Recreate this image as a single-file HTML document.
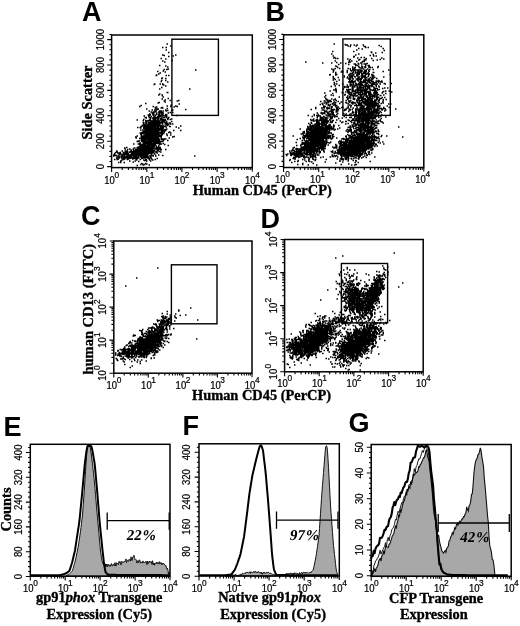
<!DOCTYPE html>
<html><head><meta charset="utf-8"><style>html,body{margin:0;padding:0;background:#fff;width:520px;height:626px;overflow:hidden}svg{display:block;filter:blur(0.45px)}.tl{font-family:'Liberation Sans',sans-serif;stroke:#000;stroke-width:0.22px}</style></head>
<body><svg width="520" height="626" viewBox="0 0 520 626">
<rect width="520" height="626" fill="#fff"/>
<g transform="scale(0.5)"><path d="M303 261h3M308 252h3M297 273h3M296 251h3M296 271h3M290 272h3M289 321h3M318 259h3M296 269h3M295 268h3M303 283h3M298 295h3M304 263h3M295 254h3M308 239h3M312 256h3M284 281h3M295 273h3M286 248h3M289 262h3M281 269h3M295 283h3M290 258h3M304 269h3M311 236h3M304 249h3M266 300h3M306 227h3M301 266h3M300 278h3M286 262h3M299 255h3M290 269h3M292 271h3M311 274h3M301 233h3M300 270h3M313 258h3M297 260h3M298 277h3M298 286h3M296 291h3M290 260h3M296 292h3M308 300h3M279 292h3M302 303h3M302 270h3M294 268h3M316 295h3M315 247h3M287 274h3M303 262h3M308 267h3M307 237h3M311 257h3M299 272h3M302 293h3M309 297h3M294 270h3M303 270h3M300 255h3M299 282h3M289 265h3M291 284h3M289 308h3M309 275h3M319 245h3M291 252h3M299 241h3M313 250h3M273 295h3M294 276h3M307 242h3M309 289h3M301 300h3M299 265h3M300 258h3M314 283h3M292 285h3M291 296h3M297 299h3M293 297h3M291 300h3M285 284h3M308 242h3M310 282h3M309 267h3M295 292h3M301 253h3M303 305h3M297 287h3M305 279h3M282 289h3M298 296h3M281 276h3M292 218h3M293 261h3M307 253h3M322 283h3M286 295h3M296 262h3M308 250h3M295 316h3M301 263h3M304 247h3M306 280h3M293 256h3M295 289h3M303 263h3M294 252h3M302 277h3M287 287h3M313 263h3M300 280h3M301 271h3M280 329h3M302 258h3M273 296h3M289 269h3M304 271h3M275 282h3M304 293h3M276 294h3M306 282h3M295 259h3M311 264h3M299 284h3M282 281h3M306 305h3M312 285h3M294 294h3M290 303h3M298 276h3M298 240h3M317 252h3M302 242h3M291 305h3M296 254h3M287 297h3M284 282h3M304 311h3M293 293h3M310 273h3M301 269h3M293 273h3M296 276h3M297 261h3M300 272h3M288 305h3M306 238h3M285 275h3M296 252h3M316 281h3M289 288h3M299 290h3M322 244h3M280 292h3M301 260h3M290 284h3M281 272h3M321 222h3M304 258h3M285 303h3M303 280h3M293 277h3M306 244h3M282 299h3M279 307h3M313 277h3M296 267h3M311 241h3M295 291h3M282 327h3M291 286h3M300 300h3M294 283h3M303 253h3M293 300h3M318 251h3M308 270h3M302 280h3M290 290h3M284 278h3M308 283h3M314 260h3M305 246h3M305 276h3M311 260h3M315 248h3M316 250h3M298 262h3M325 239h3M294 242h3M317 242h3M304 278h3M307 284h3M309 319h3M323 246h3M292 256h3M278 287h3M309 271h3M291 264h3M291 308h3M310 268h3M289 245h3M285 241h3M301 280h3M299 279h3M304 244h3M305 253h3M289 282h3M302 259h3M287 283h3M281 281h3M314 238h3M302 282h3M293 259h3M304 228h3M291 265h3M287 286h3M294 306h3M303 226h3M290 327h3M309 251h3M316 298h3M280 295h3M304 295h3M306 249h3M282 282h3M299 257h3M320 223h3M285 330h3M297 288h3M288 309h3M316 257h3M292 303h3M270 300h3M280 268h3M273 240h3M296 268h3M325 231h3M309 238h3M288 272h3M296 250h3M312 272h3M302 271h3M291 312h3M293 299h3M301 272h3M302 300h3M310 259h3M304 267h3M285 289h3M311 249h3M295 266h3M318 249h3M287 272h3M290 306h3M285 274h3M322 259h3M321 253h3M302 247h3M300 305h3M292 322h3M271 276h3M306 259h3M296 287h3M303 266h3M285 287h3M296 278h3M297 278h3M309 288h3M306 262h3M302 265h3M324 242h3M297 263h3M303 243h3M282 265h3M321 257h3M309 277h3M307 285h3M314 246h3M305 257h3M307 254h3M294 288h3M289 307h3M296 290h3M317 270h3M298 304h3M287 302h3M297 258h3M330 220h3M292 328h3M293 305h3M302 251h3M288 274h3M300 268h3M308 277h3M304 242h3M301 259h3M295 282h3M278 293h3M297 274h3M279 319h3M313 261h3M291 276h3M316 235h3M322 251h3M290 299h3M299 252h3M295 249h3M306 267h3M323 268h3M300 262h3M286 284h3M292 251h3M287 276h3M313 274h3M286 292h3M297 330h3M311 294h3M303 273h3M306 271h3M324 260h3M303 254h3M299 251h3M288 262h3M303 264h3M311 292h3M312 267h3M291 267h3M298 246h3M287 305h3M300 284h3M289 309h3M298 290h3M295 304h3M298 267h3M296 288h3M288 329h3M305 248h3M299 298h3M310 312h3M304 283h3M297 289h3M276 295h3M307 260h3M278 277h3M290 251h3M312 261h3M310 262h3M299 270h3M282 272h3M294 282h3M301 242h3M296 316h3M317 303h3M298 289h3M294 264h3M289 268h3M297 284h3M296 281h3M297 235h3M273 331h3M321 237h3M306 296h3M309 283h3M298 303h3M295 275h3M289 303h3M288 266h3M288 261h3M307 277h3M300 263h3M315 257h3M299 245h3M298 287h3M305 272h3M310 218h3M310 275h3M308 251h3M290 261h3M283 303h3M314 252h3M310 252h3M273 298h3M313 279h3M298 307h3M312 283h3M301 254h3M297 271h3M282 296h3M321 299h3M298 273h3M316 278h3M294 269h3M305 261h3M273 309h3M296 272h3M316 252h3M307 291h3M300 287h3M290 268h3M298 258h3M295 272h3M308 238h3M301 244h3M287 288h3M299 262h3M288 278h3M281 295h3M296 286h3M309 276h3M273 314h3M295 264h3M286 286h3M306 284h3M299 254h3M315 278h3M293 268h3M314 233h3M299 269h3M294 265h3M308 265h3M307 238h3M289 272h3M305 249h3M297 286h3M292 266h3M286 254h3M309 264h3M283 293h3M284 260h3M301 267h3M310 280h3M279 291h3M301 224h3M297 254h3M294 249h3M296 253h3M304 281h3M297 253h3M304 277h3M288 279h3M292 255h3M281 271h3M295 279h3M306 260h3M306 254h3M315 296h3M294 253h3M285 265h3M284 294h3M289 259h3M307 279h3M314 254h3M285 316h3M316 268h3M274 255h3M308 263h3M290 267h3M307 289h3M287 314h3M284 274h3M283 300h3M313 282h3M305 287h3M292 268h3M281 267h3M297 267h3M311 229h3M301 265h3M291 261h3M301 268h3M311 285h3M325 252h3M291 277h3M299 276h3M296 264h3M304 256h3M300 299h3M304 251h3M295 305h3M294 290h3M295 262h3M286 287h3M305 243h3M303 236h3M309 247h3M288 263h3M286 272h3M305 228h3M286 239h3M304 260h3M304 265h3M303 244h3M301 252h3M290 270h3M294 284h3M292 283h3M306 253h3M292 254h3M307 255h3M299 283h3M309 231h3M289 297h3M287 253h3M303 281h3M297 295h3M301 281h3M299 295h3M293 274h3M291 297h3M295 303h3M284 273h3M312 270h3M291 242h3M306 289h3M297 280h3M273 272h3M315 229h3M285 267h3M284 283h3M297 256h3M312 278h3M308 224h3M299 287h3M321 264h3M312 295h3M308 235h3M294 286h3M288 265h3M309 255h3M307 261h3M290 319h3M314 259h3M296 257h3M313 254h3M302 311h3M308 260h3M306 237h3M298 298h3M284 293h3M279 286h3M300 298h3M304 255h3M304 270h3M290 241h3M304 243h3M289 291h3M295 257h3M266 314h3M296 274h3M312 262h3M300 290h3M285 308h3M297 283h3M314 250h3M270 274h3M292 301h3M308 264h3M311 259h3M312 298h3M311 279h3M305 266h3M312 260h3M293 278h3M299 275h3M303 299h3M316 292h3M306 241h3M297 281h3M297 292h3M311 286h3M318 265h3M295 251h3M293 291h3M303 251h3M319 231h3M305 297h3M288 254h3M292 264h3M311 245h3M300 244h3M291 246h3M312 268h3M303 282h3M317 227h3M291 287h3M308 290h3M291 269h3M299 240h3M293 311h3M302 278h3M284 299h3M291 293h3M313 260h3M288 294h3M299 256h3M314 269h3M313 317h3M319 284h3M300 275h3M291 319h3M314 284h3M303 256h3M307 249h3M299 297h3M286 257h3M289 257h3M306 278h3M304 253h3M299 285h3M317 233h3M299 263h3M307 266h3M292 265h3M295 278h3M296 245h3M308 288h3M296 258h3M304 248h3M305 282h3M289 249h3M291 294h3M320 300h3M302 307h3M300 267h3M313 253h3M316 299h3M296 279h3M291 295h3M312 276h3M299 299h3M302 292h3M317 288h3M315 285h3M306 279h3M275 288h3M302 295h3M297 270h3M284 264h3M293 315h3M303 246h3M298 257h3M298 266h3M266 311h3M311 280h3M298 293h3M316 255h3M318 285h3M273 305h3M285 282h3M306 252h3M305 268h3M297 222h3M300 286h3M296 284h3M306 246h3M292 277h3M278 289h3M293 302h3M321 267h3M315 271h3M307 274h3M315 277h3M294 296h3M298 269h3M302 268h3M294 279h3M292 260h3M326 267h3M295 315h3M300 302h3M286 279h3M298 271h3M298 320h3M302 272h3M292 278h3M294 302h3M295 271h3M304 320h3M285 250h3M290 285h3M300 251h3M297 312h3M308 268h3M314 275h3M279 288h3M303 250h3M313 246h3M290 273h3M280 266h3M298 265h3M288 255h3M308 259h3M300 285h3M308 308h3M308 233h3M294 263h3M288 281h3M293 251h3M305 271h3M299 250h3M277 282h3M300 269h3M302 281h3M314 243h3M297 285h3M311 282h3M299 294h3M298 299h3M291 247h3M302 257h3M290 304h3M295 302h3M290 255h3M322 253h3M291 236h3M306 247h3M299 247h3M297 257h3M306 273h3M289 284h3M312 269h3M326 280h3M294 254h3M286 307h3M288 284h3M288 270h3M281 308h3M283 299h3M298 261h3M279 266h3M292 243h3M295 277h3M301 276h3M284 328h3M282 271h3M306 229h3M311 261h3M305 277h3M295 253h3M292 279h3M289 267h3M311 293h3M305 263h3M314 266h3M302 244h3M313 259h3M291 285h3M307 240h3M325 278h3M304 290h3M297 264h3M298 278h3M306 303h3M289 294h3M281 273h3M305 252h3M296 293h3M305 311h3M292 258h3M310 271h3M321 278h3M310 242h3M297 293h3M311 304h3M296 247h3M306 245h3M311 262h3M296 275h3M304 264h3M288 316h3M288 273h3M296 249h3M301 257h3M305 283h3M292 259h3M281 304h3M307 293h3M319 295h3M318 289h3M301 273h3M292 311h3M320 258h3M288 264h3M318 248h3M312 287h3M303 274h3M309 268h3M311 250h3M294 273h3M287 232h3M309 278h3M307 275h3M305 260h3M317 247h3M286 310h3M318 252h3M288 293h3M280 305h3M317 257h3M282 291h3M299 316h3M315 264h3M293 283h3M310 249h3M297 318h3M295 269h3M285 311h3M302 266h3M300 273h3M288 304h3M312 275h3M306 286h3M314 270h3M306 276h3M323 279h3M313 302h3M312 297h3M281 266h3M294 255h3M306 285h3M298 279h3M300 294h3M309 263h3M318 244h3M273 283h3M292 262h3M304 299h3M294 287h3M305 213h3M304 275h3M298 241h3M285 292h3M272 320h3M302 262h3M294 299h3M298 306h3M292 296h3M295 287h3M294 256h3M313 266h3M298 245h3M301 283h3M301 286h3M318 288h3M296 305h3M315 287h3M305 293h3M290 283h3M287 309h3M314 235h3M299 267h3M287 249h3M307 234h3M280 260h3M290 281h3M300 241h3M291 302h3M301 279h3M287 264h3M293 254h3M285 245h3M316 277h3M308 256h3M290 311h3M303 287h3M319 271h3M310 240h3M308 244h3M299 236h3M302 289h3M308 276h3M303 260h3M317 279h3M273 297h3M311 268h3M301 256h3M288 289h3M292 246h3M308 245h3M332 250h3M309 285h3M276 323h3M291 291h3M309 281h3M297 248h3M294 266h3M310 270h3M286 311h3M298 231h3M282 277h3M291 278h3M280 256h3M307 278h3M289 289h3M317 286h3M299 229h3M301 305h3M300 322h3M287 291h3M285 291h3M284 267h3M319 260h3M279 255h3M284 290h3M298 270h3M311 235h3M315 261h3M282 253h3M307 252h3M306 257h3M285 295h3M283 314h3M307 259h3M295 263h3M315 300h3M328 260h3M278 299h3M296 303h3M325 281h3M305 288h3M300 250h3M292 297h3M295 274h3M297 268h3M293 250h3M308 240h3M301 316h3M306 263h3M302 250h3M313 255h3M315 270h3M306 251h3M290 279h3M296 266h3M288 292h3M302 273h3M311 278h3M280 254h3M276 283h3M304 302h3M315 240h3M317 281h3M306 265h3M307 292h3M324 283h3M319 252h3M295 301h3M344 220h3M313 235h3M321 279h3M310 256h3M309 241h3M300 274h3M314 263h3M321 246h3M323 238h3M302 263h3M278 213h3M296 298h3M296 232h3M297 301h3M339 239h3M311 271h3M321 228h3M325 226h3M320 225h3M290 276h3M337 246h3M312 259h3M322 270h3M305 267h3M333 217h3M295 290h3M314 271h3M329 252h3M327 235h3M323 215h3M318 222h3M330 278h3M314 247h3M322 230h3M338 253h3M312 296h3M324 252h3M315 241h3M330 299h3M314 268h3M320 260h3M318 242h3M312 214h3M309 223h3M324 248h3M321 254h3M307 262h3M294 261h3M293 252h3M306 225h3M347 214h3M334 251h3M360 252h3M332 247h3M316 224h3M281 211h3M307 250h3M333 247h3M324 255h3M322 261h3M313 306h3M307 235h3M282 278h3M319 298h3M339 246h3M303 304h3M298 251h3M309 270h3M311 256h3M322 255h3M296 282h3M332 245h3M328 235h3M297 277h3M335 237h3M313 268h3M291 292h3M308 220h3M323 266h3M339 225h3M327 243h3M315 237h3M295 270h3M289 271h3M319 237h3M319 257h3M325 244h3M312 235h3M305 274h3M306 293h3M326 231h3M335 197h3M315 218h3M326 235h3M320 255h3M304 268h3M306 248h3M328 244h3M344 274h3M320 233h3M254 299h3M314 234h3M342 243h3M315 245h3M321 216h3M319 239h3M324 241h3M298 272h3M318 246h3M305 231h3M336 235h3M340 266h3M325 256h3M335 249h3M316 285h3M333 271h3M328 262h3M333 212h3M330 229h3M309 273h3M304 288h3M314 262h3M291 235h3M309 244h3M295 230h3M305 278h3M311 263h3M295 241h3M326 253h3M319 273h3M312 264h3M344 248h3M320 304h3M327 262h3M305 291h3M327 260h3M317 229h3M310 237h3M327 202h3M300 282h3M315 206h3M330 241h3M323 234h3M287 251h3M332 249h3M319 246h3M324 258h3M309 252h3M316 267h3M322 240h3M313 275h3M344 225h3M332 248h3M303 292h3M353 202h3M323 242h3M323 278h3M261 300h3M357 208h3M301 288h3M283 283h3M302 275h3M337 276h3M329 239h3M286 264h3M332 235h3M312 248h3M328 289h3M312 226h3M289 235h3M323 225h3M297 279h3M283 251h3M335 226h3M336 265h3M298 228h3M336 249h3M351 254h3M319 240h3M318 284h3M321 258h3M329 248h3M313 242h3M303 220h3M334 281h3M285 298h3M305 286h3M292 252h3M299 243h3M304 261h3M300 288h3M319 283h3M327 244h3M308 289h3M331 254h3M323 253h3M317 205h3M317 225h3M320 239h3M326 260h3M323 261h3M324 216h3M330 261h3M325 222h3M312 265h3M305 251h3M288 298h3M307 267h3M327 278h3M332 268h3M325 287h3M332 230h3M315 284h3M335 291h3M311 222h3M342 238h3M290 293h3M290 207h3M323 269h3M328 253h3M343 221h3M350 212h3M352 231h3M326 261h3M307 246h3M321 275h3M340 213h3M300 242h3M327 240h3M324 228h3M309 239h3M321 256h3M309 215h3M305 239h3M316 310h3M305 224h3M334 221h3M319 266h3M316 273h3M294 259h3M321 230h3M332 244h3M305 236h3M310 279h3M315 258h3M316 280h3M312 218h3M331 222h3M304 272h3M314 219h3M320 251h3M315 254h3M339 201h3M294 308h3M327 263h3M299 248h3M298 297h3M332 233h3M340 270h3M324 256h3M323 264h3M297 265h3M299 238h3M347 273h3M325 243h3M330 246h3M323 256h3M338 264h3M329 232h3M314 297h3M321 288h3M340 248h3M339 253h3M300 303h3M341 210h3M327 264h3M334 238h3M313 219h3M299 306h3M346 261h3M286 298h3M325 263h3M321 272h3M315 274h3M298 252h3M302 255h3M334 239h3M360 261h3M321 268h3M329 247h3M306 243h3M316 231h3M290 271h3M290 300h3M302 248h3M264 317h3M287 270h3M315 269h3M320 245h3M356 201h3M329 259h3M308 258h3M303 302h3M310 217h3M324 311h3M332 258h3M325 194h3M317 261h3M300 301h3M252 315h3M273 301h3M303 306h3M282 310h3M267 315h3M280 313h3M262 309h3M280 298h3M274 299h3M272 312h3M248 313h3M270 305h3M273 308h3M285 306h3M287 303h3M254 307h3M295 317h3M277 303h3M281 298h3M246 308h3M312 305h3M271 312h3M265 308h3M293 304h3M285 304h3M268 302h3M253 319h3M290 307h3M302 318h3M261 305h3M253 310h3M282 311h3M253 303h3M278 301h3M260 311h3M277 309h3M281 305h3M284 312h3M255 317h3M255 313h3M308 302h3M250 315h3M296 304h3M276 310h3M277 305h3M276 298h3M282 300h3M281 311h3M283 308h3M273 317h3M280 314h3M258 316h3M270 304h3M277 306h3M268 309h3M269 302h3M260 313h3M270 314h3M249 309h3M258 322h3M276 305h3M282 305h3M263 308h3M268 304h3M278 309h3M305 312h3M271 311h3M265 312h3M264 308h3M294 295h3M261 309h3M283 301h3M271 314h3M270 308h3M290 315h3M307 307h3M270 312h3M276 313h3M262 305h3M288 321h3M271 307h3M282 304h3M266 304h3M270 299h3M276 307h3M275 309h3M282 317h3M265 324h3M250 306h3M283 312h3M310 304h3M278 310h3M282 306h3M310 311h3M272 311h3M268 311h3M288 312h3M291 307h3M265 311h3M300 313h3M281 309h3M247 312h3M274 302h3M269 306h3M277 300h3M277 308h3M268 296h3M291 304h3M258 311h3M259 304h3M301 310h3M299 296h3M259 303h3M267 309h3M290 312h3M274 300h3M274 303h3M288 299h3M274 306h3M265 298h3M292 308h3M307 301h3M280 309h3M273 302h3M278 298h3M282 302h3M287 312h3M276 304h3M275 314h3M274 310h3M290 302h3M295 308h3M280 302h3M257 305h3M272 299h3M255 312h3M278 306h3M280 306h3M296 301h3M286 314h3M254 308h3M266 316h3M267 317h3M276 309h3M277 296h3M274 304h3M267 312h3M269 308h3M270 317h3M279 303h3M239 305h3M280 300h3M292 300h3M275 301h3M258 317h3M267 310h3M229 311h3M276 316h3M284 307h3M284 309h3M270 306h3M264 304h3M298 305h3M280 301h3M280 304h3M300 312h3M286 300h3M276 306h3M275 305h3M275 310h3M294 314h3M283 295h3M289 305h3M263 310h3M313 300h3M263 306h3M285 305h3M274 307h3M247 311h3M264 315h3M259 310h3M292 304h3M278 302h3M279 300h3M271 309h3M294 300h3M263 303h3M276 308h3M269 311h3M284 295h3M270 318h3M286 305h3M260 316h3M268 305h3M269 322h3M315 294h3M264 309h3M297 306h3M286 320h3M265 303h3M255 310h3M286 309h3M253 304h3M245 313h3M263 316h3M251 314h3M252 305h3M254 312h3M299 303h3M268 303h3M264 318h3M247 325h3M250 309h3M279 305h3M285 313h3M314 301h3M272 302h3M277 311h3M237 309h3M283 307h3M269 315h3M294 304h3M303 297h3M255 314h3M267 307h3M294 305h3M277 307h3M263 315h3M267 296h3M271 310h3M287 296h3M261 303h3M234 306h3M253 305h3M228 319h3M237 314h3M253 315h3M271 318h3M246 315h3M242 316h3M248 306h3M262 306h3M258 314h3M246 319h3M240 325h3M236 314h3M257 311h3M246 317h3M241 312h3M254 310h3M249 305h3M245 305h3M238 315h3M252 303h3M248 317h3M249 316h3M233 304h3M234 319h3M239 307h3M255 308h3M249 298h3M241 313h3M258 312h3M236 306h3M269 304h3M264 305h3M236 325h3M249 302h3M235 318h3M232 302h3M253 301h3M232 316h3M243 309h3M243 318h3M265 307h3M257 304h3M248 296h3M250 313h3M230 305h3M240 322h3M233 319h3M251 304h3M244 309h3M251 308h3M228 307h3M251 313h3M242 314h3M226 310h3M248 318h3M233 314h3M252 295h3M253 307h3M256 310h3M250 316h3M226 312h3M262 308h3M228 309h3M238 309h3M240 308h3M245 314h3M267 306h3M243 302h3M261 313h3M246 313h3M262 316h3M254 316h3M236 311h3M250 303h3M242 321h3M256 313h3M255 318h3M232 311h3M258 298h3M243 312h3M262 310h3M253 311h3M237 316h3M258 313h3M330 172h3M324 122h3M333 185h3M334 164h3M322 161h3M322 175h3M319 168h3M330 118h3M335 138h3M336 105h3M318 131h3M316 190h3M314 143h3M343 121h3M331 100h3M326 170h3M318 188h3M329 204h3M311 151h3M323 190h3M345 112h3M323 156h3M328 124h3M330 157h3M318 178h3M323 191h3M336 113h3M323 198h3M330 132h3M327 111h3M329 144h3M331 95h3M336 151h3M330 161h3M325 142h3M307 169h3M332 139h3M331 151h3M324 95h3M312 150h3M321 117h3M334 134h3M319 146h3M322 157h3M333 88h3M340 92h3M327 139h3M324 168h3M321 163h3M334 185h3M329 200h3M324 169h3M316 148h3M324 110h3M350 110h3M390 140h3M378 178h3M353 213h3M370 219h3M388 312h3M356 256h3M266 288h3M308 168h3M647 226h3M621 283h3M650 251h3M622 297h3M649 245h3M651 239h3M635 285h3M629 284h3M634 279h3M649 254h3M617 289h3M637 241h3M642 269h3M645 262h3M634 266h3M618 289h3M663 277h3M618 281h3M622 287h3M654 244h3M633 246h3M637 268h3M657 275h3M638 286h3M660 242h3M630 292h3M625 290h3M644 278h3M646 248h3M628 273h3M639 265h3M635 291h3M636 275h3M631 293h3M616 255h3M629 310h3M682 245h3M657 264h3M623 282h3M640 241h3M627 291h3M635 246h3M639 281h3M637 254h3M647 272h3M644 286h3M612 261h3M639 269h3M601 312h3M617 267h3M636 253h3M620 291h3M634 297h3M603 289h3M623 315h3M663 269h3M627 299h3M625 300h3M632 275h3M617 273h3M671 221h3M642 266h3M620 313h3M678 256h3M645 269h3M633 283h3M642 295h3M600 298h3M640 235h3M628 274h3M616 287h3M654 254h3M629 272h3M629 321h3M633 309h3M634 290h3M657 223h3M640 276h3M636 287h3M624 263h3M636 276h3M637 272h3M659 266h3M642 287h3M627 264h3M637 270h3M624 268h3M630 293h3M620 274h3M655 258h3M637 275h3M637 290h3M636 265h3M604 288h3M642 300h3M641 255h3M643 289h3M615 315h3M622 309h3M652 285h3M626 294h3M654 271h3M633 239h3M627 278h3M625 284h3M632 283h3M655 275h3M608 273h3M623 291h3M625 270h3M635 298h3M647 239h3M645 263h3M612 300h3M640 286h3M629 271h3M646 251h3M613 273h3M627 292h3M657 252h3M620 282h3M638 291h3M606 271h3M625 242h3M612 277h3M643 244h3M616 303h3M630 277h3M644 252h3M625 305h3M614 294h3M626 255h3M595 310h3M665 269h3M604 267h3M617 296h3M672 240h3M626 297h3M624 269h3M653 260h3M641 289h3M635 248h3M651 261h3M640 268h3M657 258h3M629 313h3M643 248h3M625 252h3M640 271h3M650 286h3M630 294h3M625 292h3M660 284h3M625 261h3M641 281h3M617 287h3M625 289h3M639 266h3M670 245h3M599 310h3M616 290h3M613 270h3M633 284h3M633 262h3M647 258h3M625 262h3M631 269h3M650 269h3M646 246h3M642 273h3M631 289h3M634 263h3M616 266h3M665 241h3M636 272h3M644 279h3M625 240h3M634 232h3M605 270h3M632 254h3M637 291h3M643 270h3M625 287h3M637 269h3M656 251h3M630 272h3M626 288h3M614 253h3M632 265h3M637 300h3M615 295h3M622 289h3M614 291h3M622 281h3M635 296h3M620 290h3M617 277h3M599 258h3M624 274h3M585 309h3M613 264h3M643 275h3M643 272h3M612 263h3M638 285h3M649 256h3M646 233h3M636 285h3M633 235h3M615 269h3M608 290h3M623 312h3M614 274h3M626 258h3M635 247h3M643 261h3M664 241h3M624 272h3M619 267h3M620 284h3M636 269h3M621 271h3M643 263h3M656 277h3M645 238h3M631 278h3M623 274h3M619 277h3M631 250h3M620 305h3M646 263h3M621 289h3M631 277h3M656 264h3M630 300h3M630 278h3M628 284h3M639 279h3M620 280h3M631 264h3M613 265h3M639 262h3M642 243h3M644 265h3M626 259h3M627 272h3M608 292h3M639 236h3M638 281h3M651 230h3M648 258h3M657 232h3M635 229h3M625 275h3M626 273h3M639 276h3M642 261h3M606 315h3M642 277h3M643 259h3M619 310h3M633 291h3M635 267h3M615 296h3M633 280h3M633 282h3M654 262h3M630 298h3M626 276h3M629 248h3M639 260h3M620 292h3M647 274h3M627 273h3M622 286h3M638 282h3M643 243h3M623 286h3M639 303h3M620 309h3M630 283h3M613 284h3M620 308h3M635 270h3M615 309h3M607 305h3M623 290h3M609 309h3M625 293h3M656 266h3M623 299h3M611 271h3M613 268h3M608 296h3M643 264h3M626 290h3M632 256h3M622 258h3M621 259h3M629 258h3M642 290h3M606 286h3M624 318h3M632 305h3M618 293h3M618 296h3M610 296h3M631 292h3M628 281h3M643 278h3M649 273h3M641 267h3M638 272h3M644 251h3M629 287h3M620 268h3M635 279h3M630 282h3M615 283h3M660 276h3M623 267h3M640 239h3M659 234h3M633 226h3M606 299h3M636 231h3M616 278h3M614 302h3M625 312h3M619 315h3M633 300h3M611 323h3M651 267h3M621 282h3M630 263h3M662 259h3M654 255h3M608 320h3M641 280h3M625 254h3M629 277h3M622 263h3M638 248h3M661 256h3M645 264h3M620 276h3M608 314h3M607 288h3M612 310h3M632 287h3M635 275h3M626 238h3M660 237h3M638 271h3M625 313h3M624 300h3M629 264h3M648 250h3M641 268h3M612 295h3M611 314h3M627 254h3M620 260h3M634 268h3M628 242h3M621 272h3M627 282h3M643 292h3M641 278h3M632 231h3M647 259h3M640 269h3M635 263h3M661 266h3M666 250h3M611 308h3M618 274h3M649 293h3M602 312h3M645 280h3M645 297h3M621 270h3M621 300h3M622 283h3M648 292h3M624 301h3M654 236h3M644 280h3M633 266h3M631 267h3M676 251h3M614 284h3M635 256h3M634 271h3M627 231h3M647 273h3M643 235h3M636 254h3M621 269h3M619 270h3M634 274h3M632 330h3M634 288h3M652 256h3M622 255h3M638 263h3M621 265h3M646 268h3M638 258h3M613 307h3M630 276h3M629 265h3M618 261h3M639 275h3M601 294h3M613 277h3M616 295h3M658 212h3M630 302h3M612 314h3M633 277h3M650 243h3M633 292h3M618 253h3M655 243h3M628 258h3M618 298h3M619 287h3M649 259h3M615 330h3M620 239h3M631 273h3M667 260h3M626 306h3M641 293h3M622 293h3M615 268h3M620 267h3M636 283h3M662 245h3M612 290h3M618 291h3M638 269h3M624 279h3M630 315h3M649 297h3M629 276h3M642 244h3M629 259h3M607 263h3M644 276h3M626 275h3M647 304h3M630 286h3M605 277h3M644 288h3M624 283h3M627 229h3M627 305h3M655 257h3M615 288h3M632 276h3M641 282h3M642 258h3M637 306h3M626 278h3M625 274h3M593 279h3M613 286h3M639 286h3M651 248h3M627 263h3M590 298h3M624 281h3M637 277h3M625 303h3M649 290h3M643 245h3M628 298h3M610 274h3M614 259h3M650 258h3M629 280h3M618 304h3M632 260h3M639 254h3M635 289h3M666 256h3M653 232h3M619 257h3M652 270h3M640 274h3M644 269h3M629 283h3M657 286h3M638 265h3M641 270h3M614 289h3M623 289h3M671 215h3M634 252h3M652 280h3M644 242h3M644 267h3M632 267h3M659 273h3M626 286h3M636 243h3M620 254h3M626 270h3M639 253h3M612 297h3M651 260h3M587 295h3M609 286h3M622 247h3M643 286h3M628 269h3M632 247h3M639 283h3M605 311h3M649 249h3M604 274h3M643 283h3M641 272h3M647 277h3M617 295h3M649 261h3M618 308h3M642 250h3M624 289h3M623 276h3M637 288h3M619 296h3M651 287h3M604 285h3M625 327h3M634 260h3M601 289h3M640 293h3M634 283h3M625 258h3M634 289h3M636 242h3M632 242h3M603 297h3M630 269h3M617 275h3M626 284h3M642 275h3M630 266h3M618 266h3M605 288h3M616 296h3M633 310h3M636 288h3M626 268h3M659 250h3M612 281h3M632 298h3M631 266h3M630 296h3M623 304h3M627 276h3M622 298h3M616 276h3M649 243h3M678 293h3M632 290h3M641 260h3M652 264h3M614 265h3M622 273h3M624 297h3M609 284h3M645 289h3M639 287h3M624 275h3M643 220h3M637 276h3M634 286h3M622 300h3M645 257h3M621 279h3M625 295h3M620 259h3M652 240h3M650 278h3M658 261h3M619 286h3M637 258h3M625 318h3M648 290h3M624 252h3M632 264h3M639 291h3M606 300h3M617 292h3M666 273h3M632 285h3M604 319h3M643 247h3M628 306h3M640 234h3M649 250h3M627 250h3M622 260h3M619 265h3M616 286h3M619 273h3M634 284h3M628 255h3M621 313h3M613 258h3M619 249h3M633 289h3M663 244h3M626 279h3M632 243h3M635 257h3M628 295h3M632 255h3M619 279h3M620 261h3M597 306h3M641 279h3M648 256h3M631 248h3M629 252h3M623 275h3M637 279h3M608 287h3M607 266h3M614 275h3M637 287h3M610 284h3M614 286h3M645 270h3M646 240h3M634 257h3M660 230h3M648 274h3M631 262h3M642 254h3M611 309h3M624 265h3M626 307h3M600 291h3M654 260h3M604 329h3M640 257h3M639 274h3M643 285h3M641 248h3M629 274h3M648 291h3M604 300h3M637 257h3M613 290h3M634 270h3M631 281h3M655 290h3M611 267h3M642 281h3M644 263h3M630 261h3M625 283h3M627 271h3M644 254h3M649 268h3M623 253h3M645 283h3M625 277h3M646 286h3M643 266h3M644 283h3M652 253h3M674 227h3M641 239h3M649 262h3M652 257h3M646 300h3M624 240h3M626 280h3M648 273h3M632 244h3M646 244h3M648 297h3M642 291h3M614 285h3M626 319h3M641 288h3M633 279h3M626 263h3M636 255h3M617 318h3M653 241h3M605 264h3M639 255h3M637 273h3M641 269h3M644 255h3M652 276h3M631 260h3M632 292h3M640 253h3M614 276h3M653 272h3M601 268h3M622 271h3M634 282h3M648 265h3M640 258h3M646 302h3M618 294h3M636 264h3M620 270h3M642 239h3M663 236h3M647 262h3M642 241h3M659 245h3M608 275h3M648 241h3M598 314h3M632 279h3M616 283h3M659 271h3M661 253h3M647 250h3M649 265h3M629 309h3M674 258h3M638 259h3M632 281h3M625 285h3M585 272h3M614 273h3M608 316h3M635 297h3M649 276h3M652 274h3M658 273h3M650 256h3M665 254h3M626 281h3M646 242h3M608 303h3M631 302h3M625 301h3M649 266h3M672 276h3M629 275h3M652 269h3M635 288h3M637 265h3M635 264h3M628 292h3M642 278h3M627 302h3M656 226h3M631 287h3M636 289h3M657 249h3M615 231h3M636 249h3M637 261h3M628 286h3M646 273h3M634 287h3M641 257h3M630 280h3M639 305h3M660 234h3M642 296h3M636 277h3M621 245h3M621 303h3M648 239h3M650 268h3M620 307h3M656 254h3M636 278h3M630 281h3M624 296h3M625 288h3M630 249h3M648 249h3M619 298h3M650 245h3M622 272h3M651 264h3M645 237h3M642 283h3M615 259h3M606 295h3M618 323h3M633 269h3M625 296h3M627 258h3M643 258h3M592 291h3M643 277h3M630 257h3M641 298h3M613 294h3M615 255h3M623 233h3M648 284h3M648 245h3M633 258h3M611 293h3M596 311h3M643 253h3M643 299h3M655 230h3M616 247h3M625 308h3M621 286h3M645 246h3M667 252h3M639 263h3M620 277h3M644 266h3M647 234h3M637 297h3M650 267h3M654 252h3M636 282h3M639 257h3M633 268h3M627 298h3M627 261h3M641 262h3M658 239h3M636 248h3M620 285h3M594 329h3M637 250h3M615 266h3M652 244h3M647 275h3M620 289h3M626 312h3M641 275h3M640 272h3M625 281h3M615 292h3M625 282h3M642 260h3M626 295h3M637 259h3M631 286h3M612 271h3M614 288h3M623 271h3M638 261h3M641 253h3M634 251h3M646 267h3M603 285h3M622 266h3M657 273h3M626 277h3M638 268h3M622 288h3M631 275h3M654 274h3M618 305h3M634 293h3M626 314h3M610 290h3M642 299h3M655 259h3M616 282h3M640 280h3M630 289h3M664 275h3M650 259h3M645 274h3M639 290h3M624 304h3M654 266h3M652 277h3M632 246h3M615 294h3M666 252h3M611 287h3M633 267h3M648 272h3M620 283h3M645 250h3M635 277h3M607 275h3M649 264h3M645 261h3M624 267h3M627 265h3M643 257h3M641 263h3M646 294h3M634 303h3M635 254h3M638 305h3M621 287h3M647 282h3M644 293h3M618 287h3M610 307h3M645 255h3M617 281h3M624 266h3M631 268h3M629 301h3M616 271h3M663 257h3M599 277h3M627 269h3M637 281h3M614 272h3M619 312h3M628 263h3M616 309h3M644 268h3M623 296h3M632 286h3M645 286h3M641 276h3M629 253h3M644 261h3M633 286h3M616 268h3M642 268h3M634 250h3M618 301h3M649 253h3M618 302h3M612 259h3M639 296h3M644 228h3M614 254h3M641 238h3M638 278h3M631 255h3M625 294h3M619 276h3M661 278h3M669 259h3M616 319h3M630 255h3M645 268h3M607 280h3M623 263h3M636 232h3M609 291h3M627 287h3M643 269h3M639 232h3M622 279h3M629 281h3M636 262h3M629 263h3M648 269h3M632 270h3M679 242h3M652 282h3M635 261h3M640 289h3M629 261h3M621 295h3M624 273h3M647 244h3M624 251h3M614 258h3M665 273h3M649 282h3M640 291h3M633 281h3M636 293h3M655 267h3M646 276h3M645 275h3M623 269h3M660 238h3M629 267h3M635 242h3M605 294h3M609 282h3M656 276h3M637 302h3M649 269h3M623 281h3M601 301h3M586 305h3M604 327h3M658 257h3M646 269h3M613 288h3M629 279h3M645 282h3M648 287h3M635 280h3M661 258h3M622 274h3M657 253h3M620 302h3M635 268h3M666 219h3M652 281h3M624 285h3M646 292h3M632 306h3M626 287h3M640 282h3M652 237h3M627 277h3M615 282h3M649 258h3M633 287h3M662 244h3M621 219h3M611 269h3M639 267h3M648 226h3M633 276h3M607 277h3M635 274h3M628 279h3M605 276h3M613 295h3M620 278h3M651 319h3M603 281h3M637 264h3M637 280h3M616 292h3M621 261h3M644 245h3M625 299h3M620 288h3M627 284h3M640 266h3M664 269h3M652 252h3M653 256h3M612 287h3M644 259h3M614 310h3M656 259h3M642 285h3M641 254h3M634 277h3M658 286h3M626 260h3M629 286h3M625 309h3M640 265h3M629 295h3M640 279h3M622 324h3M642 263h3M651 240h3M636 286h3M630 319h3M636 310h3M650 274h3M617 278h3M629 278h3M646 295h3M637 240h3M650 264h3M631 283h3M633 252h3M629 270h3M645 278h3M637 295h3M617 268h3M644 246h3M617 274h3M627 279h3M622 252h3M630 290h3M627 255h3M632 253h3M656 271h3M645 284h3M585 317h3M641 227h3M619 291h3M665 231h3M591 285h3M621 241h3M620 266h3M658 255h3M620 255h3M628 294h3M630 295h3M644 284h3M632 278h3M630 270h3M620 273h3M634 278h3M611 306h3M647 271h3M629 292h3M639 284h3M603 288h3M662 236h3M604 310h3M626 266h3M637 246h3M643 284h3M616 322h3M619 280h3M634 244h3M638 266h3M613 297h3M665 258h3M619 262h3M617 258h3M606 314h3M619 300h3M648 266h3M663 272h3M633 231h3M628 288h3M634 292h3M636 261h3M642 286h3M653 274h3M642 265h3M629 255h3M631 240h3M615 263h3M654 285h3M643 254h3M600 304h3M628 305h3M651 251h3M637 283h3M639 277h3M619 252h3M619 301h3M622 282h3M633 264h3M658 272h3M653 276h3M645 296h3M600 303h3M642 280h3M624 260h3M633 256h3M609 271h3M646 296h3M659 254h3M625 278h3M640 290h3M646 282h3M621 291h3M606 306h3M621 297h3M617 298h3M594 310h3M604 307h3M593 298h3M609 293h3M604 309h3M602 304h3M596 315h3M594 298h3M612 307h3M598 300h3M592 311h3M579 319h3M607 293h3M592 309h3M572 311h3M597 303h3M581 311h3M628 289h3M579 305h3M600 308h3M623 302h3M588 305h3M583 301h3M588 323h3M586 316h3M599 307h3M605 296h3M603 300h3M599 306h3M592 301h3M607 312h3M598 306h3M588 310h3M592 300h3M571 309h3M613 302h3M605 301h3M614 298h3M592 308h3M613 309h3M611 299h3M589 308h3M605 312h3M602 300h3M587 309h3M592 305h3M594 309h3M587 310h3M609 296h3M595 304h3M608 307h3M588 315h3M590 313h3M613 305h3M581 308h3M612 298h3M586 315h3M594 299h3M609 301h3M609 290h3M597 301h3M605 295h3M593 310h3M614 295h3M598 303h3M620 293h3M597 314h3M629 296h3M603 295h3M600 301h3M587 306h3M604 301h3M579 307h3M588 318h3M582 309h3M594 305h3M595 321h3M589 318h3M596 309h3M603 308h3M590 307h3M594 307h3M614 300h3M596 300h3M588 303h3M601 307h3M589 310h3M585 296h3M616 299h3M604 311h3M591 303h3M578 302h3M597 298h3M587 301h3M583 308h3M582 325h3M609 298h3M601 296h3M612 303h3M589 309h3M617 309h3M582 302h3M584 299h3M626 298h3M607 304h3M591 314h3M613 291h3M600 299h3M599 304h3M589 313h3M596 308h3M594 303h3M602 297h3M600 310h3M602 309h3M594 323h3M617 291h3M583 306h3M599 300h3M584 307h3M587 305h3M580 310h3M599 309h3M596 306h3M621 307h3M601 306h3M602 305h3M608 301h3M601 304h3M580 306h3M595 313h3M578 321h3M592 297h3M602 302h3M601 313h3M574 308h3M593 313h3M616 305h3M584 301h3M615 301h3M658 229h3M647 216h3M649 223h3M678 207h3M658 201h3M652 222h3M661 190h3M661 203h3M672 233h3M650 204h3M651 200h3M671 201h3M643 216h3M658 211h3M671 224h3M661 215h3M647 248h3M655 209h3M659 182h3M653 218h3M661 219h3M672 224h3M677 194h3M649 236h3M652 216h3M667 219h3M648 186h3M653 225h3M657 216h3M642 238h3M651 208h3M669 198h3M642 216h3M654 200h3M651 223h3M666 200h3M646 212h3M672 217h3M657 217h3M659 209h3M660 203h3M653 215h3M652 206h3M663 214h3M669 180h3M671 220h3M665 225h3M657 228h3M648 223h3M670 212h3M650 191h3M663 234h3M661 229h3M672 229h3M664 226h3M654 216h3M658 223h3M656 217h3M646 220h3M652 199h3M663 208h3M663 229h3M643 207h3M670 177h3M664 222h3M671 180h3M641 247h3M667 233h3M644 226h3M669 209h3M681 204h3M639 209h3M662 219h3M666 206h3M661 221h3M648 227h3M654 227h3M650 197h3M671 182h3M665 220h3M655 205h3M652 246h3M659 223h3M653 236h3M653 246h3M646 215h3M630 215h3M662 234h3M674 222h3M647 206h3M656 204h3M663 219h3M672 211h3M663 233h3M674 216h3M652 242h3M658 240h3M669 199h3M650 235h3M674 215h3M660 243h3M667 230h3M655 216h3M667 232h3M651 206h3M662 225h3M630 217h3M649 213h3M665 227h3M659 201h3M659 228h3M648 194h3M673 233h3M663 228h3M656 230h3M666 210h3M649 270h3M675 219h3M661 222h3M647 202h3M650 242h3M675 214h3M661 237h3M659 202h3M664 225h3M662 213h3M661 236h3M644 209h3M654 202h3M664 228h3M662 198h3M667 204h3M676 237h3M664 187h3M658 232h3M655 211h3M657 202h3M641 225h3M640 203h3M674 220h3M655 232h3M668 234h3M661 218h3M664 207h3M670 205h3M669 211h3M644 227h3M669 232h3M648 221h3M655 242h3M687 221h3M678 217h3M658 150h3M670 132h3M669 159h3M667 169h3M680 126h3M674 135h3M671 149h3M665 112h3M670 150h3M666 141h3M669 122h3M670 117h3M665 153h3M669 172h3M675 155h3M674 117h3M668 168h3M659 149h3M672 163h3M671 181h3M668 115h3M666 139h3M672 125h3M666 116h3M668 208h3M661 173h3M667 88h3M667 157h3M662 126h3M666 180h3M670 147h3M662 138h3M672 149h3M665 156h3M670 145h3M669 137h3M665 160h3M662 108h3M665 144h3M665 140h3M676 129h3M672 168h3M664 103h3M672 133h3M715 281h3M725 291h3M694 294h3M712 292h3M688 305h3M710 276h3M706 298h3M706 286h3M707 291h3M714 289h3M715 298h3M684 310h3M729 302h3M721 289h3M715 285h3M699 291h3M706 300h3M700 312h3M735 285h3M704 289h3M715 293h3M716 292h3M708 293h3M742 271h3M697 272h3M706 288h3M739 291h3M713 293h3M676 284h3M717 289h3M694 280h3M721 307h3M725 288h3M722 275h3M720 296h3M685 294h3M698 302h3M723 287h3M689 289h3M715 297h3M718 275h3M708 306h3M727 286h3M734 272h3M682 285h3M748 293h3M706 308h3M733 270h3M717 306h3M715 292h3M717 287h3M748 276h3M711 289h3M716 304h3M727 287h3M705 275h3M701 317h3M726 294h3M702 284h3M729 281h3M701 287h3M699 297h3M669 313h3M696 300h3M701 290h3M683 295h3M731 292h3M691 298h3M728 307h3M718 280h3M694 306h3M707 294h3M685 295h3M740 293h3M706 295h3M716 280h3M714 287h3M747 287h3M690 288h3M712 305h3M730 291h3M733 280h3M730 298h3M692 317h3M714 296h3M717 291h3M708 311h3M715 305h3M703 285h3M697 295h3M704 292h3M726 271h3M712 300h3M717 290h3M709 293h3M719 283h3M716 289h3M695 301h3M718 284h3M731 282h3M703 303h3M693 299h3M720 302h3M705 286h3M709 278h3M691 299h3M694 291h3M717 297h3M740 285h3M711 310h3M707 308h3M673 300h3M698 282h3M693 298h3M728 281h3M687 295h3M694 296h3M681 287h3M704 310h3M698 285h3M682 296h3M723 292h3M693 282h3M695 308h3M727 295h3M699 286h3M706 289h3M693 280h3M704 309h3M701 288h3M687 292h3M718 295h3M720 303h3M725 273h3M694 293h3M670 290h3M736 288h3M697 299h3M702 318h3M719 287h3M715 286h3M725 279h3M701 279h3M701 303h3M709 295h3M693 294h3M703 286h3M734 293h3M691 319h3M688 296h3M724 292h3M685 320h3M699 290h3M672 295h3M752 274h3M737 280h3M696 293h3M711 284h3M720 272h3M679 291h3M698 287h3M734 289h3M692 291h3M681 310h3M746 283h3M703 287h3M714 284h3M742 286h3M714 294h3M734 274h3M720 291h3M682 303h3M705 306h3M693 290h3M702 304h3M705 298h3M689 290h3M733 293h3M719 298h3M690 286h3M729 305h3M713 279h3M685 292h3M682 300h3M723 295h3M726 292h3M699 295h3M710 306h3M722 291h3M710 321h3M650 290h3M684 298h3M691 288h3M692 300h3M659 314h3M686 289h3M718 277h3M703 292h3M710 265h3M708 303h3M705 294h3M710 292h3M719 292h3M691 289h3M737 281h3M699 307h3M713 302h3M749 273h3M677 297h3M744 292h3M726 291h3M697 293h3M712 269h3M713 282h3M741 259h3M721 300h3M695 290h3M713 288h3M715 317h3M706 306h3M716 275h3M722 286h3M671 295h3M718 271h3M689 302h3M717 315h3M690 317h3M720 288h3M699 293h3M704 296h3M717 300h3M698 281h3M716 270h3M718 309h3M717 292h3M702 312h3M712 294h3M739 296h3M713 284h3M713 296h3M731 300h3M690 311h3M701 291h3M698 306h3M720 281h3M711 277h3M694 304h3M739 295h3M706 303h3M703 281h3M721 297h3M710 299h3M726 281h3M696 271h3M735 292h3M687 307h3M715 272h3M740 264h3M696 308h3M772 272h3M709 290h3M695 302h3M678 301h3M708 283h3M700 299h3M725 281h3M710 302h3M685 310h3M697 288h3M713 310h3M739 268h3M717 294h3M736 293h3M701 310h3M714 267h3M707 304h3M731 297h3M682 319h3M721 264h3M704 287h3M663 310h3M704 290h3M729 299h3M696 290h3M697 311h3M696 304h3M738 265h3M702 285h3M744 273h3M677 307h3M712 302h3M716 287h3M701 305h3M695 281h3M718 256h3M680 301h3M715 295h3M738 277h3M681 293h3M684 307h3M695 319h3M722 279h3M690 291h3M684 324h3M695 298h3M684 309h3M727 298h3M695 310h3M741 289h3M711 302h3M713 290h3M708 287h3M714 299h3M705 287h3M700 300h3M696 286h3M710 291h3M703 291h3M717 288h3M696 299h3M680 302h3M702 273h3M708 305h3M714 288h3M717 280h3M731 289h3M713 304h3M713 309h3M704 307h3M690 307h3M710 279h3M749 290h3M716 302h3M744 287h3M735 291h3M691 300h3M697 292h3M724 298h3M725 300h3M707 282h3M743 288h3M702 298h3M718 298h3M678 308h3M732 295h3M695 309h3M724 296h3M686 287h3M729 293h3M696 298h3M726 293h3M707 279h3M704 304h3M680 299h3M698 307h3M757 278h3M719 296h3M739 266h3M699 298h3M735 290h3M730 284h3M711 304h3M709 307h3M700 298h3M682 314h3M719 291h3M711 297h3M707 302h3M695 311h3M685 302h3M713 300h3M735 286h3M712 306h3M683 298h3M744 260h3M748 279h3M682 297h3M744 299h3M703 295h3M731 284h3M693 293h3M696 301h3M691 290h3M696 289h3M682 318h3M685 290h3M720 287h3M721 281h3M708 279h3M719 306h3M700 274h3M725 302h3M692 285h3M709 294h3M711 316h3M701 273h3M693 285h3M735 296h3M682 306h3M701 296h3M695 288h3M690 302h3M701 312h3M742 292h3M712 312h3M712 285h3M664 305h3M739 274h3M706 290h3M685 296h3M686 284h3M680 284h3M728 277h3M726 287h3M702 308h3M712 286h3M678 304h3M707 301h3M708 301h3M701 295h3M714 311h3M719 285h3M708 288h3M711 275h3M706 299h3M742 300h3M708 302h3M729 295h3M722 274h3M678 322h3M736 282h3M722 284h3M700 292h3M712 288h3M707 269h3M694 299h3M710 282h3M724 286h3M681 329h3M685 306h3M705 290h3M720 306h3M707 292h3M725 284h3M711 300h3M725 293h3M683 296h3M676 305h3M710 293h3M698 293h3M684 303h3M722 280h3M690 301h3M696 287h3M714 295h3M682 302h3M701 286h3M738 275h3M709 291h3M676 307h3M708 291h3M709 284h3M706 309h3M707 303h3M734 284h3M715 294h3M683 301h3M667 311h3M738 309h3M727 296h3M723 293h3M716 314h3M691 305h3M735 293h3M743 286h3M695 315h3M686 304h3M737 286h3M735 276h3M716 318h3M690 303h3M691 301h3M710 307h3M695 293h3M715 282h3M675 307h3M707 289h3M730 290h3M716 288h3M733 277h3M707 290h3M689 300h3M729 279h3M692 309h3M674 314h3M702 297h3M725 274h3M732 285h3M711 286h3M695 291h3M737 303h3M674 304h3M689 299h3M721 292h3M682 315h3M672 296h3M702 330h3M715 287h3M676 308h3M694 309h3M707 281h3M706 297h3M724 293h3M718 283h3M691 274h3M690 285h3M701 313h3M691 296h3M689 307h3M697 296h3M698 304h3M712 289h3M708 290h3M702 301h3M723 275h3M687 310h3M721 296h3M709 315h3M707 287h3M694 305h3M709 275h3M725 282h3M742 280h3M729 284h3M699 296h3M681 298h3M746 273h3M732 286h3M705 300h3M707 306h3M696 292h3M679 303h3M695 292h3M704 293h3M723 288h3M718 302h3M716 286h3M720 285h3M699 306h3M733 298h3M710 300h3M669 303h3M700 286h3M690 273h3M748 281h3M705 304h3M724 287h3M732 281h3M731 295h3M677 305h3M740 290h3M727 308h3M691 308h3M700 306h3M741 285h3M711 294h3M699 308h3M713 274h3M685 309h3M738 272h3M715 289h3M698 290h3M732 288h3M723 296h3M737 296h3M708 298h3M717 282h3M692 305h3M713 306h3M708 271h3M701 277h3M733 291h3M734 287h3M691 293h3M672 311h3M734 281h3M705 282h3M709 305h3M711 287h3M697 290h3M720 286h3M711 305h3M694 307h3M722 302h3M702 311h3M721 279h3M718 304h3M695 322h3M717 275h3M682 289h3M736 286h3M710 289h3M689 291h3M698 301h3M724 279h3M722 264h3M731 285h3M667 307h3M679 298h3M688 284h3M732 279h3M706 304h3M718 310h3M684 301h3M733 265h3M706 302h3M710 303h3M672 291h3M711 299h3M703 283h3M746 274h3M731 276h3M690 287h3M692 301h3M697 294h3M702 289h3M738 254h3M714 281h3M687 300h3M681 292h3M670 312h3M691 284h3M726 284h3M711 301h3M727 274h3M690 293h3M729 282h3M720 310h3M718 274h3M718 292h3M707 300h3M685 305h3M721 290h3M689 295h3M670 306h3M746 260h3M710 284h3M687 299h3M703 299h3M703 306h3M722 263h3M762 271h3M742 278h3M672 294h3M708 299h3M729 296h3M673 318h3M690 299h3M691 306h3M720 298h3M704 313h3M739 282h3M698 298h3M702 287h3M698 300h3M710 290h3M690 279h3M704 303h3M688 301h3M726 290h3M741 282h3M692 292h3M722 308h3M713 286h3M717 299h3M744 297h3M756 274h3M675 303h3M697 286h3M717 303h3M709 302h3M692 290h3M727 297h3M714 293h3M725 314h3M670 326h3M743 276h3M691 291h3M663 313h3M726 286h3M649 324h3M716 281h3M719 303h3M735 294h3M727 283h3M747 276h3M688 299h3M696 280h3M718 282h3M702 269h3M713 305h3M700 273h3M688 313h3M683 306h3M691 297h3M704 286h3M692 308h3M705 303h3M708 276h3M706 284h3M669 294h3M735 295h3M703 277h3M716 278h3M677 308h3M722 310h3M766 288h3M700 302h3M700 303h3M733 264h3M710 283h3M709 289h3M750 274h3M732 294h3M724 291h3M728 288h3M680 297h3M701 293h3M743 261h3M681 311h3M720 292h3M709 297h3M744 282h3M713 312h3M755 276h3M723 273h3M689 308h3M719 299h3M730 292h3M695 307h3M700 281h3M722 268h3M693 295h3M743 265h3M683 304h3M737 279h3M714 270h3M724 294h3M699 304h3M691 285h3M703 296h3M702 303h3M700 293h3M745 280h3M755 285h3M752 277h3M706 296h3M725 278h3M736 278h3M742 273h3M688 303h3M693 300h3M714 290h3M686 318h3M725 298h3M704 288h3M690 304h3M740 276h3M666 296h3M685 277h3M731 296h3M690 290h3M700 301h3M717 285h3M718 291h3M733 274h3M682 278h3M694 297h3M711 265h3M720 294h3M687 301h3M725 289h3M699 292h3M690 289h3M709 311h3M676 300h3M705 289h3M723 290h3M730 277h3M722 307h3M696 309h3M702 279h3M684 284h3M664 302h3M714 292h3M727 291h3M705 277h3M708 295h3M751 281h3M699 284h3M715 276h3M728 295h3M690 305h3M717 278h3M705 307h3M688 278h3M736 298h3M685 285h3M714 275h3M672 306h3M723 269h3M716 283h3M715 291h3M725 290h3M746 282h3M708 300h3M713 280h3M705 292h3M709 325h3M737 305h3M719 297h3M722 294h3M703 290h3M740 300h3M719 284h3M677 304h3M735 304h3M699 274h3M722 290h3M680 285h3M708 285h3M730 280h3M729 271h3M680 300h3M709 277h3M731 290h3M720 284h3M719 289h3M734 262h3M702 300h3M708 261h3M689 303h3M698 292h3M693 284h3M685 299h3M723 308h3M726 280h3M711 312h3M764 284h3M714 283h3M722 301h3M686 300h3M713 278h3M719 278h3M712 275h3M695 295h3M706 313h3M679 322h3M744 279h3M692 314h3M676 301h3M726 297h3M728 312h3M692 277h3M700 305h3M698 296h3M733 284h3M728 298h3M734 268h3M727 264h3M738 280h3M709 280h3M703 298h3M694 285h3M709 288h3M717 273h3M717 295h3M714 305h3M715 288h3M717 310h3M731 287h3M693 305h3M741 286h3M707 309h3M738 291h3M697 305h3M721 278h3M730 283h3M711 292h3M702 295h3M665 313h3M735 282h3M686 297h3M714 272h3M704 299h3M700 276h3M684 289h3M734 275h3M725 303h3M729 275h3M720 276h3M688 295h3M678 282h3M721 257h3M711 298h3M700 289h3M690 310h3M703 305h3M686 279h3M750 288h3M743 271h3M711 288h3M686 299h3M712 278h3M697 281h3M732 280h3M714 301h3M745 290h3M751 289h3M718 290h3M701 298h3M686 308h3M700 308h3M735 287h3M713 283h3M694 284h3M743 275h3M728 294h3M715 325h3M721 301h3M691 272h3M721 284h3M727 259h3M688 309h3M725 276h3M687 296h3M693 278h3M707 285h3M690 308h3M711 329h3M699 300h3M682 309h3M684 295h3M710 295h3M742 295h3M679 302h3M724 274h3M680 291h3M734 269h3M709 298h3M701 307h3M729 277h3M736 308h3M680 309h3M725 296h3M719 313h3M737 293h3M713 275h3M712 290h3M717 284h3M713 287h3M683 289h3M730 272h3M697 298h3M716 274h3M702 276h3M709 287h3M703 302h3M713 255h3M702 290h3M724 278h3M677 301h3M706 280h3M693 291h3M722 316h3M723 286h3M721 287h3M721 298h3M679 318h3M701 276h3M700 295h3M734 286h3M725 277h3M699 309h3M737 284h3M712 298h3M713 292h3M690 295h3M713 289h3M733 294h3M719 275h3M719 288h3M669 312h3M692 312h3M728 269h3M747 273h3M727 290h3M664 294h3M687 303h3M716 279h3M691 307h3M683 290h3M703 275h3M685 293h3M710 308h3M718 279h3M731 283h3M688 290h3M738 292h3M740 282h3M752 256h3M670 289h3M707 263h3M696 295h3M676 303h3M739 288h3M734 298h3M669 306h3M712 308h3M688 292h3M688 307h3M682 291h3M724 283h3M700 294h3M685 298h3M727 289h3M728 300h3M717 302h3M737 282h3M711 322h3M737 287h3M735 267h3M645 314h3M705 283h3M737 295h3M746 285h3M715 290h3M677 287h3M746 279h3M737 275h3M681 296h3M706 283h3M724 290h3M689 298h3M712 287h3M696 277h3M700 309h3M741 283h3M720 282h3M687 288h3M699 281h3M722 269h3M720 297h3M696 260h3M702 278h3M733 285h3M696 317h3M706 294h3M747 286h3M707 275h3M735 280h3M688 287h3M689 315h3M704 300h3M731 269h3M741 291h3M712 301h3M694 269h3M703 309h3M680 298h3M693 292h3M694 283h3M724 272h3M686 302h3M697 307h3M720 304h3M721 286h3M640 315h3M691 294h3M683 318h3M693 301h3M707 296h3M727 288h3M735 274h3M702 294h3M739 283h3M730 281h3M690 298h3M718 286h3M722 287h3M663 305h3M690 297h3M680 311h3M695 296h3M706 291h3M708 297h3M706 276h3M705 265h3M722 299h3M708 307h3M726 285h3M722 285h3M709 276h3M711 283h3M753 292h3M713 294h3M661 303h3M687 286h3M692 298h3M720 293h3M677 295h3M685 312h3M689 301h3M709 285h3M713 299h3M706 293h3M680 308h3M743 280h3M752 281h3M761 273h3M738 279h3M712 281h3M737 265h3M694 310h3M679 288h3M680 306h3M731 315h3M729 273h3M725 275h3M744 288h3M681 316h3M705 271h3M668 296h3M686 296h3M700 285h3M742 274h3M731 307h3M723 241h3M716 307h3M740 208h3M750 231h3M717 252h3M743 210h3M742 199h3M751 200h3M719 267h3M742 266h3M742 157h3M732 155h3M743 190h3M763 186h3M722 243h3M722 236h3M728 258h3M729 235h3M727 272h3M717 195h3M766 190h3M741 235h3M712 260h3M766 183h3M731 263h3M746 266h3M721 210h3M754 243h3M736 222h3M703 226h3M736 261h3M736 204h3M709 262h3M722 260h3M698 254h3M759 168h3M746 169h3M723 254h3M758 217h3M739 209h3M730 203h3M732 183h3M734 222h3M754 211h3M731 207h3M714 244h3M756 195h3M724 269h3M752 157h3M739 323h3M728 181h3M730 252h3M700 255h3M729 230h3M734 258h3M749 232h3M731 168h3M741 246h3M733 273h3M736 213h3M782 184h3M738 211h3M718 239h3M736 243h3M697 261h3M749 256h3M742 252h3M745 163h3M721 308h3M740 235h3M752 267h3M727 218h3M716 222h3M704 226h3M715 283h3M697 276h3M725 251h3M721 299h3M730 217h3M715 245h3M753 221h3M736 234h3M737 268h3M738 159h3M748 314h3M728 242h3M721 217h3M746 166h3M727 219h3M736 150h3M726 233h3M734 226h3M716 293h3M743 223h3M699 261h3M701 265h3M725 304h3M729 222h3M743 262h3M751 182h3M723 189h3M743 225h3M719 227h3M747 192h3M753 223h3M756 263h3M736 216h3M744 229h3M745 203h3M731 281h3M681 282h3M725 237h3M738 229h3M718 245h3M750 212h3M760 191h3M739 212h3M710 305h3M733 211h3M708 330h3M749 236h3M755 230h3M722 220h3M718 242h3M756 201h3M747 191h3M743 208h3M737 241h3M744 211h3M749 165h3M726 224h3M737 223h3M744 213h3M748 155h3M712 284h3M756 221h3M721 248h3M723 280h3M718 269h3M719 236h3M711 227h3M722 240h3M713 260h3M739 255h3M721 213h3M723 246h3M738 247h3M725 255h3M738 241h3M708 233h3M719 261h3M719 230h3M756 218h3M739 200h3M741 229h3M751 256h3M734 229h3M743 216h3M733 214h3M743 239h3M751 219h3M727 257h3M740 186h3M727 235h3M728 229h3M711 222h3M748 195h3M735 268h3M738 186h3M732 236h3M730 255h3M717 309h3M761 225h3M729 197h3M738 233h3M724 302h3M733 235h3M727 240h3M702 288h3M744 158h3M762 162h3M744 268h3M717 256h3M752 187h3M735 251h3M746 237h3M734 240h3M746 207h3M749 220h3M724 198h3M733 234h3M710 218h3M690 282h3M716 250h3M726 173h3M736 248h3M726 240h3M721 268h3M730 230h3M723 255h3M743 201h3M730 260h3M739 184h3M710 273h3M739 179h3M763 164h3M722 248h3M754 232h3M728 235h3M747 252h3M716 227h3M731 200h3M736 246h3M726 248h3M742 306h3M736 235h3M720 249h3M759 223h3M755 195h3M743 215h3M701 262h3M740 224h3M721 251h3M744 209h3M741 250h3M728 207h3M743 205h3M734 234h3M733 174h3M719 247h3M701 282h3M734 282h3M737 220h3M722 205h3M737 215h3M712 238h3M686 227h3M746 248h3M743 257h3M722 191h3M733 192h3M746 192h3M739 186h3M722 226h3M706 317h3M720 248h3M735 233h3M729 205h3M730 244h3M701 259h3M745 264h3M705 239h3M734 220h3M748 192h3M739 228h3M741 213h3M743 260h3M718 223h3M726 251h3M749 178h3M717 263h3M732 201h3M764 184h3M735 183h3M732 209h3M719 269h3M745 193h3M729 234h3M738 230h3M748 180h3M748 200h3M769 168h3M729 200h3M779 149h3M733 204h3M750 203h3M742 206h3M736 203h3M695 264h3M757 226h3M720 237h3M715 255h3M727 255h3M763 220h3M765 201h3M749 208h3M740 217h3M743 235h3M715 224h3M725 270h3M735 229h3M726 268h3M717 211h3M737 264h3M776 140h3M702 274h3M731 246h3M750 251h3M753 177h3M696 313h3M721 220h3M745 230h3M747 277h3M719 222h3M740 204h3M716 251h3M738 197h3M730 258h3M730 237h3M713 267h3M771 199h3M719 273h3M727 241h3M738 210h3M739 259h3M711 255h3M749 210h3M741 255h3M735 257h3M737 204h3M743 193h3M716 200h3M717 281h3M735 238h3M732 242h3M726 235h3M719 237h3M735 218h3M723 274h3M747 242h3M730 240h3M738 184h3M732 208h3M734 214h3M693 259h3M721 190h3M718 221h3M733 255h3M721 270h3M739 215h3M745 247h3M716 238h3M758 198h3M757 162h3M740 165h3M747 258h3M712 230h3M729 183h3M735 210h3M741 220h3M733 219h3M704 223h3M738 205h3M765 246h3M758 211h3M740 211h3M726 199h3M739 226h3M722 209h3M732 244h3M735 240h3M735 201h3M718 297h3M738 192h3M721 242h3M733 310h3M746 210h3M756 172h3M751 240h3M706 271h3M766 215h3M748 217h3M745 255h3M731 217h3M734 199h3M754 212h3M715 234h3M729 225h3M751 244h3M728 227h3M774 176h3M717 218h3M738 236h3M720 265h3M730 269h3M720 263h3M723 221h3M729 254h3M728 179h3M724 246h3M740 252h3M730 218h3M723 231h3M744 255h3M716 180h3M725 265h3M736 252h3M721 228h3M742 231h3M756 235h3M730 192h3M731 192h3M706 205h3M720 218h3M726 188h3M765 199h3M751 227h3M709 252h3M760 233h3M736 258h3M741 219h3M726 216h3M725 163h3M726 206h3M728 248h3M737 194h3M710 275h3M732 284h3M721 216h3M736 266h3M738 183h3M743 197h3M732 232h3M723 223h3M717 197h3M714 298h3M729 242h3M741 245h3M730 256h3M717 234h3M726 222h3M704 204h3M732 173h3M736 287h3M761 207h3M757 179h3M743 206h3M754 180h3M706 238h3M743 255h3M734 207h3M728 228h3M730 210h3M713 202h3M719 256h3M730 228h3M770 182h3M734 257h3M715 259h3M740 232h3M723 184h3M742 250h3M747 167h3M735 253h3M768 176h3M725 233h3M760 243h3M755 227h3M723 229h3M716 312h3M712 274h3M743 224h3M732 218h3M723 230h3M733 311h3M695 262h3M732 219h3M731 186h3M704 272h3M725 227h3M727 207h3M713 205h3M733 275h3M710 240h3M732 267h3M741 222h3M723 242h3M735 239h3M711 269h3M719 258h3M715 240h3M744 212h3M761 197h3M754 215h3M708 206h3M731 187h3M704 284h3M753 247h3M742 163h3M752 198h3M731 240h3M730 270h3M740 199h3M690 243h3M738 282h3M735 244h3M703 250h3M729 231h3M748 223h3M731 190h3M737 245h3M726 228h3M743 232h3M724 223h3M780 208h3M724 222h3M720 279h3M739 193h3M724 182h3M710 231h3M729 259h3M737 210h3M691 243h3M695 255h3M718 267h3M732 228h3M741 232h3M730 173h3M725 240h3M713 277h3M741 189h3M753 207h3M748 201h3M736 265h3M745 145h3M738 195h3M719 252h3M734 263h3M733 252h3M744 227h3M741 206h3M739 264h3M734 232h3M738 262h3M735 247h3M746 219h3M720 211h3M709 241h3M764 218h3M740 225h3M736 209h3M724 238h3M759 286h3M700 290h3M733 226h3M704 276h3M711 241h3M739 189h3M712 279h3M748 215h3M706 266h3M742 218h3M747 226h3M733 166h3M701 189h3M746 227h3M739 235h3M744 156h3M760 197h3M733 206h3M735 225h3M716 236h3M744 206h3M740 180h3M723 240h3M750 225h3M727 262h3M716 209h3M736 256h3M751 206h3M718 238h3M726 234h3M729 247h3M737 200h3M735 228h3M748 206h3M727 225h3M755 260h3M696 328h3M724 231h3M752 263h3M763 244h3M722 270h3M725 247h3M708 263h3M744 248h3M708 275h3M748 247h3M741 237h3M781 167h3M755 208h3M738 208h3M738 238h3M764 177h3M737 260h3M739 262h3M732 245h3M745 224h3M748 237h3M734 216h3M704 265h3M751 255h3M722 300h3M729 218h3M722 281h3M734 212h3M710 220h3M739 197h3M708 244h3M735 231h3M725 252h3M734 285h3M731 230h3M734 246h3M720 261h3M727 229h3M718 209h3M742 248h3M730 249h3M727 260h3M718 244h3M752 221h3M725 243h3M718 207h3M741 296h3M719 235h3M757 205h3M726 243h3M740 242h3M721 269h3M723 181h3M734 201h3M761 237h3M744 181h3M745 164h3M749 185h3M755 267h3M726 252h3M721 262h3M718 250h3M732 161h3M708 236h3M757 174h3M711 209h3M754 224h3M724 247h3M723 201h3M727 252h3M719 260h3M732 231h3M711 296h3M733 195h3M705 241h3M710 226h3M725 222h3M726 242h3M752 211h3M756 269h3M748 264h3M736 237h3M751 263h3M740 198h3M741 171h3M768 222h3M720 221h3M730 224h3M743 272h3M716 258h3M724 305h3M725 235h3M710 249h3M737 227h3M742 204h3M725 195h3M727 203h3M742 245h3M740 229h3M735 234h3M744 216h3M726 229h3M739 233h3M718 252h3M706 257h3M737 176h3M733 241h3M755 203h3M711 218h3M728 237h3M728 270h3M714 248h3M737 226h3M722 247h3M708 262h3M744 249h3M736 196h3M726 203h3M721 225h3M715 250h3M733 245h3M692 282h3M742 264h3M757 212h3M722 215h3M695 247h3M723 233h3M724 252h3M734 242h3M724 271h3M725 176h3M762 219h3M717 229h3M747 234h3M733 185h3M725 260h3M756 232h3M743 246h3M727 267h3M728 261h3M734 264h3M733 215h3M720 266h3M743 243h3M747 193h3M742 222h3M719 217h3M742 260h3M754 199h3M733 196h3M731 262h3M758 213h3M743 194h3M754 216h3M709 264h3M726 266h3M722 212h3M723 301h3M740 233h3M717 237h3M743 152h3M720 252h3M717 207h3M716 244h3M735 174h3M732 274h3M738 286h3M754 135h3M730 253h3M722 242h3M755 133h3M736 231h3M732 204h3M750 245h3M724 229h3M730 246h3M716 260h3M739 187h3M729 272h3M716 219h3M691 262h3M744 240h3M719 250h3M745 265h3M727 253h3M726 213h3M748 204h3M722 255h3M725 258h3M716 242h3M742 230h3M725 231h3M768 195h3M722 241h3M731 251h3M703 253h3M714 197h3M767 217h3M748 250h3M751 223h3M709 225h3M727 265h3M734 248h3M733 244h3M720 268h3M694 313h3M727 233h3M737 233h3M710 274h3M732 216h3M730 242h3M747 189h3M715 219h3M727 232h3M741 243h3M722 225h3M716 268h3M714 247h3M751 233h3M725 236h3M712 266h3M733 263h3M739 232h3M730 233h3M717 261h3M748 191h3M724 256h3M739 213h3M746 214h3M746 179h3M720 236h3M716 232h3M702 241h3M714 234h3M709 248h3M719 223h3M766 154h3M721 258h3M741 253h3M730 236h3M751 192h3M765 143h3M714 245h3M739 180h3M719 218h3M743 196h3M746 259h3M732 310h3M728 283h3M744 238h3M731 247h3M777 215h3M751 245h3M770 234h3M745 204h3M748 193h3M728 302h3M733 239h3M744 203h3M721 218h3M747 218h3M726 241h3M699 258h3M741 226h3M757 201h3M722 199h3M718 232h3M734 209h3M739 192h3M710 222h3M747 272h3M739 261h3M725 226h3M743 211h3M759 240h3M754 194h3M740 265h3M719 228h3M749 181h3M718 203h3M742 301h3M733 261h3M702 231h3M699 257h3M752 185h3M740 209h3M739 191h3M747 211h3M762 230h3M731 254h3M698 262h3M720 267h3M690 318h3M725 216h3M736 236h3M724 251h3M724 204h3M716 245h3M746 208h3M724 250h3M726 276h3M737 198h3M761 163h3M729 237h3M740 201h3M722 239h3M737 221h3M704 238h3M757 282h3M736 224h3M735 195h3M746 152h3M756 165h3M724 236h3M718 208h3M724 212h3M729 178h3M770 187h3M728 173h3M711 251h3M751 170h3M745 261h3M716 198h3M706 246h3M731 242h3M702 267h3M714 201h3M727 198h3M745 222h3M736 257h3M731 229h3M731 233h3M734 217h3M725 269h3M735 169h3M721 238h3M734 250h3M735 206h3M742 224h3M748 169h3M773 212h3M709 272h3M699 271h3M714 246h3M722 200h3M719 215h3M749 212h3M763 195h3M743 230h3M725 232h3M742 253h3M742 160h3M743 172h3M724 199h3M750 229h3M710 296h3M726 253h3M729 252h3M747 219h3M726 257h3M731 256h3M706 248h3M729 227h3M702 245h3M742 288h3M760 164h3M740 262h3M714 211h3M705 321h3M704 208h3M731 189h3M719 211h3M727 248h3M742 213h3M723 215h3M739 218h3M730 229h3M708 188h3M753 196h3M727 263h3M720 196h3M730 223h3M751 173h3M722 213h3M752 193h3M708 277h3M728 226h3M777 182h3M738 190h3M725 224h3M753 190h3M715 267h3M738 219h3M700 228h3M733 242h3M707 252h3M756 214h3M725 242h3M712 233h3M709 229h3M732 255h3M746 226h3M738 174h3M709 231h3M728 225h3M713 242h3M734 233h3M720 283h3M736 190h3M741 200h3M740 256h3M764 204h3M742 233h3M746 167h3M712 249h3M746 186h3M752 251h3M751 209h3M750 177h3M746 230h3M749 234h3M721 254h3M741 230h3M732 215h3M770 220h3M739 227h3M739 185h3M748 222h3M736 210h3M726 231h3M713 259h3M742 256h3M739 237h3M748 224h3M711 237h3M739 216h3M724 217h3M736 229h3M749 222h3M750 262h3M728 264h3M719 254h3M695 320h3M717 224h3M703 219h3M722 252h3M765 206h3M728 205h3M713 236h3M697 254h3M742 180h3M724 268h3M705 252h3M712 263h3M709 192h3M736 225h3M709 232h3M691 235h3M748 231h3M739 231h3M740 218h3M722 210h3M750 221h3M722 211h3M756 242h3M737 225h3M711 210h3M731 279h3M756 247h3M731 219h3M735 275h3M734 213h3M723 228h3M698 218h3M753 217h3M729 217h3M729 181h3M745 243h3M724 239h3M695 300h3M712 240h3M753 226h3M711 276h3M739 195h3M749 257h3M725 246h3M720 189h3M761 217h3M715 304h3M723 252h3M746 223h3M754 220h3M749 244h3M743 236h3M750 188h3M708 190h3M741 209h3M754 223h3M731 218h3M769 218h3M728 251h3M710 257h3M754 163h3M745 229h3M750 233h3M722 237h3M727 180h3M742 149h3M730 251h3M727 212h3M732 220h3M752 196h3M746 234h3M744 197h3M706 240h3M722 250h3M720 232h3M719 181h3M752 244h3M699 252h3M729 263h3M776 208h3M721 230h3M747 270h3M705 254h3M713 247h3M731 201h3M728 250h3M711 225h3M709 206h3M718 201h3M700 172h3M726 171h3M687 154h3M710 187h3M712 151h3M743 170h3M729 155h3M714 149h3M706 163h3M720 164h3M712 150h3M753 168h3M677 160h3M722 154h3M684 144h3M735 163h3M705 178h3M740 193h3M711 167h3M736 160h3M722 164h3M731 210h3M717 185h3M678 137h3M709 162h3M698 149h3M735 158h3M733 127h3M719 165h3M730 135h3M724 151h3M706 197h3M746 191h3M726 145h3M720 141h3M700 141h3M716 120h3M723 142h3M718 158h3M716 140h3M716 181h3M703 161h3M721 152h3M691 201h3M704 179h3M708 164h3M727 208h3M723 195h3M723 149h3M701 169h3M715 154h3M736 134h3M732 210h3M692 195h3M717 135h3M719 176h3M730 128h3M716 189h3M730 165h3M699 155h3M739 196h3M702 162h3M721 159h3M724 186h3M738 160h3M730 186h3M736 186h3M715 178h3M728 184h3M746 145h3M702 206h3M699 158h3M699 202h3M743 154h3M739 161h3M715 158h3M719 191h3M728 156h3M734 176h3M696 125h3M713 152h3M715 169h3M727 122h3M713 175h3M727 143h3M675 203h3M767 167h3M725 218h3M731 181h3M708 174h3M727 154h3M751 166h3M727 120h3M698 185h3M726 138h3M716 158h3M741 104h3M699 172h3M714 181h3M723 171h3M712 171h3M737 158h3M702 165h3M697 189h3M716 154h3M731 178h3M713 180h3M711 158h3M731 172h3M722 170h3M714 220h3M717 154h3M723 205h3M718 189h3M714 116h3M712 169h3M728 144h3M706 169h3M721 136h3M728 141h3M737 161h3M723 169h3M744 205h3M719 173h3M727 190h3M719 136h3M708 136h3M723 153h3M721 206h3M729 134h3M727 128h3M715 162h3M703 190h3M720 126h3M728 160h3M739 135h3M665 191h3M727 182h3M735 173h3M739 166h3M726 160h3M729 169h3M715 148h3M721 144h3M731 140h3M703 162h3M710 144h3M720 185h3M706 113h3M719 178h3M695 173h3M719 193h3M716 128h3M708 141h3M708 189h3M687 152h3M723 151h3M738 165h3M713 158h3M722 128h3M743 153h3M743 191h3M708 197h3M736 164h3M739 155h3M723 197h3M705 158h3M709 135h3M729 163h3M753 185h3M712 200h3M745 156h3M747 181h3M702 154h3M707 189h3M742 173h3M734 172h3M731 143h3M721 157h3M730 158h3M755 189h3M702 161h3M693 156h3M723 156h3M742 168h3M711 169h3M723 134h3M704 165h3M718 167h3M704 163h3M709 128h3M698 158h3M716 133h3M747 176h3M715 194h3M755 161h3M706 149h3M703 146h3M726 152h3M745 109h3M706 142h3M714 145h3M747 155h3M700 190h3M714 131h3M728 134h3M713 177h3M710 140h3M710 167h3M725 165h3M716 145h3M713 185h3M694 196h3M737 143h3M714 157h3M736 189h3M703 157h3M728 155h3M719 184h3M713 140h3M717 170h3M699 170h3M677 171h3M720 180h3M737 190h3M730 188h3M737 131h3M710 184h3M725 179h3M710 186h3M715 185h3M667 165h3M738 139h3M722 194h3M735 148h3M708 139h3M729 175h3M729 151h3M684 168h3M694 155h3M720 171h3M707 182h3M720 163h3M707 183h3M740 187h3M693 141h3M696 181h3M703 176h3M698 164h3M714 202h3M697 179h3M730 131h3M738 177h3M737 164h3M751 162h3M736 175h3M720 157h3M730 172h3M714 182h3M685 178h3M698 189h3M720 179h3M728 165h3M716 167h3M742 117h3M707 128h3M706 187h3M736 159h3M715 206h3M745 139h3M736 174h3M698 229h3M725 147h3M693 170h3M720 159h3M727 160h3M694 154h3M744 167h3M748 186h3M730 147h3M732 178h3M745 151h3M716 176h3M728 147h3M696 164h3M709 146h3M714 144h3M732 194h3M727 123h3M733 179h3M710 180h3M702 148h3M748 194h3M759 191h3M715 176h3M737 178h3M705 145h3M715 177h3M696 179h3M730 149h3M730 119h3M713 173h3M712 146h3M702 122h3M709 154h3M746 112h3M716 156h3M734 202h3M716 97h3M717 175h3M716 142h3M735 145h3M687 175h3M731 166h3M733 148h3M724 134h3M723 155h3M713 191h3M734 138h3M720 174h3M706 170h3M729 119h3M726 164h3M713 216h3M717 205h3M713 160h3M695 137h3M722 132h3M732 185h3M707 153h3M734 162h3M720 181h3M719 187h3M727 165h3M731 161h3M719 167h3M701 211h3M753 120h3M725 138h3M707 174h3M722 168h3M734 196h3M694 192h3M733 213h3M721 146h3M748 183h3M731 160h3M715 187h3M738 171h3M736 188h3M717 147h3M714 151h3M735 160h3M700 151h3M721 140h3M684 186h3M683 185h3M707 139h3M730 120h3M717 149h3M714 160h3M703 181h3M709 188h3M689 189h3M720 201h3M730 183h3M731 169h3M722 147h3M736 183h3M729 154h3M737 148h3M724 179h3M720 170h3M706 183h3M683 142h3M726 193h3M717 173h3M751 165h3M693 143h3M736 141h3M710 131h3M715 197h3M711 130h3M723 180h3M735 153h3M724 154h3M728 163h3M726 179h3M718 164h3M743 135h3M724 123h3M720 209h3M718 140h3M715 127h3M671 184h3M735 131h3M700 179h3M728 188h3M746 174h3M697 184h3M738 134h3M723 136h3M728 161h3M721 163h3M721 176h3M744 150h3M759 119h3M723 175h3M751 188h3M712 213h3M719 166h3M720 178h3M730 145h3M728 187h3M710 171h3M718 170h3M707 199h3M705 182h3M704 172h3M715 141h3M683 236h3M698 210h3M719 160h3M699 138h3M698 161h3M716 159h3M721 166h3M704 137h3M696 158h3M695 186h3M696 197h3M697 122h3M694 184h3M703 153h3M702 152h3M704 174h3M701 163h3M690 205h3M705 206h3M703 175h3M697 164h3M695 240h3M700 243h3M700 196h3M699 179h3M705 216h3M706 230h3M699 167h3M697 241h3M692 179h3M697 218h3M705 168h3M707 187h3M702 170h3M699 185h3M693 216h3M703 156h3M692 174h3M700 201h3M690 248h3M705 138h3M694 264h3M706 164h3M695 215h3M701 235h3M712 202h3M704 140h3M696 202h3M684 214h3M697 220h3M689 230h3M703 154h3M682 215h3M696 129h3M705 150h3M690 127h3M695 213h3M720 184h3M704 134h3M681 144h3M693 181h3M705 163h3M702 186h3M705 165h3M703 148h3M705 225h3M687 173h3M722 148h3M697 205h3M694 199h3M711 192h3M704 191h3M708 172h3M695 180h3M706 114h3M708 135h3M693 145h3M698 193h3M696 223h3M698 179h3M695 175h3M688 219h3M704 173h3M701 205h3M708 198h3M702 142h3M694 194h3M688 190h3M699 151h3M718 144h3M716 229h3M692 206h3M687 233h3M691 228h3M708 247h3M698 235h3M698 154h3M698 219h3M710 181h3M691 218h3M705 164h3M690 184h3M699 166h3M699 220h3M708 211h3M705 198h3M695 183h3M690 174h3M695 208h3M698 188h3M694 193h3M709 183h3M699 163h3M699 124h3M697 202h3M701 153h3M684 244h3M699 147h3M684 215h3M700 192h3M705 194h3M690 220h3M700 214h3M695 185h3M696 150h3M717 146h3M707 191h3M695 212h3M703 183h3M698 195h3M706 103h3M730 95h3M765 97h3M716 108h3M735 95h3M727 115h3M751 112h3M750 106h3M723 98h3M712 123h3M742 105h3M767 101h3M723 124h3M731 117h3M710 110h3M763 105h3M694 118h3M721 115h3M697 121h3M726 123h3M739 111h3M699 119h3M745 121h3M712 100h3M707 113h3M718 119h3M766 118h3M762 116h3M727 93h3M761 93h3M729 93h3M713 90h3M725 90h3M757 91h3M695 92h3M689 89h3M693 90h3M699 93h3M707 90h3M700 90h3M690 90h3M711 92h3M610 124h3M644 126h3M790 218h3M796 254h3M804 274h3M310 675h3M287 689h3M278 681h3M300 691h3M269 707h3M284 687h3M274 703h3M286 704h3M289 673h3M256 697h3M272 692h3M289 680h3M278 661h3M307 670h3M304 694h3M296 682h3M298 698h3M284 659h3M285 693h3M304 697h3M328 682h3M299 677h3M303 670h3M316 676h3M291 675h3M279 695h3M302 661h3M326 665h3M297 685h3M259 735h3M306 683h3M287 685h3M300 682h3M274 687h3M273 704h3M296 684h3M279 704h3M317 682h3M279 674h3M316 675h3M296 695h3M297 671h3M303 705h3M307 669h3M306 710h3M298 695h3M309 688h3M309 680h3M319 682h3M294 674h3M284 685h3M285 670h3M296 693h3M271 696h3M304 690h3M294 695h3M274 686h3M291 699h3M290 694h3M295 690h3M268 713h3M296 686h3M301 683h3M292 703h3M264 698h3M266 694h3M290 682h3M288 705h3M285 690h3M305 703h3M266 670h3M281 689h3M290 685h3M270 709h3M308 694h3M272 702h3M256 703h3M267 718h3M300 703h3M282 665h3M322 674h3M297 689h3M252 709h3M316 666h3M320 672h3M282 697h3M284 692h3M315 657h3M285 686h3M318 671h3M276 694h3M316 674h3M282 706h3M293 691h3M309 685h3M311 658h3M303 687h3M298 689h3M293 681h3M303 679h3M281 662h3M282 698h3M306 674h3M284 667h3M291 697h3M291 682h3M283 699h3M270 703h3M292 690h3M338 651h3M289 702h3M298 656h3M275 703h3M320 661h3M267 694h3M310 692h3M316 683h3M296 673h3M292 675h3M315 682h3M312 666h3M301 679h3M268 682h3M288 691h3M281 712h3M301 676h3M299 682h3M310 697h3M298 696h3M296 704h3M272 712h3M291 705h3M282 676h3M269 696h3M297 665h3M328 690h3M286 696h3M291 688h3M288 682h3M274 690h3M283 661h3M310 704h3M285 695h3M271 687h3M293 688h3M293 693h3M331 659h3M280 706h3M314 662h3M262 723h3M303 688h3M321 672h3M270 705h3M297 673h3M301 690h3M295 682h3M278 688h3M288 702h3M287 673h3M275 695h3M313 683h3M290 702h3M302 677h3M285 696h3M308 684h3M301 681h3M268 698h3M315 678h3M314 675h3M287 694h3M306 693h3M303 685h3M294 682h3M264 713h3M322 691h3M295 678h3M291 687h3M304 670h3M280 682h3M311 680h3M308 668h3M292 679h3M281 679h3M247 724h3M315 658h3M254 712h3M300 675h3M283 706h3M301 702h3M304 654h3M310 679h3M287 680h3M314 666h3M285 697h3M340 670h3M305 694h3M274 699h3M288 694h3M298 680h3M297 683h3M294 673h3M243 704h3M294 683h3M301 695h3M311 685h3M291 667h3M285 692h3M297 672h3M306 690h3M306 686h3M303 692h3M295 663h3M275 699h3M303 700h3M300 684h3M297 699h3M298 690h3M316 665h3M299 687h3M276 714h3M295 703h3M286 712h3M298 670h3M323 677h3M297 668h3M274 701h3M309 674h3M311 683h3M280 702h3M306 694h3M294 680h3M294 698h3M296 691h3M284 680h3M309 683h3M290 701h3M311 675h3M297 682h3M315 677h3M286 699h3M290 699h3M292 713h3M291 715h3M266 672h3M313 686h3M276 691h3M321 693h3M254 707h3M280 686h3M307 664h3M284 706h3M282 707h3M315 663h3M318 700h3M300 679h3M314 692h3M268 695h3M256 704h3M312 676h3M273 691h3M302 688h3M261 686h3M333 660h3M298 678h3M271 693h3M308 680h3M276 699h3M300 678h3M288 696h3M304 685h3M315 689h3M297 684h3M293 684h3M309 684h3M248 729h3M289 672h3M279 683h3M305 667h3M299 691h3M316 668h3M291 696h3M317 680h3M273 696h3M315 679h3M281 699h3M282 685h3M319 674h3M283 675h3M283 685h3M298 675h3M311 676h3M277 691h3M313 678h3M324 672h3M273 708h3M287 695h3M287 693h3M323 679h3M305 696h3M289 687h3M302 673h3M264 697h3M336 677h3M279 688h3M316 655h3M321 671h3M321 680h3M305 678h3M305 671h3M328 683h3M310 678h3M309 673h3M303 684h3M331 658h3M270 691h3M315 697h3M314 688h3M321 676h3M333 683h3M285 683h3M319 666h3M281 687h3M276 692h3M319 665h3M288 712h3M294 666h3M293 673h3M295 675h3M274 697h3M332 672h3M289 700h3M298 691h3M305 682h3M314 702h3M276 688h3M277 686h3M271 705h3M307 680h3M324 662h3M300 673h3M292 673h3M302 679h3M274 694h3M259 708h3M284 682h3M332 676h3M283 701h3M317 693h3M293 682h3M284 696h3M290 688h3M298 685h3M284 693h3M275 677h3M264 707h3M346 657h3M297 661h3M303 676h3M288 700h3M301 698h3M283 695h3M321 673h3M299 676h3M299 697h3M273 706h3M325 657h3M271 702h3M294 691h3M308 674h3M285 691h3M295 684h3M269 688h3M319 690h3M289 706h3M319 687h3M301 689h3M292 700h3M295 664h3M298 672h3M307 677h3M294 679h3M308 699h3M313 680h3M284 695h3M307 695h3M287 692h3M315 669h3M312 675h3M304 691h3M287 691h3M279 698h3M280 711h3M286 697h3M313 685h3M289 693h3M297 669h3M282 683h3M303 661h3M283 710h3M293 694h3M298 679h3M311 662h3M294 692h3M304 679h3M295 691h3M302 671h3M298 671h3M297 705h3M316 671h3M280 676h3M303 690h3M304 681h3M263 709h3M311 678h3M284 681h3M291 663h3M309 700h3M330 657h3M288 703h3M306 692h3M313 677h3M274 708h3M305 688h3M315 691h3M312 680h3M288 708h3M294 684h3M299 679h3M317 671h3M313 679h3M295 694h3M308 701h3M332 669h3M310 676h3M305 704h3M258 719h3M310 680h3M333 664h3M283 692h3M317 672h3M286 690h3M295 676h3M295 680h3M285 673h3M323 664h3M292 711h3M321 678h3M282 710h3M291 689h3M287 684h3M303 675h3M263 693h3M306 680h3M286 698h3M320 689h3M293 680h3M284 700h3M311 667h3M288 685h3M313 640h3M308 665h3M310 690h3M286 700h3M325 695h3M302 689h3M286 678h3M290 690h3M286 714h3M272 693h3M308 682h3M309 689h3M306 669h3M305 681h3M288 667h3M282 669h3M308 672h3M294 709h3M306 679h3M301 684h3M311 702h3M325 671h3M301 696h3M284 690h3M264 705h3M300 681h3M295 679h3M293 701h3M309 675h3M290 684h3M269 671h3M323 658h3M278 704h3M304 689h3M265 672h3M283 666h3M291 677h3M280 692h3M304 688h3M302 658h3M304 673h3M306 668h3M276 707h3M296 690h3M292 678h3M281 706h3M306 687h3M278 685h3M316 681h3M258 713h3M312 667h3M279 692h3M291 686h3M279 691h3M256 707h3M288 704h3M279 727h3M294 704h3M309 682h3M278 709h3M305 675h3M279 693h3M279 684h3M318 688h3M286 686h3M277 703h3M292 683h3M267 708h3M284 698h3M314 690h3M294 708h3M296 694h3M309 676h3M324 679h3M320 662h3M305 685h3M293 686h3M299 684h3M295 685h3M261 705h3M313 675h3M306 691h3M307 673h3M277 705h3M292 680h3M282 708h3M317 679h3M253 690h3M257 707h3M302 668h3M301 693h3M303 693h3M280 684h3M311 666h3M282 692h3M309 686h3M336 669h3M308 691h3M289 703h3M310 670h3M282 688h3M295 698h3M277 696h3M324 669h3M300 699h3M296 689h3M268 697h3M288 699h3M306 701h3M298 673h3M314 670h3M284 686h3M302 675h3M318 678h3M308 675h3M282 693h3M319 680h3M322 669h3M292 692h3M295 708h3M276 700h3M309 660h3M270 682h3M298 686h3M307 689h3M288 686h3M326 660h3M273 684h3M307 686h3M298 688h3M302 686h3M303 694h3M292 706h3M316 669h3M284 670h3M289 690h3M302 698h3M304 696h3M282 702h3M320 685h3M262 711h3M304 680h3M281 694h3M280 701h3M269 698h3M293 699h3M308 706h3M281 681h3M294 685h3M277 713h3M279 723h3M302 697h3M298 684h3M320 667h3M305 679h3M304 683h3M290 680h3M319 688h3M320 660h3M270 708h3M321 654h3M312 672h3M322 677h3M292 684h3M314 704h3M311 689h3M265 699h3M258 685h3M293 705h3M297 688h3M276 690h3M290 673h3M261 690h3M291 722h3M314 693h3M282 720h3M274 680h3M313 682h3M295 677h3M288 679h3M289 708h3M306 684h3M278 678h3M306 704h3M288 692h3M288 688h3M304 672h3M278 701h3M271 709h3M294 659h3M341 668h3M312 696h3M300 702h3M263 732h3M294 670h3M281 685h3M336 685h3M276 689h3M296 671h3M323 680h3M286 694h3M282 699h3M279 707h3M298 707h3M301 674h3M282 690h3M292 682h3M258 714h3M325 664h3M262 696h3M284 699h3M280 683h3M301 680h3M307 675h3M326 682h3M273 724h3M286 707h3M293 708h3M331 677h3M301 666h3M285 680h3M322 667h3M268 693h3M253 704h3M306 677h3M291 668h3M268 711h3M295 697h3M268 702h3M264 681h3M301 694h3M265 696h3M270 715h3M298 683h3M297 663h3M301 717h3M276 682h3M274 692h3M300 680h3M274 720h3M269 683h3M268 706h3M307 684h3M309 678h3M323 671h3M279 690h3M300 663h3M265 693h3M288 687h3M286 703h3M312 695h3M291 691h3M277 679h3M274 689h3M312 704h3M276 703h3M275 704h3M308 677h3M285 687h3M322 692h3M278 675h3M301 670h3M301 701h3M287 700h3M303 671h3M314 661h3M301 716h3M292 695h3M300 670h3M282 700h3M290 709h3M308 681h3M300 689h3M285 698h3M279 686h3M285 689h3M297 690h3M314 667h3M308 708h3M312 674h3M287 683h3M334 670h3M268 701h3M267 713h3M286 693h3M306 696h3M280 699h3M290 705h3M302 678h3M266 691h3M275 687h3M293 689h3M283 681h3M268 692h3M288 683h3M305 711h3M296 702h3M286 689h3M325 687h3M282 714h3M297 697h3M310 694h3M306 675h3M303 680h3M297 675h3M297 693h3M299 669h3M289 686h3M294 694h3M262 716h3M306 702h3M282 684h3M300 701h3M292 681h3M274 706h3M323 660h3M306 673h3M309 691h3M315 698h3M285 713h3M294 689h3M329 672h3M311 679h3M284 689h3M291 698h3M292 693h3M298 701h3M296 663h3M300 693h3M313 676h3M305 674h3M304 675h3M291 673h3M294 681h3M257 686h3M281 697h3M316 672h3M266 695h3M293 696h3M304 669h3M333 670h3M302 685h3M313 669h3M287 711h3M311 670h3M304 693h3M295 687h3M297 698h3M301 688h3M308 676h3M288 695h3M313 674h3M290 686h3M306 666h3M282 664h3M329 676h3M316 685h3M287 715h3M307 676h3M308 688h3M313 666h3M292 686h3M321 686h3M289 705h3M267 691h3M278 714h3M273 688h3M323 668h3M264 715h3M256 687h3M320 688h3M286 685h3M314 671h3M307 699h3M282 675h3M289 698h3M296 687h3M298 702h3M279 685h3M281 704h3M288 689h3M276 698h3M320 681h3M321 666h3M289 678h3M303 683h3M302 682h3M313 691h3M285 671h3M312 705h3M286 691h3M301 668h3M307 656h3M324 676h3M313 671h3M302 681h3M311 690h3M281 677h3M278 694h3M307 665h3M308 693h3M299 690h3M311 650h3M274 682h3M287 688h3M315 670h3M308 710h3M307 716h3M308 687h3M265 708h3M293 670h3M320 674h3M305 689h3M266 699h3M279 702h3M298 692h3M282 691h3M287 678h3M327 671h3M286 701h3M286 695h3M301 691h3M283 677h3M284 710h3M285 708h3M296 678h3M302 701h3M282 687h3M263 690h3M274 707h3M317 676h3M296 698h3M305 687h3M320 670h3M318 684h3M235 708h3M247 718h3M264 701h3M238 709h3M253 699h3M274 698h3M261 701h3M248 695h3M249 702h3M268 721h3M241 713h3M234 711h3M266 704h3M246 700h3M250 712h3M254 699h3M250 703h3M256 701h3M238 706h3M265 702h3M262 708h3M250 708h3M256 710h3M252 712h3M255 700h3M243 705h3M254 709h3M240 707h3M235 710h3M262 713h3M263 700h3M256 693h3M262 702h3M281 696h3M230 709h3M248 707h3M260 699h3M245 706h3M248 702h3M255 706h3M240 708h3M251 699h3M254 703h3M255 716h3M260 693h3M264 703h3M249 719h3M239 699h3M242 700h3M233 719h3M258 708h3M245 709h3M240 718h3M248 694h3M249 708h3M243 718h3M230 706h3M246 709h3M233 720h3M252 713h3M276 709h3M241 712h3M249 699h3M269 694h3M237 705h3M260 714h3M262 686h3M258 691h3M252 706h3M259 683h3M265 698h3M247 705h3M257 711h3M258 699h3M245 714h3M231 717h3M254 698h3M239 708h3M246 697h3M255 713h3M230 710h3M263 706h3M275 690h3M258 706h3M245 717h3M266 707h3M238 712h3M256 708h3M258 698h3M255 708h3M243 707h3M250 700h3M245 701h3M247 703h3M263 702h3M248 697h3M250 705h3M267 697h3M268 694h3M243 706h3M253 710h3M279 708h3M257 704h3M253 714h3M245 708h3M234 702h3M247 707h3M243 717h3M234 721h3M283 688h3M245 722h3M245 703h3M266 702h3M249 712h3M251 691h3M243 708h3M258 702h3M262 697h3M243 699h3M235 701h3M326 637h3M330 637h3M318 659h3M359 631h3M332 656h3M341 641h3M331 654h3M320 644h3M336 637h3M341 649h3M309 658h3M329 644h3M317 641h3M327 646h3M309 649h3M322 665h3M320 656h3M335 638h3M314 664h3M325 640h3M332 640h3M338 658h3M327 637h3M318 650h3M311 649h3M317 667h3M325 648h3M325 638h3M322 641h3M341 646h3M335 647h3M308 671h3M332 643h3M333 651h3M325 655h3M310 648h3M325 632h3M329 633h3M312 662h3M325 636h3M321 643h3M323 652h3M339 630h3M321 642h3M335 649h3M321 657h3M331 651h3M351 636h3M350 628h3M328 645h3M324 635h3M330 643h3M322 647h3M319 663h3M336 646h3M337 652h3M322 662h3M324 660h3M320 658h3M322 653h3M325 646h3M329 645h3M325 641h3M317 659h3M309 662h3M296 656h3M323 627h3M324 644h3M325 647h3M341 647h3M300 665h3M304 656h3M328 650h3M332 658h3M332 634h3M327 645h3M315 654h3M318 661h3M311 661h3M338 644h3M356 620h3M310 660h3M322 651h3M323 646h3M306 663h3M336 643h3M335 643h3M312 668h3M314 657h3M333 623h3M301 656h3M318 651h3M327 636h3M304 664h3M320 654h3M308 658h3M334 640h3M317 655h3M320 647h3M323 643h3M332 642h3M333 645h3M322 633h3M333 628h3M339 645h3M328 641h3M341 636h3M324 643h3M329 650h3M326 648h3M322 655h3M306 648h3M319 660h3M314 643h3M317 653h3M335 645h3M333 640h3M319 655h3M302 669h3M339 646h3M326 658h3M327 643h3M301 662h3M321 653h3M334 648h3M324 655h3M331 657h3M340 640h3M311 651h3M317 648h3M314 663h3M338 654h3M323 648h3M321 644h3M348 642h3M349 635h3M340 645h3M324 641h3M339 634h3M331 648h3M326 653h3M320 649h3M316 641h3M327 650h3M321 655h3M316 657h3M321 640h3M327 660h3M339 636h3M337 639h3M309 667h3M312 652h3M318 664h3M319 649h3M322 658h3M322 660h3M302 655h3M329 635h3M318 653h3M308 660h3M335 641h3M326 659h3M323 653h3M348 632h3M312 654h3M341 637h3M321 661h3M323 647h3M330 670h3M324 653h3M328 644h3M250 572h3M272 556h3M314 536h3M356 622h3M370 630h3M380 616h3M394 640h3M392 678h3M631 675h3M659 658h3M628 667h3M684 643h3M642 685h3M651 676h3M621 703h3M689 648h3M595 717h3M644 685h3M659 654h3M623 690h3M629 700h3M634 703h3M584 711h3M633 653h3M638 703h3M634 692h3M655 685h3M629 692h3M606 701h3M640 660h3M612 678h3M620 708h3M623 698h3M661 657h3M614 674h3M632 668h3M600 693h3M628 674h3M653 662h3M630 701h3M641 660h3M595 708h3M600 707h3M638 656h3M617 695h3M623 671h3M656 649h3M650 665h3M626 680h3M619 688h3M628 665h3M628 690h3M614 675h3M629 691h3M647 656h3M617 671h3M617 687h3M649 646h3M595 699h3M599 701h3M631 689h3M594 720h3M647 671h3M644 662h3M629 656h3M640 666h3M591 706h3M626 679h3M625 674h3M617 680h3M604 712h3M615 670h3M635 673h3M632 695h3M598 692h3M625 667h3M600 700h3M620 681h3M633 679h3M629 699h3M590 710h3M637 680h3M598 696h3M614 684h3M627 684h3M622 674h3M622 703h3M613 685h3M620 684h3M608 680h3M641 662h3M633 660h3M643 659h3M621 658h3M632 676h3M648 689h3M604 671h3M659 680h3M632 674h3M618 701h3M589 697h3M642 698h3M597 689h3M602 700h3M659 677h3M614 672h3M630 642h3M635 672h3M615 679h3M645 650h3M611 679h3M620 664h3M643 688h3M627 699h3M633 654h3M659 651h3M624 675h3M650 678h3M625 668h3M661 676h3M646 664h3M641 656h3M652 658h3M639 661h3M660 687h3M629 681h3M640 670h3M669 667h3M610 679h3M639 644h3M655 677h3M639 679h3M624 676h3M632 693h3M610 652h3M617 708h3M611 691h3M644 677h3M632 675h3M677 686h3M611 684h3M641 686h3M573 685h3M641 669h3M606 710h3M634 650h3M644 634h3M645 666h3M630 694h3M618 706h3M639 659h3M613 697h3M627 658h3M651 687h3M630 669h3M607 717h3M623 679h3M669 670h3M619 673h3M633 695h3M595 701h3M638 657h3M635 660h3M654 675h3M640 668h3M613 686h3M632 652h3M613 710h3M636 689h3M648 667h3M647 676h3M629 627h3M651 651h3M608 698h3M613 693h3M642 658h3M639 674h3M593 697h3M637 661h3M615 671h3M620 688h3M627 669h3M628 671h3M646 686h3M658 654h3M616 665h3M621 677h3M661 667h3M624 691h3M676 636h3M665 649h3M630 684h3M616 684h3M617 649h3M671 674h3M640 686h3M610 691h3M640 691h3M646 643h3M630 698h3M634 677h3M639 684h3M625 676h3M619 689h3M635 682h3M655 673h3M635 681h3M630 685h3M602 691h3M665 675h3M633 678h3M643 662h3M621 680h3M630 659h3M681 623h3M599 679h3M643 670h3M649 660h3M659 657h3M639 650h3M650 654h3M627 670h3M634 690h3M619 663h3M610 670h3M654 677h3M620 691h3M619 662h3M631 698h3M629 702h3M645 683h3M590 679h3M615 692h3M630 664h3M594 704h3M585 690h3M671 670h3M666 637h3M642 671h3M626 693h3M616 699h3M619 693h3M626 675h3M612 696h3M614 688h3M619 651h3M633 690h3M604 689h3M637 664h3M637 665h3M634 653h3M592 690h3M602 672h3M616 696h3M630 679h3M597 687h3M644 686h3M604 694h3M617 664h3M614 661h3M620 689h3M624 705h3M593 703h3M630 667h3M595 702h3M636 659h3M672 646h3M607 685h3M608 710h3M643 651h3M640 680h3M636 678h3M654 651h3M625 677h3M620 680h3M651 686h3M641 655h3M635 692h3M625 697h3M652 653h3M643 692h3M600 666h3M683 637h3M623 685h3M596 706h3M659 666h3M601 695h3M632 672h3M626 699h3M630 675h3M642 651h3M665 657h3M583 715h3M649 652h3M638 679h3M596 694h3M615 674h3M664 645h3M640 669h3M644 647h3M675 666h3M627 691h3M614 693h3M644 669h3M621 645h3M627 694h3M604 683h3M652 667h3M597 686h3M618 702h3M624 674h3M647 659h3M623 699h3M585 694h3M634 663h3M600 705h3M633 671h3M625 694h3M625 671h3M612 663h3M594 693h3M617 697h3M639 681h3M639 690h3M623 680h3M671 654h3M606 690h3M609 688h3M666 662h3M661 675h3M646 684h3M581 694h3M645 682h3M620 668h3M630 672h3M627 689h3M635 652h3M613 679h3M622 711h3M653 675h3M604 685h3M593 710h3M618 692h3M669 634h3M614 713h3M589 706h3M611 706h3M606 671h3M615 696h3M573 728h3M652 680h3M616 649h3M612 701h3M630 690h3M667 642h3M634 694h3M638 704h3M652 672h3M627 692h3M634 695h3M665 654h3M628 698h3M592 719h3M590 700h3M641 651h3M662 669h3M632 685h3M618 677h3M654 658h3M653 681h3M589 685h3M616 674h3M614 702h3M635 686h3M600 684h3M630 661h3M639 672h3M657 677h3M665 648h3M618 651h3M662 667h3M637 671h3M622 677h3M616 671h3M630 696h3M638 675h3M632 682h3M609 700h3M634 680h3M634 687h3M688 656h3M607 696h3M641 661h3M662 677h3M608 692h3M609 694h3M624 670h3M634 662h3M664 642h3M593 688h3M648 632h3M667 677h3M612 690h3M623 693h3M620 658h3M645 658h3M643 671h3M617 675h3M651 667h3M607 677h3M619 676h3M617 686h3M627 686h3M618 688h3M616 678h3M610 688h3M605 665h3M639 703h3M643 660h3M659 648h3M629 682h3M614 699h3M649 667h3M653 647h3M626 655h3M620 683h3M606 685h3M630 668h3M651 660h3M631 680h3M625 701h3M628 676h3M596 679h3M642 676h3M619 701h3M584 690h3M652 668h3M646 666h3M612 684h3M622 690h3M633 684h3M612 710h3M630 677h3M659 653h3M665 686h3M594 690h3M658 649h3M653 653h3M619 699h3M634 691h3M595 686h3M658 673h3M633 656h3M655 697h3M647 653h3M641 685h3M630 673h3M617 699h3M637 673h3M619 687h3M608 697h3M615 703h3M620 679h3M633 670h3M627 659h3M652 656h3M623 675h3M636 686h3M602 711h3M619 675h3M618 695h3M614 712h3M662 647h3M632 657h3M652 697h3M630 686h3M655 667h3M631 715h3M605 686h3M621 689h3M601 672h3M653 666h3M610 700h3M658 641h3M625 679h3M619 683h3M654 682h3M658 650h3M649 659h3M664 623h3M605 691h3M599 682h3M633 677h3M591 675h3M623 666h3M652 663h3M600 669h3M606 673h3M654 673h3M645 644h3M647 663h3M608 700h3M626 664h3M653 682h3M613 683h3M626 688h3M627 668h3M615 695h3M635 653h3M619 665h3M643 650h3M665 638h3M648 657h3M657 662h3M639 685h3M616 679h3M600 712h3M635 694h3M633 702h3M636 641h3M626 708h3M598 676h3M659 675h3M616 689h3M625 687h3M625 666h3M634 689h3M587 724h3M636 663h3M633 688h3M640 685h3M669 656h3M611 693h3M602 715h3M646 677h3M661 669h3M617 690h3M643 656h3M631 681h3M640 676h3M608 682h3M648 666h3M578 711h3M630 711h3M649 680h3M649 666h3M622 664h3M628 660h3M649 672h3M612 697h3M637 647h3M606 674h3M629 680h3M612 689h3M631 656h3M581 706h3M633 687h3M587 707h3M615 716h3M633 680h3M597 707h3M638 648h3M632 658h3M616 688h3M610 671h3M603 690h3M601 710h3M645 660h3M607 693h3M584 716h3M625 651h3M631 660h3M617 681h3M641 703h3M645 678h3M635 684h3M589 695h3M617 702h3M653 677h3M667 658h3M670 685h3M614 669h3M635 656h3M642 663h3M607 681h3M634 675h3M639 677h3M624 682h3M601 703h3M621 697h3M621 674h3M593 698h3M661 670h3M647 658h3M631 663h3M591 714h3M596 700h3M650 662h3M636 671h3M622 693h3M634 688h3M605 685h3M672 667h3M611 682h3M592 685h3M643 637h3M664 648h3M632 666h3M650 632h3M612 677h3M621 700h3M636 676h3M625 681h3M605 678h3M630 674h3M652 669h3M612 695h3M664 665h3M602 702h3M645 675h3M642 675h3M616 680h3M621 690h3M662 663h3M637 655h3M613 674h3M623 670h3M608 705h3M619 705h3M612 702h3M612 674h3M609 685h3M614 679h3M644 665h3M627 696h3M619 730h3M636 695h3M631 673h3M614 696h3M663 641h3M594 701h3M628 699h3M636 679h3M626 687h3M600 690h3M634 701h3M600 692h3M619 697h3M605 710h3M628 702h3M631 659h3M610 687h3M601 726h3M651 695h3M614 681h3M619 685h3M629 665h3M621 671h3M590 709h3M605 679h3M647 678h3M612 691h3M624 678h3M605 712h3M656 651h3M616 669h3M609 695h3M668 679h3M643 668h3M623 692h3M625 678h3M626 689h3M634 633h3M634 654h3M590 701h3M638 666h3M630 699h3M647 701h3M624 688h3M625 692h3M617 712h3M656 648h3M641 670h3M603 705h3M593 679h3M635 679h3M645 639h3M647 675h3M595 720h3M587 678h3M608 703h3M660 655h3M646 679h3M669 676h3M629 685h3M640 652h3M607 673h3M623 665h3M624 700h3M641 681h3M629 679h3M664 649h3M658 640h3M625 682h3M585 696h3M633 701h3M647 665h3M633 666h3M659 668h3M620 669h3M637 687h3M637 701h3M604 691h3M612 686h3M643 653h3M602 681h3M649 665h3M612 675h3M628 684h3M591 700h3M638 687h3M610 654h3M612 693h3M622 684h3M628 669h3M625 708h3M585 709h3M600 709h3M597 700h3M635 667h3M630 678h3M630 688h3M651 642h3M591 702h3M644 643h3M623 689h3M644 652h3M619 674h3M617 698h3M647 669h3M639 668h3M613 698h3M611 696h3M672 636h3M621 681h3M606 702h3M590 702h3M606 680h3M623 711h3M648 680h3M644 671h3M664 644h3M669 638h3M649 655h3M638 668h3M610 676h3M644 679h3M615 672h3M593 691h3M578 735h3M617 700h3M610 696h3M622 673h3M630 695h3M646 651h3M652 665h3M604 662h3M572 694h3M623 697h3M622 659h3M642 678h3M660 691h3M650 656h3M643 648h3M653 688h3M633 657h3M637 691h3M611 649h3M620 662h3M626 660h3M617 677h3M612 661h3M684 645h3M630 693h3M625 680h3M636 666h3M612 667h3M644 672h3M620 675h3M649 671h3M621 685h3M638 637h3M633 659h3M625 703h3M622 688h3M636 694h3M632 641h3M639 667h3M609 669h3M623 673h3M651 675h3M636 680h3M652 664h3M657 673h3M634 656h3M658 658h3M608 685h3M621 705h3M642 666h3M650 677h3M630 691h3M631 671h3M629 668h3M659 655h3M665 669h3M657 653h3M661 677h3M610 699h3M625 689h3M634 699h3M636 674h3M657 660h3M656 667h3M621 667h3M639 647h3M648 659h3M653 676h3M632 701h3M590 688h3M610 685h3M598 700h3M638 658h3M624 696h3M601 689h3M665 656h3M617 701h3M607 669h3M607 689h3M634 693h3M613 705h3M629 661h3M609 684h3M615 691h3M663 669h3M609 702h3M605 696h3M611 697h3M591 682h3M611 678h3M611 694h3M638 689h3M644 682h3M635 661h3M639 670h3M639 663h3M640 671h3M619 681h3M628 670h3M657 636h3M628 654h3M599 706h3M620 695h3M640 656h3M643 655h3M646 683h3M649 675h3M615 680h3M648 650h3M613 673h3M613 706h3M668 627h3M615 662h3M617 676h3M629 697h3M626 681h3M623 684h3M588 690h3M622 710h3M610 692h3M625 657h3M612 700h3M638 652h3M599 683h3M655 660h3M596 721h3M615 711h3M648 683h3M634 669h3M672 654h3M624 673h3M602 692h3M618 691h3M596 718h3M603 671h3M629 696h3M629 669h3M628 701h3M588 730h3M611 675h3M658 652h3M629 688h3M586 701h3M600 691h3M635 668h3M662 664h3M650 673h3M649 684h3M590 697h3M603 704h3M640 682h3M629 684h3M594 702h3M626 666h3M642 664h3M613 720h3M631 666h3M659 682h3M620 705h3M638 662h3M623 653h3M668 663h3M649 663h3M626 658h3M659 659h3M638 667h3M632 678h3M680 642h3M631 672h3M658 664h3M618 683h3M633 685h3M637 690h3M620 693h3M647 651h3M632 684h3M634 646h3M626 665h3M642 695h3M665 660h3M657 652h3M659 662h3M631 677h3M580 714h3M589 678h3M636 688h3M603 708h3M618 680h3M621 672h3M599 685h3M670 646h3M652 662h3M595 673h3M619 682h3M637 657h3M616 693h3M650 667h3M616 714h3M637 676h3M642 660h3M630 670h3M639 657h3M668 658h3M636 669h3M632 697h3M636 673h3M610 702h3M652 642h3M621 652h3M618 666h3M612 712h3M627 676h3M637 653h3M583 718h3M639 669h3M623 664h3M606 684h3M649 658h3M654 692h3M615 699h3M593 704h3M632 680h3M632 679h3M605 692h3M655 655h3M640 665h3M649 673h3M679 661h3M693 645h3M616 698h3M597 688h3M680 637h3M636 682h3M603 699h3M651 673h3M628 691h3M627 677h3M606 676h3M602 694h3M621 696h3M627 687h3M629 706h3M646 674h3M610 694h3M604 693h3M603 685h3M643 647h3M625 691h3M661 659h3M637 666h3M635 683h3M597 695h3M636 665h3M597 715h3M621 659h3M614 671h3M596 689h3M606 677h3M645 651h3M618 668h3M627 672h3M598 678h3M677 649h3M632 667h3M629 690h3M635 649h3M634 666h3M669 662h3M618 672h3M634 678h3M621 692h3M579 715h3M625 684h3M610 684h3M587 704h3M612 680h3M623 683h3M641 677h3M624 677h3M658 668h3M613 668h3M650 683h3M635 698h3M627 667h3M621 684h3M588 679h3M653 669h3M632 670h3M659 674h3M607 701h3M640 661h3M598 694h3M612 699h3M635 666h3M654 701h3M627 683h3M618 670h3M609 689h3M632 665h3M657 643h3M617 670h3M677 630h3M617 692h3M663 674h3M620 692h3M604 699h3M654 680h3M631 650h3M644 707h3M655 672h3M579 706h3M655 700h3M639 665h3M640 664h3M609 673h3M581 668h3M649 670h3M621 678h3M684 644h3M631 687h3M648 636h3M651 683h3M642 680h3M633 675h3M599 703h3M606 689h3M603 707h3M631 691h3M619 677h3M601 714h3M626 690h3M624 680h3M631 706h3M628 683h3M609 687h3M644 658h3M615 705h3M621 670h3M612 681h3M616 700h3M617 657h3M668 642h3M623 655h3M656 646h3M615 667h3M629 677h3M592 705h3M657 666h3M610 681h3M638 645h3M596 709h3M639 689h3M584 713h3M637 658h3M631 667h3M646 670h3M598 664h3M616 708h3M638 640h3M643 681h3M656 658h3M658 663h3M616 694h3M605 661h3M644 661h3M644 674h3M618 687h3M644 693h3M641 683h3M653 663h3M636 698h3M634 668h3M670 662h3M627 708h3M624 699h3M628 659h3M604 704h3M626 692h3M628 652h3M635 674h3M603 695h3M608 709h3M620 710h3M628 686h3M582 694h3M662 661h3M633 681h3M614 716h3M602 705h3M600 678h3M627 695h3M625 683h3M623 709h3M598 715h3M651 663h3M622 666h3M624 698h3M619 694h3M618 699h3M620 678h3M650 666h3M634 671h3M635 654h3M612 670h3M637 684h3M641 691h3M630 700h3M621 709h3M622 709h3M640 657h3M609 703h3M647 654h3M614 705h3M655 654h3M622 686h3M609 680h3M635 669h3M607 683h3M636 685h3M611 680h3M602 685h3M657 641h3M654 661h3M649 642h3M639 666h3M632 690h3M632 671h3M632 660h3M634 658h3M633 665h3M650 669h3M612 666h3M645 662h3M624 685h3M579 694h3M602 707h3M647 683h3M677 664h3M668 652h3M662 649h3M661 663h3M641 674h3M607 707h3M660 644h3M620 677h3M616 681h3M666 642h3M639 632h3M630 708h3M575 729h3M628 666h3M663 653h3M613 692h3M611 692h3M647 634h3M651 657h3M620 673h3M650 652h3M613 687h3M609 708h3M620 686h3M592 693h3M631 700h3M594 686h3M598 695h3M646 661h3M583 705h3M617 709h3M622 701h3M631 690h3M635 671h3M601 692h3M583 693h3M604 698h3M589 675h3M579 688h3M574 700h3M603 700h3M599 696h3M589 682h3M605 681h3M593 695h3M612 694h3M598 689h3M591 690h3M598 703h3M586 694h3M582 697h3M599 697h3M576 700h3M594 691h3M578 695h3M576 692h3M589 688h3M604 687h3M595 694h3M599 687h3M620 682h3M586 697h3M578 691h3M602 687h3M583 706h3M609 691h3M585 687h3M594 699h3M585 691h3M583 688h3M600 694h3M577 685h3M597 690h3M589 696h3M572 701h3M602 686h3M588 689h3M575 704h3M597 678h3M600 696h3M583 696h3M601 699h3M588 685h3M580 688h3M577 678h3M599 690h3M615 682h3M617 691h3M607 686h3M587 700h3M591 701h3M576 693h3M572 695h3M583 689h3M598 690h3M594 696h3M579 702h3M584 706h3M601 690h3M580 690h3M575 692h3M597 691h3M590 685h3M590 696h3M589 687h3M602 693h3M579 695h3M595 684h3M617 693h3M581 690h3M608 684h3M590 693h3M605 693h3M586 691h3M598 702h3M606 686h3M583 695h3M587 709h3M594 689h3M577 694h3M585 686h3M594 697h3M582 679h3M580 699h3M612 704h3M577 689h3M584 698h3M616 691h3M583 687h3M617 688h3M581 688h3M610 680h3M593 690h3M584 695h3M594 679h3M591 694h3M585 682h3M583 684h3M582 691h3M604 706h3M596 676h3M607 695h3M585 702h3M600 683h3M590 698h3M575 700h3M579 685h3M583 679h3M592 696h3M573 695h3M628 682h3M590 704h3M600 698h3M599 695h3M592 701h3M577 698h3M583 681h3M587 690h3M572 679h3M591 697h3M610 689h3M583 690h3M589 691h3M575 699h3M596 701h3M590 690h3M575 694h3M585 706h3M580 716h3M596 703h3M608 686h3M608 693h3M582 696h3M592 686h3M588 702h3M592 709h3M589 686h3M602 684h3M578 700h3M601 679h3M597 697h3M614 689h3M604 697h3M617 696h3M722 682h3M728 708h3M716 680h3M698 697h3M760 633h3M744 656h3M749 646h3M675 692h3M691 690h3M723 672h3M709 696h3M745 657h3M722 685h3M696 723h3M709 706h3M669 715h3M709 662h3M690 703h3M712 690h3M716 702h3M710 692h3M721 727h3M686 704h3M718 695h3M699 683h3M708 675h3M706 688h3M731 677h3M700 709h3M675 665h3M716 704h3M726 702h3M737 691h3M739 682h3M734 669h3M733 681h3M706 714h3M697 684h3M746 673h3M736 678h3M687 706h3M696 731h3M691 693h3M665 709h3M726 676h3M700 687h3M736 691h3M657 704h3M694 680h3M707 697h3M712 701h3M717 665h3M724 700h3M741 634h3M730 691h3M725 663h3M694 694h3M701 726h3M707 691h3M727 666h3M735 674h3M713 718h3M718 684h3M711 676h3M698 679h3M703 684h3M692 694h3M735 680h3M709 682h3M743 671h3M717 703h3M725 704h3M706 665h3M694 701h3M727 657h3M687 718h3M706 696h3M701 696h3M702 686h3M718 667h3M701 712h3M711 685h3M706 693h3M721 686h3M702 709h3M714 717h3M735 666h3M679 724h3M679 687h3M693 696h3M700 685h3M708 681h3M705 713h3M663 728h3M714 687h3M733 672h3M709 687h3M688 696h3M731 664h3M717 677h3M716 681h3M678 683h3M691 705h3M708 690h3M695 708h3M701 678h3M703 680h3M762 662h3M723 667h3M737 676h3M698 687h3M701 676h3M721 656h3M707 682h3M711 681h3M695 681h3M734 693h3M726 677h3M682 696h3M729 698h3M700 711h3M723 666h3M709 673h3M717 680h3M737 680h3M688 684h3M747 679h3M705 687h3M760 664h3M698 696h3M716 693h3M696 710h3M684 730h3M720 670h3M728 706h3M727 655h3M724 683h3M717 695h3M712 688h3M705 708h3M691 678h3M734 687h3M710 689h3M724 660h3M717 686h3M766 648h3M707 675h3M722 701h3M718 675h3M713 671h3M746 663h3M720 671h3M723 676h3M711 693h3M701 690h3M726 686h3M718 688h3M722 664h3M694 703h3M677 720h3M708 695h3M706 659h3M701 679h3M694 708h3M694 712h3M739 667h3M708 694h3M737 689h3M719 677h3M702 683h3M715 710h3M723 689h3M728 673h3M711 677h3M745 688h3M678 710h3M736 656h3M712 709h3M700 674h3M712 686h3M738 678h3M720 677h3M716 677h3M727 683h3M708 671h3M710 686h3M727 688h3M696 682h3M711 712h3M722 677h3M699 697h3M709 683h3M729 684h3M701 689h3M694 705h3M729 695h3M758 673h3M687 683h3M705 715h3M731 665h3M706 695h3M760 655h3M694 692h3M705 703h3M706 709h3M681 703h3M733 671h3M679 731h3M759 657h3M723 684h3M704 702h3M725 673h3M751 663h3M708 686h3M709 652h3M695 672h3M699 704h3M701 709h3M709 697h3M738 669h3M717 679h3M761 658h3M731 667h3M711 689h3M715 709h3M704 672h3M710 680h3M749 655h3M723 648h3M726 657h3M734 688h3M729 682h3M672 717h3M705 714h3M726 661h3M742 695h3M724 677h3M721 671h3M733 689h3M757 661h3M700 695h3M688 677h3M696 666h3M705 693h3M729 690h3M745 649h3M713 689h3M701 670h3M727 651h3M756 652h3M698 710h3M739 678h3M728 695h3M721 667h3M681 709h3M749 671h3M686 691h3M760 645h3M697 699h3M724 678h3M764 661h3M717 691h3M712 680h3M727 638h3M714 699h3M723 695h3M709 698h3M744 668h3M732 679h3M742 683h3M708 682h3M718 669h3M687 693h3M683 678h3M727 674h3M757 668h3M687 658h3M711 708h3M692 702h3M701 684h3M724 673h3M694 704h3M742 669h3M706 687h3M704 690h3M741 650h3M719 680h3M697 686h3M691 722h3M681 707h3M730 694h3M731 689h3M704 682h3M711 715h3M719 651h3M729 697h3M705 651h3M722 665h3M723 677h3M673 705h3M664 690h3M674 692h3M748 663h3M695 673h3M673 728h3M715 703h3M738 688h3M704 697h3M718 681h3M731 717h3M714 705h3M722 689h3M717 689h3M742 681h3M700 665h3M707 705h3M699 659h3M750 675h3M686 695h3M739 673h3M695 688h3M718 676h3M711 714h3M696 704h3M723 685h3M759 624h3M727 664h3M735 676h3M700 680h3M679 719h3M705 701h3M705 669h3M690 709h3M710 674h3M707 711h3M710 695h3M751 657h3M719 731h3M687 720h3M706 706h3M713 670h3M710 720h3M722 671h3M721 674h3M692 691h3M694 696h3M699 728h3M726 679h3M731 655h3M692 700h3M745 665h3M729 689h3M715 679h3M682 713h3M736 716h3M736 666h3M715 687h3M679 693h3M756 668h3M735 661h3M709 720h3M721 700h3M739 679h3M714 678h3M710 683h3M732 665h3M725 678h3M683 704h3M703 685h3M693 703h3M714 685h3M715 700h3M739 683h3M736 703h3M728 694h3M747 691h3M676 692h3M746 668h3M717 698h3M703 707h3M726 693h3M698 673h3M697 683h3M711 697h3M694 668h3M706 689h3M725 683h3M726 691h3M720 685h3M716 668h3M692 710h3M746 670h3M684 715h3M725 679h3M703 696h3M702 672h3M717 683h3M709 702h3M672 700h3M719 688h3M720 692h3M742 702h3M675 715h3M689 701h3M683 690h3M704 675h3M737 641h3M690 675h3M753 667h3M725 677h3M698 703h3M712 661h3M710 655h3M740 636h3M713 713h3M712 665h3M707 692h3M745 664h3M723 662h3M705 682h3M704 709h3M720 693h3M744 677h3M725 682h3M693 704h3M708 688h3M719 709h3M726 680h3M718 692h3M747 659h3M719 671h3M713 686h3M699 692h3M683 697h3M729 687h3M721 713h3M718 687h3M703 670h3M719 692h3M656 718h3M715 686h3M695 687h3M730 696h3M662 728h3M760 658h3M734 698h3M693 666h3M717 688h3M730 668h3M684 709h3M714 676h3M732 700h3M719 699h3M750 666h3M718 696h3M726 678h3M703 690h3M707 690h3M736 674h3M685 701h3M687 681h3M730 671h3M736 673h3M726 675h3M713 698h3M693 708h3M730 676h3M703 692h3M720 691h3M722 694h3M713 680h3M714 673h3M692 725h3M692 695h3M687 700h3M680 716h3M716 707h3M722 708h3M713 666h3M701 673h3M684 656h3M694 711h3M744 688h3M747 665h3M722 676h3M714 700h3M745 647h3M723 690h3M740 688h3M745 682h3M689 698h3M737 663h3M732 702h3M712 708h3M714 686h3M700 701h3M701 686h3M738 676h3M756 662h3M731 680h3M680 672h3M724 676h3M711 666h3M735 642h3M741 702h3M708 683h3M724 675h3M714 681h3M726 663h3M744 689h3M695 671h3M747 668h3M702 716h3M732 686h3M724 679h3M718 658h3M745 674h3M733 687h3M744 673h3M730 684h3M730 661h3M716 688h3M698 695h3M712 671h3M714 683h3M728 661h3M710 670h3M711 705h3M686 700h3M739 658h3M689 712h3M680 701h3M708 676h3M726 659h3M719 703h3M722 675h3M725 697h3M710 699h3M700 696h3M701 692h3M710 715h3M739 656h3M690 698h3M724 664h3M712 685h3M715 669h3M689 685h3M738 675h3M728 680h3M689 708h3M753 646h3M757 673h3M713 719h3M722 678h3M694 689h3M703 697h3M715 663h3M716 696h3M727 658h3M732 651h3M743 657h3M709 713h3M674 707h3M697 707h3M720 666h3M724 697h3M697 702h3M716 684h3M701 666h3M778 641h3M715 697h3M739 669h3M721 683h3M713 696h3M719 695h3M694 687h3M685 707h3M761 656h3M746 665h3M676 700h3M690 672h3M731 678h3M725 688h3M728 702h3M698 705h3M714 672h3M718 690h3M739 664h3M682 700h3M695 677h3M709 660h3M734 658h3M712 681h3M698 699h3M671 719h3M736 699h3M722 679h3M743 685h3M699 684h3M699 689h3M694 672h3M719 708h3M731 700h3M741 672h3M728 701h3M692 664h3M723 699h3M687 698h3M679 730h3M685 696h3M748 628h3M692 731h3M694 659h3M690 705h3M731 698h3M709 700h3M697 689h3M723 674h3M770 645h3M703 693h3M706 670h3M706 667h3M700 715h3M697 678h3M700 678h3M768 681h3M704 679h3M709 668h3M687 690h3M729 686h3M731 660h3M717 681h3M660 689h3M725 666h3M689 705h3M717 684h3M764 670h3M706 700h3M646 691h3M692 676h3M727 661h3M731 673h3M664 734h3M689 676h3M741 628h3M704 706h3M697 682h3M714 646h3M717 667h3M711 680h3M671 699h3M714 665h3M736 684h3M686 688h3M728 679h3M735 672h3M716 722h3M741 706h3M678 697h3M685 703h3M744 679h3M736 679h3M715 678h3M707 684h3M724 696h3M724 702h3M748 679h3M759 659h3M681 693h3M700 675h3M725 684h3M680 665h3M715 676h3M741 671h3M707 663h3M712 714h3M720 707h3M692 685h3M702 692h3M682 701h3M716 676h3M726 683h3M703 721h3M736 669h3M722 681h3M683 698h3M674 708h3M693 685h3M678 682h3M721 672h3M706 666h3M698 682h3M721 677h3M739 675h3M729 671h3M702 691h3M701 682h3M712 687h3M677 668h3M735 679h3M728 690h3M682 710h3M699 718h3M713 675h3M714 707h3M712 674h3M709 685h3M689 693h3M725 674h3M735 677h3M695 696h3M717 675h3M716 683h3M720 687h3M721 680h3M751 665h3M719 691h3M724 682h3M718 701h3M684 716h3M730 687h3M710 665h3M701 688h3M718 683h3M702 701h3M710 688h3M732 695h3M732 650h3M680 683h3M740 662h3M719 670h3M680 712h3M714 696h3M733 715h3M700 679h3M695 676h3M710 676h3M729 694h3M704 692h3M701 695h3M715 702h3M682 683h3M679 715h3M680 711h3M713 690h3M725 660h3M688 699h3M710 687h3M704 705h3M714 674h3M701 705h3M717 649h3M713 693h3M744 674h3M668 707h3M715 680h3M752 656h3M691 708h3M704 713h3M688 708h3M732 668h3M690 708h3M722 692h3M707 695h3M712 678h3M680 699h3M720 667h3M687 687h3M750 658h3M682 692h3M741 677h3M719 687h3M708 699h3M708 674h3M720 681h3M694 690h3M670 711h3M722 674h3M737 671h3M754 694h3M720 678h3M700 698h3M721 678h3M726 672h3M712 682h3M728 676h3M660 724h3M689 716h3M715 691h3M737 653h3M723 678h3M732 676h3M727 671h3M751 653h3M728 684h3M732 662h3M705 691h3M738 686h3M747 644h3M737 678h3M696 696h3M719 740h3M739 676h3M702 693h3M684 685h3M717 674h3M723 710h3M744 657h3M696 699h3M698 683h3M733 678h3M711 665h3M705 689h3M716 641h3M671 692h3M677 727h3M765 665h3M710 718h3M711 667h3M701 694h3M707 686h3M724 694h3M699 702h3M690 714h3M703 686h3M747 675h3M713 681h3M721 697h3M725 680h3M668 704h3M702 670h3M701 671h3M686 673h3M725 698h3M690 699h3M671 698h3M727 680h3M717 664h3M691 704h3M691 699h3M716 703h3M710 682h3M722 699h3M752 655h3M702 702h3M713 665h3M712 697h3M716 691h3M721 679h3M702 678h3M726 689h3M695 689h3M728 675h3M728 691h3M702 674h3M664 715h3M712 679h3M695 693h3M697 715h3M686 718h3M702 695h3M737 681h3M727 691h3M680 702h3M667 710h3M682 673h3M723 668h3M701 683h3M702 708h3M698 701h3M719 662h3M687 699h3M726 682h3M705 702h3M702 700h3M701 691h3M745 683h3M758 647h3M721 698h3M746 694h3M725 702h3M732 671h3M719 681h3M697 703h3M721 651h3M713 691h3M741 688h3M717 711h3M702 673h3M696 684h3M720 699h3M719 684h3M709 690h3M711 658h3M733 707h3M748 648h3M718 691h3M702 680h3M718 705h3M686 706h3M727 678h3M745 671h3M741 680h3M732 685h3M690 689h3M722 670h3M711 645h3M686 686h3M722 668h3M692 689h3M723 692h3M728 672h3M742 657h3M733 657h3M729 677h3M694 673h3M702 704h3M734 683h3M713 685h3M731 654h3M736 677h3M688 694h3M715 683h3M671 704h3M714 714h3M733 694h3M743 644h3M688 705h3M699 707h3M674 716h3M697 679h3M708 665h3M712 683h3M738 661h3M693 687h3M740 682h3M726 692h3M690 695h3M732 666h3M748 654h3M749 692h3M726 635h3M688 695h3M736 667h3M743 689h3M686 703h3M704 699h3M695 740h3M760 638h3M742 660h3M699 696h3M693 668h3M723 688h3M735 668h3M689 674h3M721 676h3M689 707h3M685 693h3M704 710h3M744 653h3M696 676h3M686 720h3M677 712h3M691 706h3M717 661h3M678 698h3M676 712h3M704 691h3M728 699h3M711 690h3M718 680h3M719 712h3M750 673h3M698 704h3M682 697h3M713 684h3M696 706h3M743 696h3M711 657h3M697 700h3M726 671h3M689 713h3M694 698h3M694 697h3M721 664h3M750 660h3M712 670h3M768 629h3M713 664h3M743 680h3M719 694h3M727 668h3M721 685h3M683 706h3M748 662h3M670 686h3M710 712h3M722 695h3M710 666h3M719 678h3M696 701h3M733 686h3M710 704h3M744 693h3M731 662h3M716 697h3M714 659h3M692 697h3M761 670h3M705 697h3M710 685h3M758 665h3M705 685h3M733 668h3M739 663h3M722 697h3M698 667h3M708 670h3M667 706h3M682 727h3M734 689h3M732 694h3M771 647h3M751 648h3M689 704h3M730 663h3M669 727h3M728 667h3M733 701h3M726 653h3M724 691h3M697 681h3M686 712h3M757 639h3M715 685h3M703 695h3M690 691h3M706 680h3M678 714h3M713 699h3M685 733h3M723 651h3M730 680h3M703 698h3M742 663h3M711 692h3M702 694h3M733 652h3M696 685h3M675 688h3M707 703h3M751 675h3M684 697h3M682 690h3M700 682h3M696 707h3M651 717h3M684 703h3M722 686h3M704 722h3M738 672h3M703 708h3M712 662h3M743 652h3M702 711h3M694 678h3M718 703h3M723 687h3M678 695h3M678 696h3M688 690h3M703 683h3M708 662h3M724 695h3M734 699h3M693 710h3M698 684h3M731 676h3M696 698h3M704 676h3M720 686h3M716 664h3M719 676h3M691 663h3M690 737h3M700 690h3M721 694h3M717 662h3M728 674h3M707 694h3M737 658h3M681 710h3M676 701h3M736 659h3M685 694h3M686 698h3M685 716h3M725 671h3M714 671h3M703 699h3M696 668h3M725 647h3M699 701h3M707 720h3M683 687h3M753 656h3M724 680h3M733 679h3M709 677h3M750 687h3M729 658h3M719 704h3M669 703h3M742 676h3M692 723h3M710 722h3M675 690h3M726 688h3M733 654h3M723 669h3M703 705h3M740 668h3M753 665h3M711 701h3M704 687h3M704 704h3M723 697h3M751 685h3M692 705h3M695 695h3M668 715h3M685 711h3M704 671h3M764 639h3M733 667h3M760 640h3M712 677h3M692 707h3M737 652h3M709 672h3M696 702h3M696 681h3M740 683h3M707 702h3M689 692h3M665 703h3M706 671h3M679 709h3M722 696h3M706 703h3M715 665h3M718 699h3M726 687h3M697 690h3M713 646h3M724 665h3M714 710h3M704 718h3M697 704h3M731 681h3M712 707h3M720 669h3M713 679h3M692 687h3M715 692h3M686 724h3M713 715h3M710 701h3M718 700h3M736 665h3M699 673h3M706 681h3M682 717h3M722 669h3M729 704h3M735 688h3M707 687h3M758 678h3M711 698h3M724 703h3M707 688h3M668 734h3M703 694h3M706 722h3M670 721h3M682 715h3M734 666h3M707 698h3M734 650h3M725 670h3M715 667h3M719 696h3M714 660h3M688 706h3M711 711h3M718 678h3M722 672h3M701 713h3M748 670h3M692 679h3M666 703h3M765 667h3M660 714h3M748 658h3M747 643h3M755 658h3M728 662h3M719 672h3M740 647h3M731 702h3M717 724h3M715 695h3M679 713h3M696 694h3M708 702h3M702 675h3M712 673h3M711 699h3M688 683h3M750 683h3M717 678h3M717 704h3M706 691h3M688 697h3M740 673h3M687 717h3M719 667h3M699 712h3M739 654h3M708 705h3M698 690h3M726 647h3M692 692h3M746 680h3M746 651h3M733 682h3M692 703h3M710 660h3M694 717h3M696 674h3M707 710h3M723 714h3M699 687h3M685 697h3M703 710h3M746 655h3M702 685h3M712 703h3M734 672h3M697 670h3M717 685h3M696 677h3M724 681h3M713 687h3M695 691h3M691 719h3M700 703h3M699 693h3M689 722h3M666 710h3M730 683h3M704 703h3M694 726h3M748 634h3M725 676h3M738 650h3M718 704h3M698 693h3M720 679h3M739 639h3M712 663h3M727 675h3M695 722h3M734 663h3M740 681h3M729 665h3M699 691h3M698 724h3M706 675h3M713 676h3M736 692h3M697 711h3M707 670h3M711 683h3M708 696h3M686 722h3M687 730h3M737 673h3M705 681h3M730 697h3M737 669h3M729 696h3M695 675h3M706 684h3M733 658h3M754 659h3M743 651h3M679 692h3M694 665h3M736 675h3M747 654h3M723 683h3M714 692h3M735 657h3M730 698h3M710 678h3M707 712h3M697 692h3M723 709h3M727 689h3M711 686h3M727 667h3M694 688h3M688 701h3M680 734h3M677 695h3M707 667h3M749 681h3M706 717h3M752 669h3M742 662h3M736 670h3M738 691h3M682 709h3M745 676h3M726 706h3M687 682h3M741 655h3M723 682h3M703 689h3M730 665h3M684 687h3M712 644h3M742 698h3M729 688h3M674 713h3M683 679h3M712 699h3M745 687h3M738 674h3M713 658h3M678 705h3M736 687h3M740 650h3M717 673h3M683 669h3M711 706h3M723 671h3M723 693h3M685 685h3M698 677h3M682 693h3M742 682h3M706 704h3M722 680h3M716 675h3M723 663h3M715 690h3M703 671h3M751 673h3M690 651h3M731 695h3M750 677h3M721 695h3M709 693h3M725 668h3M732 689h3M685 713h3M715 698h3M705 711h3M715 693h3M749 673h3M755 641h3M744 665h3M688 717h3M675 670h3M697 739h3M710 702h3M739 662h3M723 659h3M694 674h3M756 708h3M728 668h3M739 677h3M719 665h3M688 704h3M690 701h3M720 704h3M744 606h3M736 550h3M726 583h3M722 600h3M728 564h3M739 607h3M736 616h3M721 608h3M726 615h3M730 598h3M723 614h3M727 611h3M716 598h3M718 602h3M732 573h3M731 578h3M724 616h3M754 617h3M726 587h3M737 576h3M731 568h3M722 619h3M736 606h3M741 631h3M728 620h3M734 633h3M762 613h3M717 591h3M726 595h3M735 618h3M728 577h3M718 609h3M722 593h3M725 621h3M725 591h3M729 588h3M747 615h3M731 548h3M724 617h3M737 605h3M736 590h3M715 611h3M721 592h3M715 610h3M732 601h3M739 612h3M726 585h3M743 589h3M721 630h3M724 605h3M727 597h3M730 585h3M748 592h3M715 604h3M735 581h3M729 599h3M742 596h3M712 568h3M714 600h3M749 620h3M743 593h3M741 597h3M727 604h3M741 590h3M728 572h3M715 600h3M727 593h3M725 590h3M716 622h3M721 602h3M720 588h3M735 589h3M740 625h3M742 613h3M741 571h3M735 592h3M738 591h3M733 618h3M717 611h3M693 586h3M730 600h3M718 610h3M739 598h3M711 607h3M723 621h3M712 623h3M723 589h3M726 577h3M738 592h3M738 614h3M743 603h3M737 599h3M723 603h3M723 576h3M730 599h3M724 598h3M708 590h3M703 613h3M737 589h3M730 590h3M752 611h3M722 610h3M741 601h3M730 604h3M734 606h3M729 605h3M741 584h3M734 613h3M722 632h3M727 606h3M725 596h3M729 619h3M731 610h3M723 588h3M721 598h3M728 591h3M707 616h3M733 579h3M758 581h3M727 625h3M750 586h3M745 585h3M760 562h3M763 566h3M756 576h3M749 563h3M741 599h3M752 578h3M760 585h3M751 570h3M752 563h3M751 576h3M748 595h3M742 585h3M761 576h3M741 624h3M748 599h3M744 604h3M748 625h3M748 569h3M735 607h3M756 599h3M737 592h3M760 560h3M752 573h3M741 587h3M741 586h3M733 620h3M751 583h3M747 595h3M752 585h3M757 564h3M749 583h3M749 593h3M729 622h3M729 611h3M755 581h3M742 567h3M750 590h3M720 635h3M727 601h3M742 587h3M752 580h3M749 566h3M753 590h3M770 540h3M744 580h3M754 582h3M726 616h3M758 554h3M740 608h3M756 586h3M744 607h3M760 578h3M735 594h3M757 614h3M721 638h3M754 574h3M756 591h3M750 589h3M740 585h3M740 588h3M746 582h3M757 555h3M745 595h3M756 560h3M739 610h3M748 561h3M743 586h3M746 594h3M750 581h3M750 592h3M749 607h3M761 573h3M752 589h3M743 605h3M744 575h3M751 564h3M735 603h3M737 602h3M738 608h3M749 576h3M740 622h3M729 601h3M748 579h3M744 592h3M751 572h3M766 574h3M750 594h3M753 600h3M738 600h3M749 594h3M731 631h3M753 570h3M731 614h3M750 582h3M728 604h3M759 574h3M744 640h3M743 622h3M747 554h3M737 616h3M740 592h3M744 590h3M761 565h3M745 579h3M749 591h3M760 558h3M765 576h3M737 587h3M742 599h3M744 579h3M734 618h3M738 576h3M736 600h3M735 616h3M749 574h3M732 611h3M746 587h3M749 573h3M731 622h3M748 585h3M728 606h3M735 637h3M738 585h3M751 578h3M743 590h3M752 591h3M756 585h3M749 586h3M753 563h3M732 599h3M740 605h3M757 587h3M759 588h3M752 579h3M746 591h3M731 625h3M744 598h3M748 582h3M741 630h3M744 581h3M749 584h3M725 632h3M745 606h3M746 619h3M744 605h3M742 602h3M743 608h3M725 634h3M764 572h3M774 548h3M753 588h3M762 564h3M742 593h3M765 572h3M738 589h3M733 611h3M761 586h3M735 605h3M742 573h3M752 592h3M753 591h3M757 566h3M729 606h3M754 569h3M734 607h3M748 601h3M762 573h3M751 585h3M741 609h3M756 589h3M737 639h3M747 569h3M739 616h3M752 556h3M744 584h3M744 613h3M755 551h3M743 596h3M761 572h3M759 566h3M743 573h3M750 580h3M749 581h3M746 577h3M764 578h3M767 539h3M735 635h3M743 600h3M741 582h3M754 571h3M746 597h3M745 597h3M759 575h3M743 607h3M747 590h3M756 598h3M753 592h3M748 593h3M748 575h3M747 588h3M742 610h3M730 608h3M765 548h3M761 564h3M733 609h3M750 603h3M758 564h3M733 599h3M733 595h3M757 579h3M750 579h3M743 597h3M743 594h3M732 615h3M774 550h3M744 619h3M749 565h3M738 621h3M748 568h3M739 596h3M726 627h3M762 568h3M763 552h3M734 610h3M754 583h3M743 588h3M746 592h3M736 615h3M744 583h3M743 613h3M740 606h3M734 586h3M737 611h3M752 600h3M735 584h3M727 653h3M764 551h3M754 570h3M743 580h3M736 591h3M750 587h3M729 637h3M740 576h3M752 568h3M741 578h3M756 583h3M746 598h3M741 615h3M750 567h3M743 604h3M747 591h3M753 579h3M757 558h3M760 569h3M749 608h3M748 602h3M735 597h3M721 645h3M738 617h3M768 552h3M738 601h3M746 595h3M744 611h3M764 532h3M760 565h3M737 601h3M756 582h3M735 604h3M745 594h3M764 557h3M738 609h3M754 568h3M739 608h3M746 604h3M742 612h3M764 574h3M746 584h3M749 592h3M745 578h3M747 592h3M743 595h3M757 580h3M726 608h3M745 592h3M746 601h3M738 599h3M756 561h3M751 599h3M746 581h3M742 595h3M754 589h3M732 594h3M767 545h3M747 593h3M732 597h3M733 602h3M732 613h3M739 595h3M739 618h3M737 607h3M758 584h3M752 576h3M739 617h3M737 603h3M757 554h3M757 570h3M742 616h3M741 592h3M767 559h3M747 614h3M734 601h3M745 589h3M751 588h3M747 579h3M748 597h3M731 643h3M723 642h3M743 587h3M756 588h3M745 584h3M757 556h3M751 591h3M746 575h3M741 589h3M758 559h3M761 568h3M748 576h3M744 576h3M749 579h3M748 578h3M741 575h3M739 579h3M730 628h3M741 610h3M760 582h3M749 559h3M738 613h3M752 601h3M739 614h3M770 555h3M751 596h3M737 619h3M751 594h3M734 585h3M744 593h3M755 577h3M758 586h3M740 615h3M739 590h3M733 614h3M752 606h3M738 604h3M749 588h3M740 578h3M740 599h3M748 587h3M736 614h3M752 572h3M748 567h3M742 580h3M758 570h3M753 585h3M728 645h3M747 566h3M740 603h3M757 584h3M734 594h3M752 574h3M728 617h3M755 553h3M744 586h3M743 581h3M761 559h3M749 603h3M744 591h3M738 598h3M740 629h3M746 580h3M740 617h3M737 638h3M774 534h3M738 582h3M729 615h3M756 580h3M730 617h3M743 610h3M760 559h3M740 607h3M747 587h3M740 593h3M763 570h3M753 597h3M749 569h3M739 580h3M742 622h3M727 619h3M759 561h3M740 600h3M747 584h3M738 593h3M727 618h3M743 602h3M750 570h3M755 595h3M744 616h3M744 588h3M749 595h3M741 594h3M735 602h3M760 552h3M757 603h3M738 588h3M751 567h3M729 630h3M751 579h3M763 560h3M742 590h3M739 587h3M758 560h3M745 600h3M742 604h3M787 506h3M741 607h3M748 571h3M752 543h3M748 594h3M726 633h3M746 599h3M724 635h3M742 584h3M750 574h3M730 618h3M755 563h3M754 579h3M749 582h3M754 559h3M750 565h3M719 620h3M752 593h3M738 594h3M747 574h3M738 584h3M736 610h3M749 590h3M748 573h3M730 622h3M757 606h3M730 620h3M767 570h3M743 582h3M738 610h3M743 583h3M757 585h3M749 585h3M754 587h3M749 602h3M741 591h3M733 626h3M740 596h3M738 627h3M733 589h3M743 631h3M745 588h3M724 611h3M728 622h3M752 575h3M743 567h3M736 621h3M734 599h3M741 613h3M745 605h3M749 575h3M746 560h3M750 572h3M760 579h3M751 574h3M746 602h3M759 564h3M754 572h3M746 588h3M745 590h3M753 583h3M723 624h3M768 549h3M751 595h3M745 593h3M732 626h3M741 595h3M742 605h3M743 578h3M747 589h3M748 588h3M735 571h3M750 564h3M743 628h3M732 625h3M736 625h3M737 614h3M734 583h3M760 574h3M766 558h3M748 584h3M755 554h3M731 587h3M745 577h3M740 587h3M745 603h3M730 623h3M764 577h3M755 580h3M746 579h3M749 587h3M735 591h3M748 583h3M729 620h3M747 597h3M752 561h3M754 560h3M744 599h3M748 581h3M735 600h3M754 577h3M745 613h3M752 550h3M740 595h3M742 591h3M754 563h3M748 566h3M757 591h3M749 578h3M754 581h3M749 570h3M740 597h3M763 574h3M751 598h3M761 585h3M752 598h3M745 615h3M743 585h3M762 571h3M733 610h3M736 623h3M758 550h3M736 599h3M748 586h3M751 562h3M731 623h3M747 602h3M728 630h3M758 576h3M738 579h3M739 613h3M745 601h3M724 603h3M736 588h3M755 564h3M740 598h3M765 579h3M760 557h3M732 592h3M732 598h3M752 557h3M739 611h3M747 556h3M757 551h3M766 536h3M743 584h3M758 579h3M744 570h3M750 601h3M742 606h3M750 596h3M750 599h3M756 574h3M749 572h3M752 570h3M751 597h3M731 624h3M739 620h3M730 631h3M742 626h3M748 590h3M757 544h3M765 564h3M758 565h3M754 602h3M731 628h3M733 586h3M742 598h3M724 627h3M737 600h3M737 583h3M732 620h3M748 577h3M753 566h3M756 565h3M757 588h3M759 579h3M767 577h3M747 582h3M775 544h3M755 588h3M733 616h3M750 588h3M753 572h3M729 631h3M735 614h3M755 579h3M758 574h3M740 604h3M739 606h3M734 612h3M745 568h3M740 602h3M757 565h3M755 587h3M733 608h3M761 570h3M741 580h3M739 603h3M735 609h3M758 555h3M712 601h3M703 601h3M702 621h3M730 609h3M716 607h3M691 584h3M700 617h3M703 576h3M692 606h3M698 574h3M710 589h3M696 614h3M706 587h3M715 612h3M696 586h3M718 627h3M712 589h3M723 646h3M702 611h3M714 591h3M696 572h3M705 585h3M716 634h3M699 569h3M677 567h3M718 598h3M717 619h3M705 586h3M707 575h3M700 591h3M703 590h3M716 616h3M693 638h3M697 593h3M695 579h3M696 570h3M691 560h3M697 595h3M700 562h3M717 607h3M709 588h3M712 577h3M718 622h3M712 555h3M701 597h3M698 601h3M699 595h3M716 605h3M717 617h3M697 552h3M699 598h3M700 593h3M702 588h3M710 602h3M673 598h3M706 585h3M693 576h3M718 582h3M711 583h3M708 576h3M686 587h3M721 620h3M720 645h3M673 567h3M677 548h3M699 580h3M685 571h3M725 616h3M696 606h3M707 570h3M708 588h3M733 580h3M719 647h3M721 593h3M702 600h3M696 607h3M710 597h3M719 590h3M695 577h3M717 593h3M712 596h3M699 566h3M708 595h3M700 567h3M691 561h3M707 592h3M712 603h3M703 615h3M675 589h3M705 562h3M694 577h3M710 587h3M696 593h3M712 602h3M702 590h3M702 580h3M690 611h3M720 598h3M719 602h3M703 570h3M693 616h3M712 581h3M705 590h3M717 568h3M703 602h3M701 585h3M687 613h3M697 579h3M705 601h3M682 603h3M698 607h3M708 594h3M703 568h3M723 592h3M717 599h3M701 636h3M723 630h3M714 611h3M712 614h3M680 544h3M722 578h3M718 567h3M712 605h3M700 607h3M696 608h3M697 609h3M687 596h3M715 579h3M707 609h3M709 593h3M719 614h3M728 579h3M712 586h3M700 578h3M713 606h3M703 577h3M694 545h3M692 582h3M690 590h3M698 617h3M720 621h3M718 614h3M712 613h3M688 588h3M694 606h3M711 591h3M733 604h3M705 581h3M712 607h3M709 582h3M701 612h3M706 621h3M704 586h3M704 624h3M684 562h3M699 600h3M689 567h3M702 596h3M716 566h3M696 581h3M711 640h3M722 609h3M720 614h3M705 605h3M705 593h3M706 590h3M689 573h3M690 581h3M709 611h3M695 588h3M708 603h3M710 574h3M716 642h3M719 621h3M724 588h3M711 634h3M724 602h3M703 619h3M693 595h3M712 624h3M695 614h3M724 609h3M720 613h3M697 600h3M702 586h3M707 603h3M710 596h3M698 622h3M687 595h3M731 629h3M698 589h3M707 608h3M698 593h3M732 602h3M708 581h3M718 604h3M716 595h3M730 595h3M688 620h3M710 577h3M707 591h3M713 617h3M725 617h3M716 608h3M683 577h3M710 598h3M702 587h3M716 586h3M677 569h3M702 551h3M713 615h3M717 610h3M703 564h3M683 593h3M714 594h3M703 583h3M714 584h3M721 582h3M720 601h3M690 579h3M718 608h3M711 616h3M709 607h3M707 606h3M716 590h3M701 608h3M707 579h3M678 551h3M706 579h3M700 627h3M698 619h3M700 573h3M693 593h3M714 577h3M721 583h3M719 608h3M707 595h3M711 588h3M697 550h3M742 633h3M705 569h3M700 596h3M714 610h3M703 599h3M710 611h3M688 548h3M696 578h3M711 578h3M699 567h3M706 560h3M707 613h3M699 568h3M707 618h3M698 566h3M712 580h3M687 583h3M689 584h3M710 576h3M688 599h3M734 581h3M724 589h3M711 619h3M702 638h3M697 597h3M714 588h3M700 616h3M701 610h3M693 594h3M702 607h3M726 612h3M730 578h3M691 607h3M671 563h3M695 582h3M711 603h3M698 562h3M693 565h3M694 602h3M705 552h3M699 589h3M710 638h3M708 601h3M730 626h3M716 625h3M730 572h3M702 591h3M689 622h3M707 625h3M710 610h3M701 603h3M693 575h3M706 617h3M693 585h3M706 615h3M714 621h3M705 638h3M703 591h3M703 618h3M721 611h3M734 627h3M714 618h3M719 626h3M708 612h3M708 577h3M696 612h3M725 610h3M731 591h3M709 578h3M700 569h3M712 595h3M740 651h3M701 593h3M712 582h3M711 606h3M687 615h3M703 598h3M702 552h3M702 582h3M696 610h3M706 581h3M707 589h3M723 578h3M718 639h3M723 608h3M714 602h3M732 570h3M706 568h3M696 597h3M697 610h3M713 599h3M706 597h3M708 540h3M720 611h3M725 628h3M706 591h3M717 596h3M698 557h3M718 584h3M707 594h3M715 615h3M715 571h3M692 599h3M717 634h3M714 606h3M713 567h3M717 627h3M723 620h3M714 612h3M705 572h3M721 603h3M696 587h3M712 622h3M693 535h3M698 540h3M704 597h3M702 589h3M704 613h3M700 571h3M685 579h3M706 548h3M709 584h3M714 596h3M719 586h3M705 574h3M699 554h3M681 590h3M697 577h3M693 538h3M717 605h3M714 599h3M712 570h3M704 606h3M702 601h3M707 584h3M700 603h3M701 591h3M704 580h3M691 621h3M682 566h3M721 632h3M700 601h3M712 584h3M704 604h3M691 578h3M711 584h3M714 636h3M713 603h3M708 614h3M703 588h3M710 593h3M715 609h3M689 583h3M712 559h3M713 612h3M706 588h3M719 610h3M705 621h3M719 592h3M718 589h3M699 611h3M706 605h3M686 629h3M720 600h3M701 602h3M703 579h3M709 595h3M699 625h3M720 607h3M700 599h3M690 597h3M705 575h3M704 579h3M706 595h3M725 592h3M720 619h3M700 586h3M733 619h3M705 609h3M678 568h3M719 591h3M697 580h3M690 594h3M684 565h3M679 586h3M708 634h3M699 592h3M721 581h3M710 615h3M693 569h3M715 621h3M722 598h3M684 596h3M710 609h3M702 599h3M719 597h3M691 558h3M705 615h3M713 633h3M725 608h3M705 588h3M715 625h3M713 579h3M732 622h3M711 579h3M699 583h3M704 593h3M713 607h3M703 592h3M700 619h3M698 604h3M709 629h3M679 573h3M738 590h3M719 607h3M708 628h3M688 555h3M719 587h3M682 559h3M715 582h3M707 602h3M703 610h3M707 585h3M700 587h3M724 610h3M716 606h3M687 569h3M690 604h3M727 645h3M694 575h3M695 586h3M715 614h3M715 570h3M692 549h3M695 563h3M712 599h3M718 617h3M708 598h3M688 602h3M720 616h3M698 597h3M736 618h3M707 628h3M708 589h3M713 622h3M712 610h3M733 587h3M704 596h3M723 615h3M701 571h3M695 565h3M721 617h3M706 602h3M702 619h3M703 562h3M737 560h3M703 585h3M712 587h3M701 601h3M742 577h3M691 598h3M690 613h3M713 613h3M718 623h3M706 592h3M712 554h3M711 558h3M682 619h3M699 608h3M708 596h3M715 587h3M671 578h3M713 546h3M707 582h3M723 586h3M681 546h3M705 624h3M692 584h3M702 606h3M696 631h3M719 585h3M717 614h3M702 616h3M685 602h3M721 599h3M678 583h3M696 603h3M690 585h3M721 612h3M709 589h3M718 583h3M733 648h3M713 584h3M734 598h3M687 567h3M692 573h3M697 585h3M717 609h3M718 630h3M703 600h3M722 605h3M706 599h3M698 588h3M697 619h3M705 600h3M695 590h3M703 586h3M713 604h3M720 561h3M698 614h3M706 594h3M720 638h3M704 618h3M695 587h3M711 586h3M692 618h3M713 614h3M690 599h3M690 616h3M705 587h3M686 540h3M733 613h3M685 590h3M697 578h3M693 615h3M718 611h3M721 619h3M692 641h3M689 647h3M679 625h3M685 642h3M660 643h3M673 644h3M683 641h3M693 634h3M699 647h3M702 641h3M677 645h3M679 652h3M676 645h3M681 644h3M686 642h3M670 644h3M683 648h3M675 642h3M699 631h3M680 652h3M677 639h3M691 643h3M694 633h3M675 639h3M680 638h3M687 646h3M674 645h3M700 645h3M685 647h3M685 640h3M673 651h3M697 641h3M671 647h3M677 653h3M678 640h3M683 644h3M670 642h3M677 643h3M690 644h3M684 642h3M694 646h3M689 636h3M695 639h3M675 635h3M701 644h3M667 640h3M671 638h3M673 635h3M708 638h3M685 644h3M695 636h3M669 647h3M673 645h3M688 644h3M680 634h3M686 638h3M690 647h3M685 638h3M687 639h3M682 644h3M688 633h3M694 647h3M675 643h3M687 637h3M683 629h3M684 636h3M703 644h3M696 650h3M708 636h3M703 635h3M681 642h3M678 643h3M670 516h3M684 512h3M804 566h3M796 574h3M640 600h3M654 580h3" stroke="#000" stroke-width="3.0" fill="none"/></g>
<path d="M66 576.2L66 575.5L66.5 575.3L67 575.2L67.5 575L68 574.8L68.5 574.7L69 574.5L69.5 573.9L70 573.4L70.5 572.8L71 572.3L71.5 571.7L72 571.2L72.5 570.6L73 568.8L73.5 567.1L74 565.3L74.5 563.5L75 561.8L75.5 560L76 557.5L76.5 555L77 552.5L77.5 550L78 547.5L78.5 545L79 541.6L79.5 538.2L80 534.8L80.5 531.4L81 527.5L81.5 523.3L82 519.2L82.5 515L83 508.1L83.5 501.1L84 494.2L84.5 486.9L85 479.2L85.5 471.5L86 463.8L86.5 456.4L87 449.9L87.5 445.8L88 445.8L88.5 445.8L89 445.8L89.5 445.8L90 446.7L90.5 449.1L91 452.3L91.5 456.1L92 460L92.5 463.8L93 468.6L93.5 473.4L94 478.3L94.5 483.1L95 488.6L95.5 494.5L96 500.5L96.5 506.4L97 512.2L97.5 517.8L98 523.3L98.5 528.9L99 534.5L99.5 540.2L100 545.9L100.5 551L101 554.3L101.5 557.5L102 560.7L102.5 562.7L103 563.8L103.5 564.6L104 565.3L104.5 563.9L105 567.3L105.5 563.9L106 566.5L106.5 564.2L107 566.3L107.5 566.9L108 564L108.5 565.7L109 565.8L109.5 566.4L110 564.7L110.5 566.3L111 564.9L111.5 563.6L112 565.7L112.5 565.9L113 564.4L113.5 564.2L114 565.1L114.5 566L115 562.6L115.5 565.1L116 566.1L116.5 562.7L117 564.2L117.5 563.6L118 563.8L118.5 564.7L119 561.4L119.5 562.5L120 561.5L120.5 562.6L121 564.9L121.5 561.5L122 562.1L122.5 561.8L123 562.8L123.5 562L124 561.3L124.5 561.3L125 561.8L125.5 560.4L126 558.9L126.5 562.7L127 561.3L127.5 560.3L128 560.6L128.5 561.4L129 559.5L129.5 560.2L130 559.4L130.5 561.1L131 556.8L131.5 557.7L132 560.5L132.5 557.4L133 557.6L133.5 556.8L134 555.3L134.5 557.5L135 559.3L135.5 560.1L136 559.6L136.5 560.5L137 563.1L137.5 561.2L138 560.5L138.5 562.6L139 561.4L139.5 559.8L140 561L140.5 563.1L141 562L141.5 562.2L142 563.1L142.5 561.6L143 560.9L143.5 562.7L144 562.1L144.5 562.9L145 562.2L145.5 562.1L146 561.2L146.5 563L147 564.7L147.5 561.1L148 563.7L148.5 563L149 561.5L149.5 561L150 562.6L150.5 561.7L151 561.9L151.5 561.8L152 564.5L152.5 560.7L153 563.1L153.5 564.8L154 563L154.5 565.3L155 563L155.5 563.2L156 563.9L156.5 562.2L157 563L157.5 563.6L158 562.3L158.5 563.5L159 564.2L159.5 561.7L160 562.9L160.5 563.6L161 562.5L161.5 564.5L162 564.9L162.5 563L163 564L163.5 563.2L164 563.9L164.5 565L165 564.9L165.5 565.7L166 565.5L166.5 568.3L167 569.1L167.5 568.3L168 570.6L168.5 574.3L169 572.2L169.5 575.6L169.5 576.2Z" fill="#a8a8a8" stroke="#111" stroke-width="1.0"/><path d="M30.5 575.2L31 575.2L31.5 575.2L32 575.2L32.5 575.2L33 575.2L33.5 575.2L34 575.2L34.5 575.2L35 575.2L35.5 575.2L36 575.2L36.5 575.2L37 575.2L37.5 575.2L38 575.2L38.5 575.2L39 575.2L39.5 575.2L40 575.2L40.5 575.2L41 575.2L41.5 575.2L42 575.2L42.5 575.2L43 575.2L43.5 575.2L44 575.2L44.5 575.2L45 575.2L45.5 575.2L46 575.2L46.5 575.2L47 575.2L47.5 575.2L48 575.2L48.5 575.2L49 575.2L49.5 575.2L50 575.2L50.5 575.2L51 575.2L51.5 575.2L52 575.2L52.5 575.2L53 575.2L53.5 575.2L54 575.2L54.5 575.2L55 575.2L55.5 575.2L56 575.2L56.5 575.2L57 575.2L57.5 575.2L58 575.2L58.5 575.2L59 575.2L59.5 575.2L60 575.2L60.5 575.1L61 575L61.5 574.8L62 574.7L62.5 574.6L63 574.5L63.5 574.3L64 574.2L64.5 574L65 573.7L65.5 573.5L66 573.2L66.5 573L67 572.7L67.5 572.5L68 572L68.5 571.5L69 571.1L69.5 570.6L70 569.1L70.5 567.6L71 566L71.5 564.5L72 563L72.5 560.9L73 558.8L73.5 556.7L74 554.6L74.5 552.5L75 550.4L75.5 547L76 543.7L76.5 540.4L77 537L77.5 533.8L78 530.5L78.5 527.3L79 524.1L79.5 520.5L80 515.3L80.5 510.2L81 505L81.5 499.9L82 494.8L82.5 489.4L83 483.8L83.5 478.2L84 472.7L84.5 467.1L85 462.2L85.5 458.3L86 454.4L86.5 451L87 448.5L87.5 446L88 446L88.5 446L89 446L89.5 446L90 446L90.5 446L91 446L91.5 446.8L92 448.8L92.5 451.2L93 454L93.5 456.9L94 459.8L94.5 462.6L95 467.1L95.5 472.7L96 478.2L96.5 483.8L97 489.4L97.5 495.2L98 501.5L98.5 507.7L99 514L99.5 520.2L100 525.5L100.5 530.5L101 535.5L101.5 540.4L102 545.4L102.5 550.4L103 554.7L103.5 559L104 563.3L104.5 566.6L105 569.3L105.5 572L106 572.6L106.5 573.1L107 573.7L107.5 574.2L108 574.8L108.5 574.8L109 574.8L109.5 574.8L110 574.8L110.5 574.8L111 574.8L111.5 574.8L112 574.8L112.5 574.8L113 574.8L113.5 574.8L114 574.8L114.5 574.8L115 574.8L115.5 574.8L116 574.9L116.5 574.9L117 574.9L117.5 574.9L118 574.9L118.5 574.9L119 574.9L119.5 574.9L120 574.9L120.5 574.9L121 574.9L121.5 574.9L122 574.9L122.5 574.9L123 574.9L123.5 574.9L124 574.9L124.5 574.9L125 574.9L125.5 574.9L126 574.9L126.5 574.9L127 574.9L127.5 574.9L128 574.9L128.5 574.9L129 574.9L129.5 574.9L130 574.9L130.5 574.9L131 574.9L131.5 575L132 575L132.5 575L133 575L133.5 575L134 575L134.5 575L135 575L135.5 575L136 575L136.5 575L137 575L137.5 575L138 575L138.5 575L139 575L139.5 575L140 575L140.5 575L141 575L141.5 575L142 575L142.5 575L143 575L143.5 575L144 575L144.5 575L145 575L145.5 575L146 575L146.5 575L147 575.1L147.5 575.1L148 575.1L148.5 575.1L149 575.1L149.5 575.1L150 575.1L150.5 575.1L151 575.1L151.5 575.1L152 575.1L152.5 575.1L153 575.1L153.5 575.1L154 575.1L154.5 575.1L155 575.1L155.5 575.1L156 575.1L156.5 575.1L157 575.1L157.5 575.1L158 575.1L158.5 575.1L159 575.1L159.5 575.1L160 575.1L160.5 575.1L161 575.1L161.5 575.1L162 575.1L162.5 575.2L163 575.2L163.5 575.2L164 575.2L164.5 575.2L165 575.2L165.5 575.2L166 575.2L166.5 575.2L167 575.2L167.5 575.2L168 575.2L168.5 575.2L169 575.2L169.5 575.2L170 575.2" fill="none" stroke="#000" stroke-width="2" stroke-linejoin="round"/><path d="M225 576L225 576L225.5 575.4L226 575.9L226.5 574.4L227 576L227.5 575.8L228 575.8L228.5 575.5L229 575.9L229.5 575.9L230 575.7L230.5 575.2L231 575.2L231.5 575.3L232 575.2L232.5 574.9L233 574.6L233.5 575.2L234 574.8L234.5 575L235 574.5L235.5 574.5L236 574.9L236.5 575L237 576L237.5 575.1L238 575.6L238.5 575.3L239 575.2L239.5 574.9L240 575.3L240.5 575.1L241 573.9L241.5 574.8L242 574.1L242.5 573.2L243 573.4L243.5 574L244 573.9L244.5 573.2L245 573.6L245.5 573.4L246 572.1L246.5 572.3L247 573L247.5 572.3L248 572.4L248.5 572.8L249 572.5L249.5 572.2L250 571.8L250.5 573.5L251 571.7L251.5 572.2L252 572.9L252.5 572.3L253 571.8L253.5 571.7L254 572.8L254.5 572.5L255 571.1L255.5 571.4L256 572.3L256.5 572.9L257 571.9L257.5 572.7L258 571.5L258.5 571.6L259 571.9L259.5 572.9L260 572.8L260.5 573.1L261 572L261.5 573.8L262 572.8L262.5 574.3L263 573.1L263.5 572L264 572.8L264.5 572.4L265 573.5L265.5 572.8L266 573.3L266.5 572.2L267 572.2L267.5 572.6L268 572.6L268.5 572.2L269 573.1L269.5 573.6L270 573L270.5 573.1L271 573.3L271.5 574L272 573.8L272.5 574.2L273 574.7L273.5 574.2L274 574.4L274.5 574.4L275 575.3L275.5 574.6L276 574.7L276.5 574.6L277 575.2L277.5 575L278 574.3L278.5 575.4L279 575.1L279.5 575.6L280 575.3L280.5 574.9L281 574.4L281.5 575.3L282 575.4L282.5 574.2L283 574.6L283.5 574.8L284 574.4L284.5 574.6L285 574.2L285.5 574L286 574.9L286.5 573.3L287 574.5L287.5 573.7L288 574L288.5 573.6L289 574L289.5 573.5L290 573.9L290.5 573L291 573.1L291.5 573.5L292 573.8L292.5 573.1L293 574.6L293.5 573.4L294 574.1L294.5 572.8L295 573.2L295.5 573.3L296 573.2L296.5 573.1L297 573.7L297.5 573.5L298 574.8L298.5 573.9L299 573.9L299.5 572.6L300 574.4L300.5 574.3L301 572.8L301.5 572.8L302 572.8L302.5 573.8L303 572.3L303.5 572.4L304 572.1L304.5 573L305 573.2L305.5 572.3L306 573.3L306.5 572.7L307 572.2L307.5 572.8L308 573.1L308.5 573.1L309 572.6L309.5 572.9L310 572.2L310.5 572.2L311 572.9L311.5 571.5L312 571.1L312.5 570.7L313 570.3L313.5 569L314 566.5L314.5 564L315 561.5L315.5 559L316 556.5L316.5 553.2L317 549.8L317.5 546.3L318 542.9L318.5 539.4L319 536L319.5 528.5L320 521.1L320.5 513.6L321 506.1L321.5 498.7L322 491.4L322.5 485.2L323 478.9L323.5 472.6L324 466.3L324.5 460.2L325 454.1L325.5 448L326 446.2L326.5 445.8L327 447.2L327.5 451.2L328 459.1L328.5 467.6L329 476.9L329.5 486.3L330 495.7L330.5 505.1L331 512.4L331.5 519.1L332 525.8L332.5 532.5L333 539.2L333.5 545.5L334 550L334.5 554.5L335 558.9L335.5 563.4L336 567.9L336.5 571.3L337 572.9L337.5 574.5L337.5 576Z" fill="#a8a8a8" stroke="#111" stroke-width="1.0"/><path d="M199.5 575.2L200 575.2L200.5 575.2L201 575.2L201.5 575.2L202 575.2L202.5 575.2L203 575.2L203.5 575.2L204 575.2L204.5 575.2L205 575.2L205.5 575.2L206 575.2L206.5 575.2L207 575.2L207.5 575.2L208 575.2L208.5 575.2L209 575.2L209.5 575.2L210 575.2L210.5 575.2L211 575.2L211.5 575.2L212 575.2L212.5 575.2L213 575.2L213.5 575.2L214 575.2L214.5 575.2L215 575.2L215.5 575.2L216 575.2L216.5 575.2L217 575.2L217.5 575.2L218 575.2L218.5 575.2L219 575.2L219.5 575.2L220 575.2L220.5 575.2L221 575.2L221.5 575.2L222 575.2L222.5 575.2L223 575.2L223.5 575.2L224 575.2L224.5 575.2L225 575.2L225.5 575.2L226 575.1L226.5 575L227 575L227.5 575L228 574.9L228.5 574.8L229 574.8L229.5 574.7L230 574.7L230.5 574.6L231 574.5L231.5 574.2L232 573.5L232.5 572.9L233 572.2L233.5 571.5L234 570.8L234.5 570.1L235 569.3L235.5 568.1L236 566.8L236.5 565.5L237 564.3L237.5 563L238 561.6L238.5 560.1L239 558.7L239.5 557.3L240 555.9L240.5 554L241 551.6L241.5 549.2L242 546.7L242.5 544.3L243 541.9L243.5 539.4L244 537L244.5 533.1L245 529.3L245.5 525.4L246 521.6L246.5 517.7L247 513.7L247.5 509.6L248 505.4L248.5 501.3L249 497.1L249.5 493.2L250 490.1L250.5 487L251 483.9L251.5 480.8L252 477.7L252.5 474.9L253 472.8L253.5 470.6L254 468.5L254.5 466.4L255 464.3L255.5 462.3L256 460.2L256.5 458.1L257 456.2L257.5 454.3L258 452.5L258.5 450.6L259 448.8L259.5 446.9L260 446.2L260.5 445.5L261 445.4L261.5 446L262 447.5L262.5 449L263 450.5L263.5 454.7L264 458.8L264.5 463L265 467.1L265.5 471.3L266 476.7L266.5 482.5L267 488.3L267.5 494.1L268 499.8L268.5 506.3L269 512.8L269.5 519.4L270 526L270.5 532.7L271 539.7L271.5 546.7L272 553.7L272.5 558.3L273 562.4L273.5 566.4L274 569.8L274.5 570.9L275 572L275.5 573.1L276 574.1L276.5 575L277 575L277.5 575L278 575L278.5 575L279 575L279.5 575L280 575L280.5 575.1L281 575.1L281.5 575.1L282 575.1L282.5 575.1L283 575.1L283.5 575.1L284 575.1L284.5 575.1L285 575.1L285.5 575.1L286 575.1L286.5 575.1L287 575.1L287.5 575.1L288 575.1L288.5 575.2L289 575.2L289.5 575.2L290 575.2L290.5 575.2L291 575.2L291.5 575.2L292 575.2L292.5 575.2L293 575.2L293.5 575.2L294 575.2L294.5 575.2L295 575.2L295.5 575.2L296 575.2L296.5 575.3L297 575.3L297.5 575.3L298 575.3L298.5 575.3L299 575.3L299.5 575.3L300 575.3L300.5 575.3L301 575.3L301.5 575.3L302 575.3L302.5 575.3L303 575.3L303.5 575.3L304 575.3L304.5 575.3L305 575.3L305.5 575.3L306 575.3L306.5 575.3L307 575.3L307.5 575.3L308 575.3L308.5 575.3L309 575.3L309.5 575.3L310 575.3L310.5 575.3L311 575.3L311.5 575.3L312 575.3L312.5 575.3L313 575.3L313.5 575.3L314 575.3L314.5 575.3L315 575.3L315.5 575.3L316 575.3L316.5 575.3L317 575.3L317.5 575.3L318 575.3L318.5 575.3L319 575.3L319.5 575.3L320 575.3L320.5 575.3L321 575.3L321.5 575.3L322 575.3L322.5 575.3L323 575.3L323.5 575.3L324 575.3L324.5 575.3L325 575.3L325.5 575.3L326 575.3L326.5 575.3L327 575.3L327.5 575.3L328 575.3L328.5 575.3L329 575.3L329.5 575.3L330 575.3L330.5 575.3L331 575.3L331.5 575.3L332 575.3L332.5 575.3L333 575.3L333.5 575.3L334 575.3L334.5 575.3L335 575.3L335.5 575.3L336 575.3L336.5 575.3L337 575.3L337.5 575.3L338 575.3" fill="none" stroke="#000" stroke-width="2" stroke-linejoin="round"/><path d="M371.5 576.3L371.5 576L372.3 574.9L373.1 572.1L373.9 570.8L374.7 569.1L375.5 571.8L376.3 568L377.1 567L377.9 565.1L378.7 561.2L379.5 559.3L380.3 558.4L381.1 561.1L381.9 555.5L382.7 554.9L383.5 550.6L384.3 554.1L385.1 549.2L385.9 545.8L386.7 546.7L387.5 547.1L388.3 547.4L389.1 544.3L389.9 543.8L390.7 541.1L391.5 538.9L392.3 535.9L393.1 534.7L393.9 533.3L394.7 529.2L395.5 526.3L396.3 528.6L397.1 523L397.9 520.6L398.7 515L399.5 516.4L400.3 510L401.1 511.8L401.9 508.1L402.7 504.5L403.5 501.8L404.3 500.8L405.1 497.5L405.9 493.2L406.7 495.4L407.5 489.4L408.3 489.5L409.1 487L409.9 488.1L410.7 481.6L411.5 483.8L412.3 481.4L413.1 474.7L413.9 475.3L414.7 474.8L415.5 472.6L416.3 472.9L417.1 471.9L417.9 471L418.7 466.7L419.5 467L420.3 464.3L421.1 463.8L421.9 461.4L422.7 459.9L423.5 457.8L424.3 457.5L425.1 455L425.9 450.8L426.7 449.8L427.5 456.2L428.3 458.6L429.1 461.3L429.9 470.3L430.7 476.5L431.5 484.5L432.3 492.8L433.1 504.1L433.9 513.7L434.7 516.2L435.5 520.8L436.3 528.5L437.1 532.9L437.9 535.6L438.7 535.6L439.5 541.4L440.3 545L441.1 547.8L441.9 551L442.7 552L443.5 553.1L444.3 551.7L445.1 550.5L445.9 552.2L446.7 548.3L447.5 547.7L448.3 546L449.1 541L449.9 540L450.7 536.9L451.5 535.8L452.3 532.7L453.1 534.2L453.9 531.3L454.7 527.9L455.5 528.8L456.3 525.3L457.1 523.6L457.9 525.3L458.7 523.6L459.5 521.4L460.3 522.5L461.1 520.7L461.9 519L462.7 518.9L463.5 516.5L464.3 516.6L465.1 514L465.9 512.8L466.7 506.8L467.5 509.3L468.3 511.1L469.1 505.8L469.9 504.8L470.7 501.3L471.5 494.6L472.3 493.7L473.1 484.7L473.9 473.5L474.7 466.3L475.5 461.9L476.3 459.3L477.1 458.5L477.9 454.8L478.7 454.1L479.5 451.6L480.3 447.8L481.1 450.6L481.9 457.1L482.7 461.7L483.5 466.4L484.3 478.6L485.1 486.4L485.9 495.8L486.7 505.4L487.5 515.5L488.3 522.5L489.1 537.7L489.9 546.4L490.7 548.9L491.5 552.9L492.3 559.6L493.1 560.1L493.9 565L494.7 572.5L494.7 576.3Z" fill="#a8a8a8" stroke="#111" stroke-width="1.1"/><path d="M372 570.1L372.9 573.6L373.8 566L374.7 563.9L375.6 560.8L376.5 560.3L377.4 558L378.3 557L379.2 554.1L380.1 550.2L381 554.2L381.9 551.7L382.8 549.7L383.7 547.8L384.6 546.4L385.5 542.7L386.4 547L387.3 539.9L388.2 537.3L389.1 541L390 535.6L390.9 533.8L391.8 529.7L392.7 528.4L393.6 527.1L394.5 524.4L395.4 519.4L396.3 520.1L397.2 515.1L398.1 511.3L399 512.8L399.9 509.4L400.8 506L401.7 502.7L402.6 502.9L403.5 499L404.4 496.1L405.3 495.9L406.2 493.4L407.1 489.2L408 491.3L408.9 484.8L409.8 484.4L410.7 484.1L411.6 480.6L412.5 479.3L413.4 476.2L414.3 468.7L415.2 472.1L416.1 466.9L417 465.3L417.9 461.7L418.8 458.8L419.7 459.2L420.6 456.6L421.5 453.8L422.4 450.6L423.3 452.4L424.2 449.2L425.1 447.8L426 447L426.9 448.3L427.8 449.7L428.7 455.6L429.6 462.9L430.5 471.2L431.4 479.5L432.3 488L433.2 497L434.1 506L435 515.6L435.9 525.7L436.8 535.8L437.7 545.7L438.6 555.6L439.5 562.5L440.4 567L441.3 570.4L442.2 571.6L443.1 572.8L444 574" fill="none" stroke="#000" stroke-width="0.9"/><path d="M371 559L371.9 556.1L372.8 556L373.7 550.8L374.6 553.2L375.5 548.8L376.4 546.9L377.3 545.8L378.2 545.1L379.1 543.6L380 537.7L380.9 538.1L381.8 537.8L382.7 535.9L383.6 533.3L384.5 529.7L385.4 530.2L386.3 527.6L387.2 526.3L388.1 526.2L389 520.7L389.9 518.1L390.8 517.1L391.7 513.8L392.6 507.6L393.5 505.3L394.4 502L395.3 505.1L396.2 501.5L397.1 499.7L398 499.2L398.9 496.3L399.8 497L400.7 492.5L401.6 493.2L402.5 490.1L403.4 487.4L404.3 486.5L405.2 483.3L406.1 481.8L407 481.9L407.9 478.6L408.8 472.8L409.7 470.7L410.6 462.8L411.5 462.4L412.4 460.4L413.3 457.8L414.2 457.6L415.1 457.2L416 451.5L416.9 448.9L417.8 445.7L418.7 446L419.6 446.7L420.5 446.6L421.4 446L422.3 445.8L423.2 446.7L424.1 447.4L425 446.5L425.9 445.6L426.8 445.9L427.7 446.3L428.6 447.7L429.5 452.1L430.4 463L431.3 472.5L432.2 479L433.1 486L434 499.6L434.9 508.5L435.8 519.5L436.7 528.5L437.6 542.9L438.5 554.2L439.4 564.3L440.3 563.7L441.2 568.4L442.1 570.2L443 572L443.9 572.6L444.8 573.1L445.7 573.7L446.6 574.2L447.5 574.5L448.4 574.6L449.3 574.7L450.2 574.8L451.1 574.9L452 575L452.9 575L453.8 575L454.7 575L455.6 575L456.5 575L457.4 575.1L458.3 575.1L459.2 575.1L460.1 575.1L461 575.1L461.9 575.1L462.8 575.1L463.7 575.1L464.6 575.1L465.5 575.1L466.4 575.2L467.3 575.2L468.2 575.2L469.1 575.2L470 575.2L470.9 575.2L471.8 575.2L472.7 575.2L473.6 575.2L474.5 575.2L475.4 575.2L476.3 575.2L477.2 575.2L478.1 575.2L479 575.2L479.9 575.2L480.8 575.2L481.7 575.2L482.6 575.2L483.5 575.2L484.4 575.2L485.3 575.2L486.2 575.2L487.1 575.2L488 575.2L488.9 575.2L489.8 575.3L490.7 575.3L491.6 575.3L492.5 575.3L493.4 575.3L494.3 575.3L495.2 575.3L496.1 575.3L497 575.3L497.9 575.3L498.8 575.3L499.7 575.3L500.6 575.3L501.5 575.3L502.4 575.3L503.3 575.3L504.2 575.3L505.1 575.3L506 575.3L506.9 575.3L507.8 575.3" fill="none" stroke="#000" stroke-width="2.1" stroke-linejoin="round"/>
<g fill="none" stroke="#000" stroke-width="1.4"><rect x="171.9" y="39.2" width="46.5" height="76.2"/><rect x="342.9" y="38.9" width="47.4" height="76.5"/><rect x="171.4" y="264.8" width="45.6" height="59"/><rect x="341.4" y="263.5" width="46.2" height="59.4"/></g>
<path d="M107.2 520.6H169.2M107.2 512.4V529.8M169.2 512.4V529.8" stroke="#000" stroke-width="1.3" fill="none"/><path d="M276.5 520.2H338.0M276.5 511.5V528.8M338.0 511.5V528.8" stroke="#000" stroke-width="1.3" fill="none"/><path d="M438.2 523.0H509.3M438.2 514.0V532.0M509.3 514.0V532.0" stroke="#000" stroke-width="1.3" fill="none"/>
<g fill="none" stroke="#000" stroke-width="1.5"><rect x="111.6" y="35" width="140.7" height="132.6"/><rect x="283.6" y="34.8" width="140.2" height="132.7"/><rect x="113.8" y="241" width="138.2" height="132.2"/><rect x="284.6" y="239.5" width="138.6" height="132.3"/><rect x="30.3" y="444.3" width="139.7" height="131.9"/><rect x="199" y="443.8" width="140.3" height="132.2"/><rect x="371.2" y="444.5" width="140" height="131.8"/></g>
<path d="M111.6 167.6v4.4M122.2 167.6v2.4M128.4 167.6v2.4M132.8 167.6v2.4M136.2 167.6v2.4M139 167.6v2.4M141.3 167.6v2.4M143.4 167.6v2.4M145.2 167.6v2.4M146.8 167.6v4.4M157.4 167.6v2.4M163.6 167.6v2.4M168 167.6v2.4M171.4 167.6v2.4M174.1 167.6v2.4M176.5 167.6v2.4M178.5 167.6v2.4M180.3 167.6v2.4M181.9 167.6v4.4M192.5 167.6v2.4M198.7 167.6v2.4M203.1 167.6v2.4M206.5 167.6v2.4M209.3 167.6v2.4M211.7 167.6v2.4M213.7 167.6v2.4M215.5 167.6v2.4M217.1 167.6v4.4M227.7 167.6v2.4M233.9 167.6v2.4M238.3 167.6v2.4M241.7 167.6v2.4M244.5 167.6v2.4M246.9 167.6v2.4M248.9 167.6v2.4M250.7 167.6v2.4M252.3 167.6v4M111.6 166.6h-4.4M111.6 161.5h-2.2M111.6 156.4h-2.2M111.6 151.4h-2.2M111.6 146.3h-2.2M111.6 141.2h-4.4M111.6 136.1h-2.2M111.6 131h-2.2M111.6 126h-2.2M111.6 120.9h-2.2M111.6 115.8h-4.4M111.6 110.7h-2.2M111.6 105.6h-2.2M111.6 100.6h-2.2M111.6 95.5h-2.2M111.6 90.4h-4.4M111.6 85.3h-2.2M111.6 80.2h-2.2M111.6 75.2h-2.2M111.6 70.1h-2.2M111.6 65h-4.4M111.6 59.9h-2.2M111.6 54.8h-2.2M111.6 49.8h-2.2M111.6 44.7h-2.2M111.6 39.6h-4.4M111.6 34.5h-2.2M283.6 167.5v4.4M294.2 167.5v2.4M300.3 167.5v2.4M304.7 167.5v2.4M308.1 167.5v2.4M310.9 167.5v2.4M313.2 167.5v2.4M315.3 167.5v2.4M317 167.5v2.4M318.7 167.5v4.4M329.2 167.5v2.4M335.4 167.5v2.4M339.8 167.5v2.4M343.1 167.5v2.4M345.9 167.5v2.4M348.3 167.5v2.4M350.3 167.5v2.4M352.1 167.5v2.4M353.7 167.5v4.4M364.3 167.5v2.4M370.4 167.5v2.4M374.8 167.5v2.4M378.2 167.5v2.4M381 167.5v2.4M383.3 167.5v2.4M385.4 167.5v2.4M387.1 167.5v2.4M388.8 167.5v4.4M399.3 167.5v2.4M405.5 167.5v2.4M409.9 167.5v2.4M413.2 167.5v2.4M416 167.5v2.4M418.4 167.5v2.4M420.4 167.5v2.4M422.2 167.5v2.4M423.8 167.5v4M283.6 166.5h-4.4M283.6 161.4h-2.2M283.6 156.3h-2.2M283.6 151.3h-2.2M283.6 146.2h-2.2M283.6 141.1h-4.4M283.6 136h-2.2M283.6 130.9h-2.2M283.6 125.9h-2.2M283.6 120.8h-2.2M283.6 115.7h-4.4M283.6 110.6h-2.2M283.6 105.5h-2.2M283.6 100.5h-2.2M283.6 95.4h-2.2M283.6 90.3h-4.4M283.6 85.2h-2.2M283.6 80.1h-2.2M283.6 75.1h-2.2M283.6 70h-2.2M283.6 64.9h-4.4M283.6 59.8h-2.2M283.6 54.7h-2.2M283.6 49.7h-2.2M283.6 44.6h-2.2M283.6 39.5h-4.4M283.6 34.4h-2.2M113.8 373.2v4.4M124.2 373.2v2.4M130.3 373.2v2.4M134.6 373.2v2.4M137.9 373.2v2.4M140.7 373.2v2.4M143 373.2v2.4M145 373.2v2.4M146.8 373.2v2.4M148.3 373.2v4.4M158.8 373.2v2.4M164.8 373.2v2.4M169.2 373.2v2.4M172.5 373.2v2.4M175.2 373.2v2.4M177.5 373.2v2.4M179.6 373.2v2.4M181.3 373.2v2.4M182.9 373.2v4.4M193.3 373.2v2.4M199.4 373.2v2.4M203.7 373.2v2.4M207 373.2v2.4M209.8 373.2v2.4M212.1 373.2v2.4M214.1 373.2v2.4M215.9 373.2v2.4M217.4 373.2v4.4M227.9 373.2v2.4M233.9 373.2v2.4M238.3 373.2v2.4M241.6 373.2v2.4M244.3 373.2v2.4M246.6 373.2v2.4M248.7 373.2v2.4M250.4 373.2v2.4M252 373.2v4M113.8 373.2h-4.4M113.8 363.3h-2.4M113.8 357.4h-2.4M113.8 353.3h-2.4M113.8 350.1h-2.4M113.8 347.5h-2.4M113.8 345.3h-2.4M113.8 343.4h-2.4M113.8 341.7h-2.4M113.8 340.1h-4.4M113.8 330.2h-2.4M113.8 324.4h-2.4M113.8 320.3h-2.4M113.8 317h-2.4M113.8 314.4h-2.4M113.8 312.2h-2.4M113.8 310.3h-2.4M113.8 308.6h-2.4M113.8 307.1h-4.4M113.8 297.2h-2.4M113.8 291.3h-2.4M113.8 287.2h-2.4M113.8 284h-2.4M113.8 281.4h-2.4M113.8 279.2h-2.4M113.8 277.3h-2.4M113.8 275.6h-2.4M113.8 274.1h-4.4M113.8 264.1h-2.4M113.8 258.3h-2.4M113.8 254.2h-2.4M113.8 250.9h-2.4M113.8 248.3h-2.4M113.8 246.1h-2.4M113.8 244.2h-2.4M113.8 242.5h-2.4M113.8 241h-4M284.6 371.8v4.4M295 371.8v2.4M301.1 371.8v2.4M305.5 371.8v2.4M308.8 371.8v2.4M311.6 371.8v2.4M313.9 371.8v2.4M315.9 371.8v2.4M317.7 371.8v2.4M319.2 371.8v4.4M329.7 371.8v2.4M335.8 371.8v2.4M340.1 371.8v2.4M343.5 371.8v2.4M346.2 371.8v2.4M348.5 371.8v2.4M350.5 371.8v2.4M352.3 371.8v2.4M353.9 371.8v4.4M364.3 371.8v2.4M370.4 371.8v2.4M374.8 371.8v2.4M378.1 371.8v2.4M380.9 371.8v2.4M383.2 371.8v2.4M385.2 371.8v2.4M387 371.8v2.4M388.6 371.8v4.4M399 371.8v2.4M405.1 371.8v2.4M409.4 371.8v2.4M412.8 371.8v2.4M415.5 371.8v2.4M417.8 371.8v2.4M419.8 371.8v2.4M421.6 371.8v2.4M423.2 371.8v4M284.6 371.8h-4.4M284.6 361.8h-2.4M284.6 356h-2.4M284.6 351.9h-2.4M284.6 348.7h-2.4M284.6 346.1h-2.4M284.6 343.8h-2.4M284.6 341.9h-2.4M284.6 340.2h-2.4M284.6 338.7h-4.4M284.6 328.8h-2.4M284.6 322.9h-2.4M284.6 318.8h-2.4M284.6 315.6h-2.4M284.6 313h-2.4M284.6 310.8h-2.4M284.6 308.9h-2.4M284.6 307.2h-2.4M284.6 305.6h-4.4M284.6 295.7h-2.4M284.6 289.9h-2.4M284.6 285.7h-2.4M284.6 282.5h-2.4M284.6 279.9h-2.4M284.6 277.7h-2.4M284.6 275.8h-2.4M284.6 274.1h-2.4M284.6 272.6h-4.4M284.6 262.6h-2.4M284.6 256.8h-2.4M284.6 252.7h-2.4M284.6 249.5h-2.4M284.6 246.8h-2.4M284.6 244.6h-2.4M284.6 242.7h-2.4M284.6 241h-2.4M284.6 239.5h-4M30.3 576.2v4.4M40.8 576.2v2.4M47 576.2v2.4M51.3 576.2v2.4M54.7 576.2v2.4M57.5 576.2v2.4M59.8 576.2v2.4M61.8 576.2v2.4M63.6 576.2v2.4M65.2 576.2v4.4M75.7 576.2v2.4M81.9 576.2v2.4M86.3 576.2v2.4M89.6 576.2v2.4M92.4 576.2v2.4M94.7 576.2v2.4M96.8 576.2v2.4M98.6 576.2v2.4M100.1 576.2v4.4M110.7 576.2v2.4M116.8 576.2v2.4M121.2 576.2v2.4M124.6 576.2v2.4M127.3 576.2v2.4M129.7 576.2v2.4M131.7 576.2v2.4M133.5 576.2v2.4M135.1 576.2v4.4M145.6 576.2v2.4M151.7 576.2v2.4M156.1 576.2v2.4M159.5 576.2v2.4M162.3 576.2v2.4M164.6 576.2v2.4M166.6 576.2v2.4M168.4 576.2v2.4M170 576.2v4M30.3 576.5h-4.4M30.3 571.5h-2.2M30.3 566.6h-2.2M30.3 561.6h-2.2M30.3 556.7h-2.2M30.3 551.7h-4.4M30.3 546.7h-2.2M30.3 541.8h-2.2M30.3 536.8h-2.2M30.3 531.9h-2.2M30.3 526.9h-4.4M30.3 521.9h-2.2M30.3 517h-2.2M30.3 512h-2.2M30.3 507.1h-2.2M30.3 502.1h-4.4M30.3 497.1h-2.2M30.3 492.2h-2.2M30.3 487.2h-2.2M30.3 482.3h-2.2M30.3 477.3h-4.4M30.3 472.3h-2.2M30.3 467.4h-2.2M30.3 462.4h-2.2M30.3 457.5h-2.2M30.3 452.5h-4.4M30.3 447.5h-2.2M199 576v4.4M209.6 576v2.4M215.7 576v2.4M220.1 576v2.4M223.5 576v2.4M226.3 576v2.4M228.6 576v2.4M230.7 576v2.4M232.5 576v2.4M234.1 576v4.4M244.6 576v2.4M250.8 576v2.4M255.2 576v2.4M258.6 576v2.4M261.4 576v2.4M263.7 576v2.4M265.8 576v2.4M267.5 576v2.4M269.1 576v4.4M279.7 576v2.4M285.9 576v2.4M290.3 576v2.4M293.7 576v2.4M296.4 576v2.4M298.8 576v2.4M300.8 576v2.4M302.6 576v2.4M304.2 576v4.4M314.8 576v2.4M321 576v2.4M325.3 576v2.4M328.7 576v2.4M331.5 576v2.4M333.9 576v2.4M335.9 576v2.4M337.7 576v2.4M339.3 576v4M199 576.3h-4.4M199 571.3h-2.2M199 566.4h-2.2M199 561.4h-2.2M199 556.5h-2.2M199 551.5h-4.4M199 546.5h-2.2M199 541.6h-2.2M199 536.6h-2.2M199 531.7h-2.2M199 526.7h-4.4M199 521.7h-2.2M199 516.8h-2.2M199 511.8h-2.2M199 506.9h-2.2M199 501.9h-4.4M199 496.9h-2.2M199 492h-2.2M199 487h-2.2M199 482.1h-2.2M199 477.1h-4.4M199 472.1h-2.2M199 467.2h-2.2M199 462.2h-2.2M199 457.3h-2.2M199 452.3h-4.4M199 447.3h-2.2M371.2 576.3v4.4M381.7 576.3v2.4M387.9 576.3v2.4M392.3 576.3v2.4M395.7 576.3v2.4M398.4 576.3v2.4M400.8 576.3v2.4M402.8 576.3v2.4M404.6 576.3v2.4M406.2 576.3v4.4M416.7 576.3v2.4M422.9 576.3v2.4M427.3 576.3v2.4M430.7 576.3v2.4M433.4 576.3v2.4M435.8 576.3v2.4M437.8 576.3v2.4M439.6 576.3v2.4M441.2 576.3v4.4M451.7 576.3v2.4M457.9 576.3v2.4M462.3 576.3v2.4M465.7 576.3v2.4M468.4 576.3v2.4M470.8 576.3v2.4M472.8 576.3v2.4M474.6 576.3v2.4M476.2 576.3v4.4M486.7 576.3v2.4M492.9 576.3v2.4M497.3 576.3v2.4M500.7 576.3v2.4M503.4 576.3v2.4M505.8 576.3v2.4M507.8 576.3v2.4M509.6 576.3v2.4M511.2 576.3v4M371.2 575.7h-4.4M371.2 570.6h-2.2M371.2 565.4h-2.2M371.2 560.3h-2.2M371.2 555.2h-2.2M371.2 550h-4.4M371.2 544.9h-2.2M371.2 539.7h-2.2M371.2 534.6h-2.2M371.2 529.5h-2.2M371.2 524.3h-4.4M371.2 519.2h-2.2M371.2 514.1h-2.2M371.2 508.9h-2.2M371.2 503.8h-2.2M371.2 498.7h-4.4M371.2 493.5h-2.2M371.2 488.4h-2.2M371.2 483.3h-2.2M371.2 478.1h-2.2M371.2 473h-4.4M371.2 467.8h-2.2M371.2 462.7h-2.2M371.2 457.6h-2.2M371.2 452.4h-2.2M371.2 447.3h-4.4" stroke="#000" stroke-width="1.1" fill="none"/>
<g fill="#000"><text class="tl" transform="translate(114.9,183.8) scale(0.95,1)" text-anchor="end" font-size="10.0">10</text><text class="tl" transform="translate(114.5,177.6) scale(0.95,1)" font-size="8.8">0</text><text class="tl" transform="translate(150.1,183.8) scale(0.95,1)" text-anchor="end" font-size="10.0">10</text><text class="tl" transform="translate(149.7,177.6) scale(0.95,1)" font-size="8.8">1</text><text class="tl" transform="translate(185.2,183.8) scale(0.95,1)" text-anchor="end" font-size="10.0">10</text><text class="tl" transform="translate(184.8,177.6) scale(0.95,1)" font-size="8.8">2</text><text class="tl" transform="translate(220.4,183.8) scale(0.95,1)" text-anchor="end" font-size="10.0">10</text><text class="tl" transform="translate(220,177.6) scale(0.95,1)" font-size="8.8">3</text><text class="tl" transform="translate(255.6,183.8) scale(0.95,1)" text-anchor="end" font-size="10.0">10</text><text class="tl" transform="translate(255.2,177.6) scale(0.95,1)" font-size="8.8">4</text><text class="tl" transform="translate(104.2,166.6) rotate(-90) scale(0.95,1)" text-anchor="middle" font-size="10.0">0</text><text class="tl" transform="translate(104.2,141.2) rotate(-90) scale(0.95,1)" text-anchor="middle" font-size="10.0">200</text><text class="tl" transform="translate(104.2,115.8) rotate(-90) scale(0.95,1)" text-anchor="middle" font-size="10.0">400</text><text class="tl" transform="translate(104.2,90.4) rotate(-90) scale(0.95,1)" text-anchor="middle" font-size="10.0">600</text><text class="tl" transform="translate(104.2,65) rotate(-90) scale(0.95,1)" text-anchor="middle" font-size="10.0">800</text><text class="tl" transform="translate(104.2,39.6) rotate(-90) scale(0.95,1)" text-anchor="middle" font-size="10.0">1000</text><text class="tl" transform="translate(285.6,182.9) scale(0.95,1)" text-anchor="end" font-size="10.0">10</text><text class="tl" transform="translate(285.2,176.7) scale(0.95,1)" font-size="8.8">0</text><text class="tl" transform="translate(320.7,182.9) scale(0.95,1)" text-anchor="end" font-size="10.0">10</text><text class="tl" transform="translate(320.3,176.7) scale(0.95,1)" font-size="8.8">1</text><text class="tl" transform="translate(355.7,182.9) scale(0.95,1)" text-anchor="end" font-size="10.0">10</text><text class="tl" transform="translate(355.3,176.7) scale(0.95,1)" font-size="8.8">2</text><text class="tl" transform="translate(390.8,182.9) scale(0.95,1)" text-anchor="end" font-size="10.0">10</text><text class="tl" transform="translate(390.4,176.7) scale(0.95,1)" font-size="8.8">3</text><text class="tl" transform="translate(425.8,182.9) scale(0.95,1)" text-anchor="end" font-size="10.0">10</text><text class="tl" transform="translate(425.4,176.7) scale(0.95,1)" font-size="8.8">4</text><text class="tl" transform="translate(276.2,166.5) rotate(-90) scale(0.95,1)" text-anchor="middle" font-size="10.0">0</text><text class="tl" transform="translate(276.2,141.1) rotate(-90) scale(0.95,1)" text-anchor="middle" font-size="10.0">200</text><text class="tl" transform="translate(276.2,115.7) rotate(-90) scale(0.95,1)" text-anchor="middle" font-size="10.0">400</text><text class="tl" transform="translate(276.2,90.3) rotate(-90) scale(0.95,1)" text-anchor="middle" font-size="10.0">600</text><text class="tl" transform="translate(276.2,64.9) rotate(-90) scale(0.95,1)" text-anchor="middle" font-size="10.0">800</text><text class="tl" transform="translate(276.2,39.5) rotate(-90) scale(0.95,1)" text-anchor="middle" font-size="10.0">1000</text><text class="tl" transform="translate(117.1,388.7) scale(0.95,1)" text-anchor="end" font-size="10.0">10</text><text class="tl" transform="translate(116.7,382.5) scale(0.95,1)" font-size="8.8">0</text><text class="tl" transform="translate(151.7,388.7) scale(0.95,1)" text-anchor="end" font-size="10.0">10</text><text class="tl" transform="translate(151.2,382.5) scale(0.95,1)" font-size="8.8">1</text><text class="tl" transform="translate(186.2,388.7) scale(0.95,1)" text-anchor="end" font-size="10.0">10</text><text class="tl" transform="translate(185.8,382.5) scale(0.95,1)" font-size="8.8">2</text><text class="tl" transform="translate(220.8,388.7) scale(0.95,1)" text-anchor="end" font-size="10.0">10</text><text class="tl" transform="translate(220.3,382.5) scale(0.95,1)" font-size="8.8">3</text><text class="tl" transform="translate(255.3,388.7) scale(0.95,1)" text-anchor="end" font-size="10.0">10</text><text class="tl" transform="translate(254.9,382.5) scale(0.95,1)" font-size="8.8">4</text><text class="tl" transform="translate(106.4,370.2) rotate(-90) scale(0.95,1)" text-anchor="end" font-size="10.0">10</text><text class="tl" transform="translate(100.2,370) rotate(-90) scale(0.95,1)" font-size="8.8">0</text><text class="tl" transform="translate(106.4,337.1) rotate(-90) scale(0.95,1)" text-anchor="end" font-size="10.0">10</text><text class="tl" transform="translate(100.2,336.9) rotate(-90) scale(0.95,1)" font-size="8.8">1</text><text class="tl" transform="translate(106.4,304.1) rotate(-90) scale(0.95,1)" text-anchor="end" font-size="10.0">10</text><text class="tl" transform="translate(100.2,303.9) rotate(-90) scale(0.95,1)" font-size="8.8">2</text><text class="tl" transform="translate(106.4,271.1) rotate(-90) scale(0.95,1)" text-anchor="end" font-size="10.0">10</text><text class="tl" transform="translate(100.2,270.9) rotate(-90) scale(0.95,1)" font-size="8.8">3</text><text class="tl" transform="translate(106.4,238) rotate(-90) scale(0.95,1)" text-anchor="end" font-size="10.0">10</text><text class="tl" transform="translate(100.2,237.8) rotate(-90) scale(0.95,1)" font-size="8.8">4</text><text class="tl" transform="translate(287.9,387.3) scale(0.95,1)" text-anchor="end" font-size="10.0">10</text><text class="tl" transform="translate(287.5,381.1) scale(0.95,1)" font-size="8.8">0</text><text class="tl" transform="translate(322.6,387.3) scale(0.95,1)" text-anchor="end" font-size="10.0">10</text><text class="tl" transform="translate(322.2,381.1) scale(0.95,1)" font-size="8.8">1</text><text class="tl" transform="translate(357.2,387.3) scale(0.95,1)" text-anchor="end" font-size="10.0">10</text><text class="tl" transform="translate(356.8,381.1) scale(0.95,1)" font-size="8.8">2</text><text class="tl" transform="translate(391.9,387.3) scale(0.95,1)" text-anchor="end" font-size="10.0">10</text><text class="tl" transform="translate(391.5,381.1) scale(0.95,1)" font-size="8.8">3</text><text class="tl" transform="translate(426.5,387.3) scale(0.95,1)" text-anchor="end" font-size="10.0">10</text><text class="tl" transform="translate(426.1,381.1) scale(0.95,1)" font-size="8.8">4</text><text class="tl" transform="translate(277.2,368.8) rotate(-90) scale(0.95,1)" text-anchor="end" font-size="10.0">10</text><text class="tl" transform="translate(271,368.6) rotate(-90) scale(0.95,1)" font-size="8.8">0</text><text class="tl" transform="translate(277.2,335.7) rotate(-90) scale(0.95,1)" text-anchor="end" font-size="10.0">10</text><text class="tl" transform="translate(271,335.5) rotate(-90) scale(0.95,1)" font-size="8.8">1</text><text class="tl" transform="translate(277.2,302.6) rotate(-90) scale(0.95,1)" text-anchor="end" font-size="10.0">10</text><text class="tl" transform="translate(271,302.4) rotate(-90) scale(0.95,1)" font-size="8.8">2</text><text class="tl" transform="translate(277.2,269.6) rotate(-90) scale(0.95,1)" text-anchor="end" font-size="10.0">10</text><text class="tl" transform="translate(271,269.4) rotate(-90) scale(0.95,1)" font-size="8.8">3</text><text class="tl" transform="translate(277.2,236.5) rotate(-90) scale(0.95,1)" text-anchor="end" font-size="10.0">10</text><text class="tl" transform="translate(271,236.3) rotate(-90) scale(0.95,1)" font-size="8.8">4</text><text class="tl" transform="translate(33.6,591.9) scale(0.95,1)" text-anchor="end" font-size="10.0">10</text><text class="tl" transform="translate(33.2,585.7) scale(0.95,1)" font-size="8.8">0</text><text class="tl" transform="translate(68.5,591.9) scale(0.95,1)" text-anchor="end" font-size="10.0">10</text><text class="tl" transform="translate(68.1,585.7) scale(0.95,1)" font-size="8.8">1</text><text class="tl" transform="translate(103.4,591.9) scale(0.95,1)" text-anchor="end" font-size="10.0">10</text><text class="tl" transform="translate(103,585.7) scale(0.95,1)" font-size="8.8">2</text><text class="tl" transform="translate(138.4,591.9) scale(0.95,1)" text-anchor="end" font-size="10.0">10</text><text class="tl" transform="translate(138,585.7) scale(0.95,1)" font-size="8.8">3</text><text class="tl" transform="translate(173.3,591.9) scale(0.95,1)" text-anchor="end" font-size="10.0">10</text><text class="tl" transform="translate(172.9,585.7) scale(0.95,1)" font-size="8.8">4</text><text class="tl" transform="translate(21.7,576.5) rotate(-90) scale(0.95,1)" text-anchor="middle" font-size="10.0">0</text><text class="tl" transform="translate(21.7,551.7) rotate(-90) scale(0.95,1)" text-anchor="middle" font-size="10.0">80</text><text class="tl" transform="translate(21.7,526.9) rotate(-90) scale(0.95,1)" text-anchor="middle" font-size="10.0">160</text><text class="tl" transform="translate(21.7,502.1) rotate(-90) scale(0.95,1)" text-anchor="middle" font-size="10.0">240</text><text class="tl" transform="translate(21.7,477.3) rotate(-90) scale(0.95,1)" text-anchor="middle" font-size="10.0">320</text><text class="tl" transform="translate(21.7,452.5) rotate(-90) scale(0.95,1)" text-anchor="middle" font-size="10.0">400</text><text class="tl" transform="translate(202.3,591.7) scale(0.95,1)" text-anchor="end" font-size="10.0">10</text><text class="tl" transform="translate(201.9,585.5) scale(0.95,1)" font-size="8.8">0</text><text class="tl" transform="translate(237.4,591.7) scale(0.95,1)" text-anchor="end" font-size="10.0">10</text><text class="tl" transform="translate(237,585.5) scale(0.95,1)" font-size="8.8">1</text><text class="tl" transform="translate(272.4,591.7) scale(0.95,1)" text-anchor="end" font-size="10.0">10</text><text class="tl" transform="translate(272.1,585.5) scale(0.95,1)" font-size="8.8">2</text><text class="tl" transform="translate(307.5,591.7) scale(0.95,1)" text-anchor="end" font-size="10.0">10</text><text class="tl" transform="translate(307.1,585.5) scale(0.95,1)" font-size="8.8">3</text><text class="tl" transform="translate(342.6,591.7) scale(0.95,1)" text-anchor="end" font-size="10.0">10</text><text class="tl" transform="translate(342.2,585.5) scale(0.95,1)" font-size="8.8">4</text><text class="tl" transform="translate(190.4,576.3) rotate(-90) scale(0.95,1)" text-anchor="middle" font-size="10.0">0</text><text class="tl" transform="translate(190.4,551.5) rotate(-90) scale(0.95,1)" text-anchor="middle" font-size="10.0">80</text><text class="tl" transform="translate(190.4,526.7) rotate(-90) scale(0.95,1)" text-anchor="middle" font-size="10.0">160</text><text class="tl" transform="translate(190.4,501.9) rotate(-90) scale(0.95,1)" text-anchor="middle" font-size="10.0">240</text><text class="tl" transform="translate(190.4,477.1) rotate(-90) scale(0.95,1)" text-anchor="middle" font-size="10.0">320</text><text class="tl" transform="translate(190.4,452.3) rotate(-90) scale(0.95,1)" text-anchor="middle" font-size="10.0">400</text><text class="tl" transform="translate(374.5,592) scale(0.95,1)" text-anchor="end" font-size="10.0">10</text><text class="tl" transform="translate(374.1,585.8) scale(0.95,1)" font-size="8.8">0</text><text class="tl" transform="translate(409.5,592) scale(0.95,1)" text-anchor="end" font-size="10.0">10</text><text class="tl" transform="translate(409.1,585.8) scale(0.95,1)" font-size="8.8">1</text><text class="tl" transform="translate(444.5,592) scale(0.95,1)" text-anchor="end" font-size="10.0">10</text><text class="tl" transform="translate(444.1,585.8) scale(0.95,1)" font-size="8.8">2</text><text class="tl" transform="translate(479.5,592) scale(0.95,1)" text-anchor="end" font-size="10.0">10</text><text class="tl" transform="translate(479.1,585.8) scale(0.95,1)" font-size="8.8">3</text><text class="tl" transform="translate(514.5,592) scale(0.95,1)" text-anchor="end" font-size="10.0">10</text><text class="tl" transform="translate(514.1,585.8) scale(0.95,1)" font-size="8.8">4</text><text class="tl" transform="translate(362.5,575.7) rotate(-90) scale(0.95,1)" text-anchor="middle" font-size="10.0">0</text><text class="tl" transform="translate(362.5,550) rotate(-90) scale(0.95,1)" text-anchor="middle" font-size="10.0">10</text><text class="tl" transform="translate(362.5,524.3) rotate(-90) scale(0.95,1)" text-anchor="middle" font-size="10.0">20</text><text class="tl" transform="translate(362.5,498.7) rotate(-90) scale(0.95,1)" text-anchor="middle" font-size="10.0">30</text><text class="tl" transform="translate(362.5,473) rotate(-90) scale(0.95,1)" text-anchor="middle" font-size="10.0">40</text><text class="tl" transform="translate(362.5,447.3) rotate(-90) scale(0.95,1)" text-anchor="middle" font-size="10.0">50</text><text x="82.0" y="21.0" font-size="27" font-weight="bold" font-family="Liberation Sans">A</text><text x="265.5" y="21.3" font-size="27" font-weight="bold" font-family="Liberation Sans">B</text><text x="81.0" y="225.0" font-size="27" font-weight="bold" font-family="Liberation Sans">C</text><text x="260.5" y="227.7" font-size="27" font-weight="bold" font-family="Liberation Sans">D</text><text x="3.5" y="436.0" font-size="27" font-weight="bold" font-family="Liberation Sans">E</text><text x="182.5" y="434.8" font-size="27" font-weight="bold" font-family="Liberation Sans">F</text><text x="348.5" y="432.4" font-size="27" font-weight="bold" font-family="Liberation Sans">G</text><text x="262.2" y="194.8" text-anchor="middle" font-size="14.4" font-weight="bold" font-family="Liberation Serif" stroke="#000" stroke-width="0.35">Human CD45 (PerCP)</text><text x="261.5" y="400.3" text-anchor="middle" font-size="14.4" font-weight="bold" font-family="Liberation Serif" stroke="#000" stroke-width="0.35">Human CD45 (PerCP)</text><text transform="translate(92,102.5) rotate(-90)" text-anchor="middle" font-size="14.4" font-weight="bold" font-family="Liberation Serif" stroke="#000" stroke-width="0.35">Side Scatter</text><text transform="translate(92.6,309.3) rotate(-90)" text-anchor="middle" font-size="14.5" font-weight="bold" font-family="Liberation Serif" stroke="#000" stroke-width="0.35">human CD13 (FITC)</text><text transform="translate(11,509.5) rotate(-90)" text-anchor="middle" font-size="14.4" font-weight="bold" font-family="Liberation Serif" stroke="#000" stroke-width="0.35">Counts</text><text x="99.2" y="602.3" text-anchor="middle" font-size="14.4" font-weight="bold" font-family="Liberation Serif" stroke="#000" stroke-width="0.35">gp91<tspan font-style="italic">phox</tspan> Transgene</text><text x="99.3" y="619.2" text-anchor="middle" font-size="14.4" font-weight="bold" font-family="Liberation Serif" stroke="#000" stroke-width="0.35">Expression (Cy5)</text><text x="269.5" y="601.7" text-anchor="middle" font-size="14.4" font-weight="bold" font-family="Liberation Serif" stroke="#000" stroke-width="0.35">Native gp91<tspan font-style="italic">phox</tspan></text><text x="273.1" y="619.2" text-anchor="middle" font-size="14.4" font-weight="bold" font-family="Liberation Serif" stroke="#000" stroke-width="0.35">Expression (Cy5)</text><text x="436.1" y="603.2" text-anchor="middle" font-size="14.4" font-weight="bold" font-family="Liberation Serif" stroke="#000" stroke-width="0.35">CFP Transgene</text><text x="433.8" y="619.2" text-anchor="middle" font-size="14.4" font-weight="bold" font-family="Liberation Serif" stroke="#000" stroke-width="0.35">Expression</text><text transform="translate(126.0,540.2) skewX(-9)" font-size="15" font-weight="bold" font-family="Liberation Serif">22%</text><text transform="translate(289.2,539.8) skewX(-9)" font-size="15" font-weight="bold" font-family="Liberation Serif">97%</text><text transform="translate(459.4,541.8) skewX(-9)" font-size="15" font-weight="bold" font-family="Liberation Serif">42%</text></g>
</svg></body></html>
